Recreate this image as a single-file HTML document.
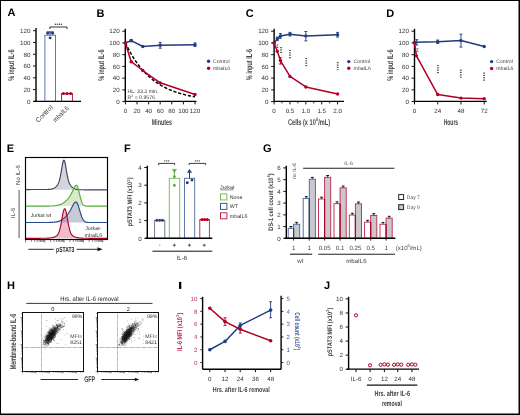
<!DOCTYPE html>
<html><head><meta charset="utf-8"><style>
html,body{margin:0;padding:0;background:#fff;}
svg{display:block;font-family:"Liberation Sans",sans-serif;will-change:transform;text-rendering:geometricPrecision;}
</style></head><body>
<svg width="520" height="415" viewBox="0 0 520 415">
<rect x="0" y="0" width="520" height="415" fill="#fff"/>
<text x="7.60" y="16.20" font-size="11.0" text-anchor="start" fill="#000" font-weight="bold" >A</text>
<line x1="36.00" y1="28.00" x2="36.00" y2="101.40" stroke="#000" stroke-width="1.4" />
<line x1="33.00" y1="101.40" x2="36.00" y2="101.40" stroke="#111" stroke-width="1.0" />
<text x="30.40" y="103.65" font-size="6.2" text-anchor="end" fill="#333" >0</text>
<line x1="33.00" y1="89.62" x2="36.00" y2="89.62" stroke="#111" stroke-width="1.0" />
<text x="30.40" y="91.87" font-size="6.2" text-anchor="end" fill="#333" >20</text>
<line x1="33.00" y1="77.83" x2="36.00" y2="77.83" stroke="#111" stroke-width="1.0" />
<text x="30.40" y="80.08" font-size="6.2" text-anchor="end" fill="#333" >40</text>
<line x1="33.00" y1="66.05" x2="36.00" y2="66.05" stroke="#111" stroke-width="1.0" />
<text x="30.40" y="68.30" font-size="6.2" text-anchor="end" fill="#333" >60</text>
<line x1="33.00" y1="54.26" x2="36.00" y2="54.26" stroke="#111" stroke-width="1.0" />
<text x="30.40" y="56.51" font-size="6.2" text-anchor="end" fill="#333" >80</text>
<line x1="33.00" y1="42.48" x2="36.00" y2="42.48" stroke="#111" stroke-width="1.0" />
<text x="30.40" y="44.73" font-size="6.2" text-anchor="end" fill="#333" >100</text>
<line x1="33.00" y1="30.70" x2="36.00" y2="30.70" stroke="#111" stroke-width="1.0" />
<text x="30.40" y="32.95" font-size="6.2" text-anchor="end" fill="#333" >120</text>
<rect x="44.9" y="35.2" width="10.6" height="66.2" fill="#fff" stroke="#4d68a3" stroke-width="0.9"/>
<rect x="61.6" y="93.6" width="10.8" height="7.8" fill="#fff" stroke="#b0002a" stroke-width="0.9"/>
<line x1="50.10" y1="31.90" x2="50.10" y2="35.20" stroke="#1f3c7c" stroke-width="1.0" />
<line x1="46.60" y1="32.00" x2="53.80" y2="32.00" stroke="#1f3c7c" stroke-width="1.2" />
<circle cx="47.70" cy="33.20" r="1.45" fill="#1f3c7c"/>
<circle cx="52.60" cy="33.20" r="1.45" fill="#1f3c7c"/>
<circle cx="50.10" cy="37.90" r="1.45" fill="#1f3c7c"/>
<circle cx="63.40" cy="93.50" r="1.55" fill="#b0002a"/>
<circle cx="67.00" cy="93.50" r="1.55" fill="#b0002a"/>
<circle cx="70.60" cy="93.50" r="1.55" fill="#b0002a"/>
<line x1="61.60" y1="93.70" x2="72.40" y2="93.70" stroke="#b0002a" stroke-width="1.1" />
<line x1="33.50" y1="101.40" x2="81.00" y2="101.40" stroke="#000" stroke-width="1.4" />
<path d="M49.9 29.0 V27.0 H67.0 V29.0" fill="none" stroke="#333" stroke-width="1"/>
<rect x="54.60" y="23.50" width="1.4" height="1.4" rx="0.5" fill="#555"/>
<rect x="56.65" y="23.50" width="1.4" height="1.4" rx="0.5" fill="#555"/>
<rect x="58.70" y="23.50" width="1.4" height="1.4" rx="0.5" fill="#555"/>
<rect x="60.75" y="23.50" width="1.4" height="1.4" rx="0.5" fill="#555"/>
<text x="53.20" y="107.80" font-size="6.6" text-anchor="end" fill="#333" textLength="21.0" lengthAdjust="spacingAndGlyphs" transform="rotate(-45 53.20 107.80)" >Control</text>
<text x="69.30" y="108.60" font-size="6.6" text-anchor="end" fill="#333" textLength="19.5" lengthAdjust="spacingAndGlyphs" transform="rotate(-45 69.30 108.60)" >mbaIL6</text>
<g transform="translate(13.90 65.20) rotate(-90) scale(0.6597 1)"><text x="0" y="0" font-size="8.4" text-anchor="middle" fill="#454545" font-weight="bold">% input IL-6</text></g>
<text x="96.50" y="16.50" font-size="11.0" text-anchor="start" fill="#000" font-weight="bold" >B</text>
<line x1="125.30" y1="28.80" x2="125.30" y2="101.40" stroke="#000" stroke-width="1.4" />
<line x1="122.30" y1="101.60" x2="125.30" y2="101.60" stroke="#111" stroke-width="1.0" />
<text x="119.70" y="103.85" font-size="6.2" text-anchor="end" fill="#333" >0</text>
<line x1="122.30" y1="89.87" x2="125.30" y2="89.87" stroke="#111" stroke-width="1.0" />
<text x="119.70" y="92.12" font-size="6.2" text-anchor="end" fill="#333" >20</text>
<line x1="122.30" y1="78.14" x2="125.30" y2="78.14" stroke="#111" stroke-width="1.0" />
<text x="119.70" y="80.39" font-size="6.2" text-anchor="end" fill="#333" >40</text>
<line x1="122.30" y1="66.41" x2="125.30" y2="66.41" stroke="#111" stroke-width="1.0" />
<text x="119.70" y="68.66" font-size="6.2" text-anchor="end" fill="#333" >60</text>
<line x1="122.30" y1="54.68" x2="125.30" y2="54.68" stroke="#111" stroke-width="1.0" />
<text x="119.70" y="56.93" font-size="6.2" text-anchor="end" fill="#333" >80</text>
<line x1="122.30" y1="42.95" x2="125.30" y2="42.95" stroke="#111" stroke-width="1.0" />
<text x="119.70" y="45.20" font-size="6.2" text-anchor="end" fill="#333" >100</text>
<line x1="122.30" y1="31.22" x2="125.30" y2="31.22" stroke="#111" stroke-width="1.0" />
<text x="119.70" y="33.47" font-size="6.2" text-anchor="end" fill="#333" >120</text>
<line x1="125.30" y1="101.40" x2="196.50" y2="101.40" stroke="#000" stroke-width="1.4" />
<line x1="125.40" y1="101.40" x2="125.40" y2="104.40" stroke="#111" stroke-width="1.0" />
<text x="125.40" y="113.20" font-size="6.2" text-anchor="middle" fill="#333" >0</text>
<line x1="137.00" y1="101.40" x2="137.00" y2="104.40" stroke="#111" stroke-width="1.0" />
<text x="137.00" y="113.20" font-size="6.2" text-anchor="middle" fill="#333" >20</text>
<line x1="148.60" y1="101.40" x2="148.60" y2="104.40" stroke="#111" stroke-width="1.0" />
<text x="148.60" y="113.20" font-size="6.2" text-anchor="middle" fill="#333" >40</text>
<line x1="160.20" y1="101.40" x2="160.20" y2="104.40" stroke="#111" stroke-width="1.0" />
<text x="160.20" y="113.20" font-size="6.2" text-anchor="middle" fill="#333" >60</text>
<line x1="171.80" y1="101.40" x2="171.80" y2="104.40" stroke="#111" stroke-width="1.0" />
<text x="171.80" y="113.20" font-size="6.2" text-anchor="middle" fill="#333" >80</text>
<line x1="183.40" y1="101.40" x2="183.40" y2="104.40" stroke="#111" stroke-width="1.0" />
<text x="183.40" y="113.20" font-size="6.2" text-anchor="middle" fill="#333" >100</text>
<line x1="195.00" y1="101.40" x2="195.00" y2="104.40" stroke="#111" stroke-width="1.0" />
<text x="195.00" y="113.20" font-size="6.2" text-anchor="middle" fill="#333" >120</text>
<g transform="translate(103.60 65.20) rotate(-90) scale(0.6597 1)"><text x="0" y="0" font-size="8.4" text-anchor="middle" fill="#454545" font-weight="bold">% input IL-6</text></g>
<g transform="translate(161.80 125.00) rotate(0) scale(0.6365 1)"><text x="0" y="0" font-size="8.4" text-anchor="middle" fill="#454545" font-weight="bold">Minutes</text></g>
<polyline points="125.40,42.95 126.56,45.35 127.72,47.65 128.88,49.86 130.04,51.97 131.20,54.00 132.36,55.95 133.52,57.81 134.68,59.61 135.84,61.32 137.00,62.97 138.16,64.55 139.32,66.07 140.48,67.52 141.64,68.91 142.80,70.25 143.96,71.53 145.12,72.76 146.28,73.94 147.44,75.07 148.60,76.16 149.76,77.20 150.92,78.19 152.08,79.15 153.24,80.07 154.40,80.95 155.56,81.79 156.72,82.60 157.88,83.38 159.04,84.13 160.20,84.84 161.36,85.53 162.52,86.18 163.68,86.81 164.84,87.42 166.00,88.00 167.16,88.56 168.32,89.09 169.48,89.60 170.64,90.09 171.80,90.56 172.96,91.01 174.12,91.45 175.28,91.86 176.44,92.26 177.60,92.64 178.76,93.01 179.92,93.36 181.08,93.70 182.24,94.02 183.40,94.33 184.56,94.63 185.72,94.91 186.88,95.19 188.04,95.45 189.20,95.70 190.36,95.94 191.52,96.17 192.68,96.39 193.84,96.61 195.00,96.81" stroke="#000" stroke-width="1.5" fill="none" stroke-linejoin="round" stroke-dasharray="3.2,1.8"/>
<polyline points="125.40,42.95 131.20,40.60 142.80,46.47 160.20,45.30 195.00,44.71" stroke="#1f3c7c" stroke-width="1.5" fill="none" stroke-linejoin="round" />
<polyline points="125.40,42.95 131.20,61.72 142.80,70.52 160.20,82.83 195.00,94.56" stroke="#b0002a" stroke-width="1.5" fill="none" stroke-linejoin="round" />
<line x1="160.20" y1="42.36" x2="160.20" y2="48.23" stroke="#1f3c7c" stroke-width="0.9" />
<line x1="158.70" y1="42.36" x2="161.70" y2="42.36" stroke="#1f3c7c" stroke-width="0.9" />
<line x1="158.70" y1="48.23" x2="161.70" y2="48.23" stroke="#1f3c7c" stroke-width="0.9" />
<line x1="195.00" y1="42.95" x2="195.00" y2="46.47" stroke="#1f3c7c" stroke-width="0.9" />
<line x1="193.50" y1="42.95" x2="196.50" y2="42.95" stroke="#1f3c7c" stroke-width="0.9" />
<line x1="193.50" y1="46.47" x2="196.50" y2="46.47" stroke="#1f3c7c" stroke-width="0.9" />
<line x1="131.20" y1="39.43" x2="131.20" y2="41.78" stroke="#1f3c7c" stroke-width="0.9" />
<line x1="129.70" y1="39.43" x2="132.70" y2="39.43" stroke="#1f3c7c" stroke-width="0.9" />
<line x1="129.70" y1="41.78" x2="132.70" y2="41.78" stroke="#1f3c7c" stroke-width="0.9" />
<circle cx="125.40" cy="42.95" r="1.7" fill="#1f3c7c"/>
<circle cx="131.20" cy="40.60" r="1.7" fill="#1f3c7c"/>
<circle cx="142.80" cy="46.47" r="1.7" fill="#1f3c7c"/>
<circle cx="160.20" cy="45.30" r="1.7" fill="#1f3c7c"/>
<circle cx="195.00" cy="44.71" r="1.7" fill="#1f3c7c"/>
<circle cx="125.40" cy="42.95" r="1.7" fill="#b0002a"/>
<circle cx="131.20" cy="61.72" r="1.7" fill="#b0002a"/>
<circle cx="142.80" cy="70.52" r="1.7" fill="#b0002a"/>
<circle cx="160.20" cy="82.83" r="1.7" fill="#b0002a"/>
<circle cx="195.00" cy="94.56" r="1.7" fill="#b0002a"/>
<text x="127.60" y="93.00" font-size="5.2" text-anchor="start" fill="#333" >HL: 33.2 min.</text>
<text x="127.60" y="99.00" font-size="5.2" text-anchor="start" fill="#333" >R<tspan font-size="3.3" dy="-2.1">2</tspan><tspan dy="2.1"> = 0.9576</tspan></text>
<circle cx="208.60" cy="61.30" r="1.7" fill="#1f3c7c"/>
<text x="213.00" y="63.15" font-size="5.15" text-anchor="start" fill="#444" >Control</text>
<circle cx="208.60" cy="68.20" r="1.7" fill="#b0002a"/>
<text x="213.00" y="70.05" font-size="5.15" text-anchor="start" fill="#444" >mbaIL6</text>
<text x="245.70" y="16.50" font-size="11.0" text-anchor="start" fill="#000" font-weight="bold" >C</text>
<line x1="274.10" y1="28.80" x2="274.10" y2="101.40" stroke="#000" stroke-width="1.4" />
<line x1="271.10" y1="101.60" x2="274.10" y2="101.60" stroke="#111" stroke-width="1.0" />
<text x="268.50" y="103.85" font-size="6.2" text-anchor="end" fill="#333" >0</text>
<line x1="271.10" y1="89.87" x2="274.10" y2="89.87" stroke="#111" stroke-width="1.0" />
<text x="268.50" y="92.12" font-size="6.2" text-anchor="end" fill="#333" >20</text>
<line x1="271.10" y1="78.14" x2="274.10" y2="78.14" stroke="#111" stroke-width="1.0" />
<text x="268.50" y="80.39" font-size="6.2" text-anchor="end" fill="#333" >40</text>
<line x1="271.10" y1="66.41" x2="274.10" y2="66.41" stroke="#111" stroke-width="1.0" />
<text x="268.50" y="68.66" font-size="6.2" text-anchor="end" fill="#333" >60</text>
<line x1="271.10" y1="54.68" x2="274.10" y2="54.68" stroke="#111" stroke-width="1.0" />
<text x="268.50" y="56.93" font-size="6.2" text-anchor="end" fill="#333" >80</text>
<line x1="271.10" y1="42.95" x2="274.10" y2="42.95" stroke="#111" stroke-width="1.0" />
<text x="268.50" y="45.20" font-size="6.2" text-anchor="end" fill="#333" >100</text>
<line x1="271.10" y1="31.22" x2="274.10" y2="31.22" stroke="#111" stroke-width="1.0" />
<text x="268.50" y="33.47" font-size="6.2" text-anchor="end" fill="#333" >120</text>
<line x1="274.10" y1="101.40" x2="344.00" y2="101.40" stroke="#000" stroke-width="1.4" />
<line x1="274.10" y1="101.40" x2="274.10" y2="104.40" stroke="#111" stroke-width="1.0" />
<text x="274.10" y="113.20" font-size="6.2" text-anchor="middle" fill="#333" >0</text>
<line x1="289.98" y1="101.40" x2="289.98" y2="104.40" stroke="#111" stroke-width="1.0" />
<text x="289.98" y="113.20" font-size="6.2" text-anchor="middle" fill="#333" >0.5</text>
<line x1="305.85" y1="101.40" x2="305.85" y2="104.40" stroke="#111" stroke-width="1.0" />
<text x="305.85" y="113.20" font-size="6.2" text-anchor="middle" fill="#333" >1.0</text>
<line x1="321.73" y1="101.40" x2="321.73" y2="104.40" stroke="#111" stroke-width="1.0" />
<text x="321.73" y="113.20" font-size="6.2" text-anchor="middle" fill="#333" >1.5</text>
<line x1="337.60" y1="101.40" x2="337.60" y2="104.40" stroke="#111" stroke-width="1.0" />
<text x="337.60" y="113.20" font-size="6.2" text-anchor="middle" fill="#333" >2.0</text>
<line x1="282.04" y1="101.40" x2="282.04" y2="103.40" stroke="#111" stroke-width="0.9" />
<line x1="297.91" y1="101.40" x2="297.91" y2="103.40" stroke="#111" stroke-width="0.9" />
<line x1="313.79" y1="101.40" x2="313.79" y2="103.40" stroke="#111" stroke-width="0.9" />
<line x1="329.66" y1="101.40" x2="329.66" y2="103.40" stroke="#111" stroke-width="0.9" />
<g transform="translate(252.00 64.60) rotate(-90) scale(0.6597 1)"><text x="0" y="0" font-size="8.4" text-anchor="middle" fill="#454545" font-weight="bold">% input IL-6</text></g>
<g transform="translate(309.05 124.70) rotate(0) scale(0.6712 1)"><text x="0" y="0" font-size="8.4" text-anchor="middle" fill="#454545" font-weight="bold">Cells (x 10<tspan font-size="5.04" dx="0.42" dy="-3.53">6</tspan><tspan dx="0.42" dy="3.53">/mL)</tspan></text></g>
<polyline points="274.10,42.95 277.28,38.84 280.45,35.91 289.98,34.15 305.85,35.91 337.60,34.74" stroke="#1f3c7c" stroke-width="1.5" fill="none" stroke-linejoin="round" />
<polyline points="274.10,42.95 277.28,51.16 280.45,60.54 289.98,76.38 305.85,86.94 337.60,93.98" stroke="#b0002a" stroke-width="1.5" fill="none" stroke-linejoin="round" />
<line x1="277.28" y1="37.08" x2="277.28" y2="40.60" stroke="#1f3c7c" stroke-width="0.9" />
<line x1="275.78" y1="37.08" x2="278.78" y2="37.08" stroke="#1f3c7c" stroke-width="0.9" />
<line x1="275.78" y1="40.60" x2="278.78" y2="40.60" stroke="#1f3c7c" stroke-width="0.9" />
<line x1="280.45" y1="33.57" x2="280.45" y2="38.26" stroke="#1f3c7c" stroke-width="0.9" />
<line x1="278.95" y1="33.57" x2="281.95" y2="33.57" stroke="#1f3c7c" stroke-width="0.9" />
<line x1="278.95" y1="38.26" x2="281.95" y2="38.26" stroke="#1f3c7c" stroke-width="0.9" />
<line x1="289.98" y1="32.39" x2="289.98" y2="35.91" stroke="#1f3c7c" stroke-width="0.9" />
<line x1="288.48" y1="32.39" x2="291.48" y2="32.39" stroke="#1f3c7c" stroke-width="0.9" />
<line x1="288.48" y1="35.91" x2="291.48" y2="35.91" stroke="#1f3c7c" stroke-width="0.9" />
<line x1="305.85" y1="31.51" x2="305.85" y2="40.90" stroke="#1f3c7c" stroke-width="0.9" />
<line x1="304.35" y1="31.51" x2="307.35" y2="31.51" stroke="#1f3c7c" stroke-width="0.9" />
<line x1="304.35" y1="40.90" x2="307.35" y2="40.90" stroke="#1f3c7c" stroke-width="0.9" />
<line x1="337.60" y1="32.39" x2="337.60" y2="37.08" stroke="#1f3c7c" stroke-width="0.9" />
<line x1="336.10" y1="32.39" x2="339.10" y2="32.39" stroke="#1f3c7c" stroke-width="0.9" />
<line x1="336.10" y1="37.08" x2="339.10" y2="37.08" stroke="#1f3c7c" stroke-width="0.9" />
<line x1="280.45" y1="57.61" x2="280.45" y2="64.06" stroke="#b0002a" stroke-width="0.9" />
<line x1="278.95" y1="57.61" x2="281.95" y2="57.61" stroke="#b0002a" stroke-width="0.9" />
<line x1="278.95" y1="64.06" x2="281.95" y2="64.06" stroke="#b0002a" stroke-width="0.9" />
<circle cx="274.10" cy="42.95" r="1.7" fill="#1f3c7c"/>
<circle cx="277.28" cy="38.84" r="1.7" fill="#1f3c7c"/>
<circle cx="280.45" cy="35.91" r="1.7" fill="#1f3c7c"/>
<circle cx="289.98" cy="34.15" r="1.7" fill="#1f3c7c"/>
<circle cx="305.85" cy="35.91" r="1.7" fill="#1f3c7c"/>
<circle cx="337.60" cy="34.74" r="1.7" fill="#1f3c7c"/>
<circle cx="274.10" cy="42.95" r="1.7" fill="#b0002a"/>
<circle cx="277.28" cy="51.16" r="1.7" fill="#b0002a"/>
<circle cx="280.45" cy="60.54" r="1.7" fill="#b0002a"/>
<circle cx="289.98" cy="76.38" r="1.7" fill="#b0002a"/>
<circle cx="305.85" cy="86.94" r="1.7" fill="#b0002a"/>
<circle cx="337.60" cy="93.98" r="1.7" fill="#b0002a"/>
<rect x="276.40" y="44.40" width="2.0" height="1.2" rx="0.4" fill="#555"/>
<rect x="276.40" y="46.75" width="2.0" height="1.2" rx="0.4" fill="#555"/>
<rect x="280.10" y="47.00" width="2.0" height="1.2" rx="0.4" fill="#555"/>
<rect x="280.10" y="49.35" width="2.0" height="1.2" rx="0.4" fill="#555"/>
<rect x="280.10" y="51.70" width="2.0" height="1.2" rx="0.4" fill="#555"/>
<rect x="288.90" y="49.90" width="2.0" height="1.2" rx="0.4" fill="#555"/>
<rect x="288.90" y="52.25" width="2.0" height="1.2" rx="0.4" fill="#555"/>
<rect x="288.90" y="54.60" width="2.0" height="1.2" rx="0.4" fill="#555"/>
<rect x="288.90" y="56.95" width="2.0" height="1.2" rx="0.4" fill="#555"/>
<rect x="305.20" y="57.90" width="2.0" height="1.2" rx="0.4" fill="#555"/>
<rect x="305.20" y="60.25" width="2.0" height="1.2" rx="0.4" fill="#555"/>
<rect x="305.20" y="62.60" width="2.0" height="1.2" rx="0.4" fill="#555"/>
<rect x="305.20" y="64.95" width="2.0" height="1.2" rx="0.4" fill="#555"/>
<rect x="336.70" y="62.10" width="2.0" height="1.2" rx="0.4" fill="#555"/>
<rect x="336.70" y="64.45" width="2.0" height="1.2" rx="0.4" fill="#555"/>
<rect x="336.70" y="66.80" width="2.0" height="1.2" rx="0.4" fill="#555"/>
<rect x="336.70" y="69.15" width="2.0" height="1.2" rx="0.4" fill="#555"/>
<circle cx="348.80" cy="61.60" r="1.7" fill="#1f3c7c"/>
<text x="353.60" y="63.45" font-size="5.15" text-anchor="start" fill="#444" >Control</text>
<circle cx="348.80" cy="68.30" r="1.7" fill="#b0002a"/>
<text x="353.60" y="70.15" font-size="5.15" text-anchor="start" fill="#444" >mbaIL6</text>
<text x="386.20" y="16.50" font-size="11.0" text-anchor="start" fill="#000" font-weight="bold" >D</text>
<line x1="414.50" y1="28.80" x2="414.50" y2="101.40" stroke="#000" stroke-width="1.4" />
<line x1="411.50" y1="101.60" x2="414.50" y2="101.60" stroke="#111" stroke-width="1.0" />
<text x="408.90" y="103.85" font-size="6.2" text-anchor="end" fill="#333" >0</text>
<line x1="411.50" y1="89.87" x2="414.50" y2="89.87" stroke="#111" stroke-width="1.0" />
<text x="408.90" y="92.12" font-size="6.2" text-anchor="end" fill="#333" >20</text>
<line x1="411.50" y1="78.14" x2="414.50" y2="78.14" stroke="#111" stroke-width="1.0" />
<text x="408.90" y="80.39" font-size="6.2" text-anchor="end" fill="#333" >40</text>
<line x1="411.50" y1="66.41" x2="414.50" y2="66.41" stroke="#111" stroke-width="1.0" />
<text x="408.90" y="68.66" font-size="6.2" text-anchor="end" fill="#333" >60</text>
<line x1="411.50" y1="54.68" x2="414.50" y2="54.68" stroke="#111" stroke-width="1.0" />
<text x="408.90" y="56.93" font-size="6.2" text-anchor="end" fill="#333" >80</text>
<line x1="411.50" y1="42.95" x2="414.50" y2="42.95" stroke="#111" stroke-width="1.0" />
<text x="408.90" y="45.20" font-size="6.2" text-anchor="end" fill="#333" >100</text>
<line x1="411.50" y1="31.22" x2="414.50" y2="31.22" stroke="#111" stroke-width="1.0" />
<text x="408.90" y="33.47" font-size="6.2" text-anchor="end" fill="#333" >120</text>
<line x1="414.50" y1="101.40" x2="486.80" y2="101.40" stroke="#000" stroke-width="1.4" />
<line x1="414.50" y1="101.40" x2="414.50" y2="104.40" stroke="#111" stroke-width="1.0" />
<text x="414.50" y="113.20" font-size="6.2" text-anchor="middle" fill="#333" >0</text>
<line x1="437.73" y1="101.40" x2="437.73" y2="104.40" stroke="#111" stroke-width="1.0" />
<text x="437.73" y="113.20" font-size="6.2" text-anchor="middle" fill="#333" >24</text>
<line x1="460.96" y1="101.40" x2="460.96" y2="104.40" stroke="#111" stroke-width="1.0" />
<text x="460.96" y="113.20" font-size="6.2" text-anchor="middle" fill="#333" >48</text>
<line x1="484.20" y1="101.40" x2="484.20" y2="104.40" stroke="#111" stroke-width="1.0" />
<text x="484.20" y="113.20" font-size="6.2" text-anchor="middle" fill="#333" >72</text>
<g transform="translate(393.00 65.20) rotate(-90) scale(0.6597 1)"><text x="0" y="0" font-size="8.4" text-anchor="middle" fill="#454545" font-weight="bold">% input IL-6</text></g>
<g transform="translate(450.90 125.00) rotate(0) scale(0.5975 1)"><text x="0" y="0" font-size="8.4" text-anchor="middle" fill="#454545" font-weight="bold">Hours</text></g>
<polyline points="414.50,42.36 437.73,41.78 460.96,40.60 484.20,46.47" stroke="#1f3c7c" stroke-width="1.5" fill="none" stroke-linejoin="round" />
<polyline points="414.50,42.95 416.44,55.85 437.73,94.56 460.96,98.08 484.20,98.67" stroke="#b0002a" stroke-width="1.5" fill="none" stroke-linejoin="round" />
<line x1="416.70" y1="39.72" x2="416.70" y2="45.00" stroke="#1f3c7c" stroke-width="1.0" />
<line x1="415.20" y1="39.72" x2="418.20" y2="39.72" stroke="#1f3c7c" stroke-width="1.0" />
<line x1="415.20" y1="45.00" x2="418.20" y2="45.00" stroke="#1f3c7c" stroke-width="1.0" />
<line x1="437.73" y1="40.02" x2="437.73" y2="43.54" stroke="#1f3c7c" stroke-width="0.9" />
<line x1="436.23" y1="40.02" x2="439.23" y2="40.02" stroke="#1f3c7c" stroke-width="0.9" />
<line x1="436.23" y1="43.54" x2="439.23" y2="43.54" stroke="#1f3c7c" stroke-width="0.9" />
<line x1="460.96" y1="34.15" x2="460.96" y2="47.06" stroke="#1f3c7c" stroke-width="0.9" />
<line x1="459.46" y1="34.15" x2="462.46" y2="34.15" stroke="#1f3c7c" stroke-width="0.9" />
<line x1="459.46" y1="47.06" x2="462.46" y2="47.06" stroke="#1f3c7c" stroke-width="0.9" />
<circle cx="414.50" cy="42.36" r="1.7" fill="#1f3c7c"/>
<circle cx="437.73" cy="41.78" r="1.7" fill="#1f3c7c"/>
<circle cx="460.96" cy="40.60" r="1.7" fill="#1f3c7c"/>
<circle cx="484.20" cy="46.47" r="1.7" fill="#1f3c7c"/>
<circle cx="414.50" cy="42.95" r="1.7" fill="#b0002a"/>
<circle cx="416.44" cy="55.85" r="1.7" fill="#b0002a"/>
<circle cx="437.73" cy="94.56" r="1.7" fill="#b0002a"/>
<circle cx="460.96" cy="98.08" r="1.7" fill="#b0002a"/>
<circle cx="484.20" cy="98.67" r="1.7" fill="#b0002a"/>
<rect x="416.50" y="48.30" width="2.0" height="1.2" rx="0.4" fill="#555"/>
<rect x="416.50" y="50.65" width="2.0" height="1.2" rx="0.4" fill="#555"/>
<rect x="436.90" y="64.90" width="2.0" height="1.2" rx="0.4" fill="#555"/>
<rect x="436.90" y="67.25" width="2.0" height="1.2" rx="0.4" fill="#555"/>
<rect x="436.90" y="69.60" width="2.0" height="1.2" rx="0.4" fill="#555"/>
<rect x="436.90" y="71.95" width="2.0" height="1.2" rx="0.4" fill="#555"/>
<rect x="459.80" y="69.50" width="2.0" height="1.2" rx="0.4" fill="#555"/>
<rect x="459.80" y="71.85" width="2.0" height="1.2" rx="0.4" fill="#555"/>
<rect x="459.80" y="74.20" width="2.0" height="1.2" rx="0.4" fill="#555"/>
<rect x="459.80" y="76.55" width="2.0" height="1.2" rx="0.4" fill="#555"/>
<rect x="483.10" y="72.50" width="2.0" height="1.2" rx="0.4" fill="#555"/>
<rect x="483.10" y="74.85" width="2.0" height="1.2" rx="0.4" fill="#555"/>
<rect x="483.10" y="77.20" width="2.0" height="1.2" rx="0.4" fill="#555"/>
<rect x="483.10" y="79.55" width="2.0" height="1.2" rx="0.4" fill="#555"/>
<circle cx="491.60" cy="61.60" r="1.7" fill="#1f3c7c"/>
<text x="496.30" y="63.45" font-size="5.15" text-anchor="start" fill="#444" >Control</text>
<circle cx="491.60" cy="68.50" r="1.7" fill="#b0002a"/>
<text x="496.30" y="70.35" font-size="5.15" text-anchor="start" fill="#444" >mbaIL6</text>
<text x="6.70" y="151.70" font-size="11.0" text-anchor="start" fill="#000" font-weight="bold" >E</text>
<path d="M25.50 189.63 L25.90 189.62 L26.30 189.62 L26.70 189.61 L27.10 189.60 L27.50 189.60 L27.90 189.59 L28.30 189.58 L28.70 189.58 L29.10 189.57 L29.50 189.56 L29.90 189.55 L30.30 189.55 L30.70 189.54 L31.10 189.53 L31.50 189.53 L31.90 189.52 L32.30 189.52 L32.70 189.51 L33.10 189.50 L33.50 189.50 L33.90 189.49 L34.30 189.49 L34.70 189.48 L35.10 189.48 L35.50 189.47 L35.90 189.47 L36.30 189.47 L36.70 189.46 L37.10 189.46 L37.50 189.46 L37.90 189.46 L38.30 189.45 L38.70 189.45 L39.10 189.45 L39.50 189.45 L39.90 189.45 L40.30 189.45 L40.70 189.45 L41.10 189.45 L41.50 189.45 L41.90 189.45 L42.30 189.46 L42.70 189.46 L43.10 189.46 L43.50 189.46 L43.90 189.46 L44.30 189.47 L44.70 189.47 L45.10 189.47 L45.50 189.47 L45.90 189.47 L46.30 189.47 L46.70 189.47 L47.10 189.47 L47.50 189.46 L47.90 189.46 L48.30 189.44 L48.70 189.43 L49.10 189.41 L49.50 189.38 L49.90 189.35 L50.30 189.30 L50.70 189.25 L51.10 189.18 L51.50 189.10 L51.90 189.00 L52.30 188.89 L52.70 188.76 L53.10 188.60 L53.50 188.42 L53.90 188.22 L54.30 187.99 L54.70 187.73 L55.10 187.43 L55.50 187.11 L55.90 186.75 L56.30 186.35 L56.70 185.90 L57.10 185.40 L57.50 184.83 L57.90 184.18 L58.30 183.40 L58.70 182.49 L59.10 181.39 L59.50 180.07 L59.90 178.50 L60.30 176.68 L60.70 174.60 L61.10 172.31 L61.50 169.89 L61.90 167.44 L62.30 165.13 L62.70 163.10 L63.10 161.51 L63.50 160.50 L63.90 160.15 L64.30 160.50 L64.70 161.52 L65.10 163.11 L65.50 165.15 L65.90 167.47 L66.30 169.92 L66.70 172.35 L67.10 174.65 L67.50 176.74 L67.90 178.57 L68.30 180.14 L68.70 181.46 L69.10 182.57 L69.50 183.50 L69.90 184.27 L70.30 184.94 L70.70 185.52 L71.10 186.02 L71.50 186.48 L71.90 186.88 L72.30 187.25 L72.70 187.58 L73.10 187.88 L73.50 188.15 L73.90 188.39 L74.30 188.60 L74.70 188.79 L75.10 188.95 L75.50 189.09 L75.90 189.21 L76.30 189.32 L76.70 189.41 L77.10 189.48 L77.50 189.54 L77.90 189.59 L78.30 189.63 L78.70 189.67 L79.10 189.70 L79.50 189.72 L79.90 189.74 L80.30 189.75 L80.70 189.76 L81.10 189.77 L81.50 189.78 L81.90 189.78 L82.30 189.79 L82.70 189.79 L83.10 189.79 L83.50 189.79 L83.90 189.80 L84.30 189.80 L84.70 189.80 L85.10 189.80 L85.50 189.80 L85.90 189.80 L86.30 189.80 L86.70 189.80 L87.10 189.80 L87.50 189.80 L87.90 189.80 L88.30 189.80 L88.70 189.80 L89.10 189.80 L89.50 189.80 L89.90 189.80 L90.30 189.80 L90.70 189.80 L91.10 189.80 L91.50 189.80 L91.90 189.80 L92.30 189.80 L92.70 189.80 L93.10 189.80 L93.50 189.80 L93.90 189.80 L94.30 189.80 L94.70 189.80 L95.10 189.80 L95.50 189.80 L95.90 189.80 L96.30 189.80 L96.70 189.80 L97.10 189.80 L97.50 189.80 L97.90 189.80 L98.30 189.80 L98.70 189.80 L99.10 189.80 L99.50 189.80 L99.90 189.80 L100.30 189.80 L100.70 189.80 L101.10 189.80 L101.50 189.80 L101.90 189.80 L102.30 189.80 L102.70 189.80 L103.10 189.80 L103.50 189.80 L103.90 189.80 L104.30 189.80 L104.70 189.80 L105.10 189.80 L105.50 189.80 L105.90 189.80 L106.30 189.80 L106.70 189.80 L107.10 189.80 L107.50 189.80 L107.50 189.80 L107.5 189.8 L25.5 189.8 Z" fill="#d3d5db" fill-opacity="1.0" stroke="none"/>
<path d="M25.50 206.10 L25.90 206.10 L26.30 206.10 L26.70 206.10 L27.10 206.10 L27.50 206.10 L27.90 206.10 L28.30 206.10 L28.70 206.10 L29.10 206.10 L29.50 206.10 L29.90 206.10 L30.30 206.10 L30.70 206.10 L31.10 206.10 L31.50 206.10 L31.90 206.10 L32.30 206.10 L32.70 206.10 L33.10 206.10 L33.50 206.10 L33.90 206.10 L34.30 206.10 L34.70 206.10 L35.10 206.10 L35.50 206.10 L35.90 206.10 L36.30 206.10 L36.70 206.10 L37.10 206.10 L37.50 206.10 L37.90 206.10 L38.30 206.10 L38.70 206.10 L39.10 206.10 L39.50 206.10 L39.90 206.10 L40.30 206.10 L40.70 206.10 L41.10 206.10 L41.50 206.10 L41.90 206.10 L42.30 206.10 L42.70 206.10 L43.10 206.10 L43.50 206.10 L43.90 206.10 L44.30 206.10 L44.70 206.10 L45.10 206.09 L45.50 206.09 L45.90 206.09 L46.30 206.09 L46.70 206.09 L47.10 206.09 L47.50 206.08 L47.90 206.08 L48.30 206.07 L48.70 206.07 L49.10 206.06 L49.50 206.06 L49.90 206.05 L50.30 206.04 L50.70 206.03 L51.10 206.02 L51.50 206.01 L51.90 205.99 L52.30 205.97 L52.70 205.95 L53.10 205.93 L53.50 205.90 L53.90 205.87 L54.30 205.83 L54.70 205.79 L55.10 205.75 L55.50 205.70 L55.90 205.64 L56.30 205.58 L56.70 205.51 L57.10 205.44 L57.50 205.35 L57.90 205.26 L58.30 205.16 L58.70 205.04 L59.10 204.92 L59.50 204.79 L59.90 204.64 L60.30 204.49 L60.70 204.32 L61.10 204.13 L61.50 203.94 L61.90 203.73 L62.30 203.50 L62.70 203.27 L63.10 203.02 L63.50 202.75 L63.90 202.47 L64.30 202.17 L64.70 201.87 L65.10 201.54 L65.50 201.20 L65.90 200.85 L66.30 200.49 L66.70 200.10 L67.10 199.70 L67.50 199.28 L67.90 198.84 L68.30 198.37 L68.70 197.88 L69.10 197.35 L69.50 196.78 L69.90 196.18 L70.30 195.53 L70.70 194.84 L71.10 194.10 L71.50 193.32 L71.90 192.50 L72.30 191.64 L72.70 190.77 L73.10 189.89 L73.50 189.02 L73.90 188.20 L74.30 187.42 L74.70 186.74 L75.10 186.15 L75.50 185.70 L75.90 185.38 L76.30 185.22 L76.70 185.25 L77.10 185.64 L77.50 186.41 L77.90 187.50 L78.30 188.86 L78.70 190.43 L79.10 192.12 L79.50 193.86 L79.90 195.59 L80.30 197.24 L80.70 198.78 L81.10 200.16 L81.50 201.37 L81.90 202.41 L82.30 203.27 L82.70 203.97 L83.10 204.53 L83.50 204.97 L83.90 205.29 L84.30 205.54 L84.70 205.72 L85.10 205.84 L85.50 205.93 L85.90 205.99 L86.30 206.03 L86.70 206.06 L87.10 206.07 L87.50 206.08 L87.90 206.09 L88.30 206.09 L88.70 206.10 L89.10 206.10 L89.50 206.10 L89.90 206.10 L90.30 206.10 L90.70 206.10 L91.10 206.10 L91.50 206.10 L91.90 206.10 L92.30 206.10 L92.70 206.10 L93.10 206.10 L93.50 206.10 L93.90 206.10 L94.30 206.10 L94.70 206.10 L95.10 206.10 L95.50 206.10 L95.90 206.10 L96.30 206.10 L96.70 206.10 L97.10 206.10 L97.50 206.10 L97.90 206.10 L98.30 206.10 L98.70 206.10 L99.10 206.10 L99.50 206.10 L99.90 206.10 L100.30 206.10 L100.70 206.10 L101.10 206.10 L101.50 206.10 L101.90 206.10 L102.30 206.10 L102.70 206.10 L103.10 206.10 L103.50 206.10 L103.90 206.10 L104.30 206.10 L104.70 206.10 L105.10 206.10 L105.50 206.10 L105.90 206.10 L106.30 206.10 L106.70 206.10 L107.10 206.10 L107.50 206.10 L107.50 206.10 L107.5 206.1 L25.5 206.1 Z" fill="#d8eacb" fill-opacity="1.0" stroke="none"/>
<path d="M25.50 222.50 L25.90 222.50 L26.30 222.50 L26.70 222.50 L27.10 222.50 L27.50 222.50 L27.90 222.50 L28.30 222.50 L28.70 222.50 L29.10 222.50 L29.50 222.50 L29.90 222.50 L30.30 222.50 L30.70 222.50 L31.10 222.50 L31.50 222.50 L31.90 222.50 L32.30 222.50 L32.70 222.50 L33.10 222.50 L33.50 222.50 L33.90 222.50 L34.30 222.50 L34.70 222.50 L35.10 222.50 L35.50 222.50 L35.90 222.50 L36.30 222.50 L36.70 222.50 L37.10 222.50 L37.50 222.50 L37.90 222.50 L38.30 222.50 L38.70 222.50 L39.10 222.50 L39.50 222.50 L39.90 222.50 L40.30 222.50 L40.70 222.50 L41.10 222.50 L41.50 222.50 L41.90 222.50 L42.30 222.50 L42.70 222.50 L43.10 222.50 L43.50 222.50 L43.90 222.50 L44.30 222.49 L44.70 222.49 L45.10 222.49 L45.50 222.49 L45.90 222.49 L46.30 222.49 L46.70 222.48 L47.10 222.48 L47.50 222.48 L47.90 222.47 L48.30 222.47 L48.70 222.46 L49.10 222.45 L49.50 222.44 L49.90 222.43 L50.30 222.42 L50.70 222.41 L51.10 222.40 L51.50 222.38 L51.90 222.36 L52.30 222.33 L52.70 222.31 L53.10 222.28 L53.50 222.24 L53.90 222.21 L54.30 222.16 L54.70 222.12 L55.10 222.06 L55.50 222.00 L55.90 221.93 L56.30 221.86 L56.70 221.77 L57.10 221.68 L57.50 221.58 L57.90 221.47 L58.30 221.35 L58.70 221.21 L59.10 221.07 L59.50 220.91 L59.90 220.74 L60.30 220.56 L60.70 220.36 L61.10 220.15 L61.50 219.92 L61.90 219.68 L62.30 219.42 L62.70 219.15 L63.10 218.86 L63.50 218.56 L63.90 218.24 L64.30 217.90 L64.70 217.55 L65.10 217.18 L65.50 216.79 L65.90 216.38 L66.30 215.96 L66.70 215.51 L67.10 215.04 L67.50 214.55 L67.90 214.03 L68.30 213.48 L68.70 212.90 L69.10 212.29 L69.50 211.64 L69.90 210.97 L70.30 210.26 L70.70 209.52 L71.10 208.76 L71.50 207.99 L71.90 207.20 L72.30 206.42 L72.70 205.66 L73.10 204.93 L73.50 204.25 L73.90 203.63 L74.30 203.10 L74.70 202.65 L75.10 202.32 L75.50 202.10 L75.90 202.00 L76.30 202.07 L76.70 202.38 L77.10 202.93 L77.50 203.70 L77.90 204.67 L78.30 205.78 L78.70 207.03 L79.10 208.35 L79.50 209.72 L79.90 211.10 L80.30 212.45 L80.70 213.76 L81.10 214.98 L81.50 216.12 L81.90 217.15 L82.30 218.07 L82.70 218.87 L83.10 219.57 L83.50 220.16 L83.90 220.65 L84.30 221.06 L84.70 221.39 L85.10 221.66 L85.50 221.87 L85.90 222.03 L86.30 222.16 L86.70 222.25 L87.10 222.32 L87.50 222.38 L87.90 222.41 L88.30 222.44 L88.70 222.46 L89.10 222.47 L89.50 222.48 L89.90 222.49 L90.30 222.49 L90.70 222.50 L91.10 222.50 L91.50 222.50 L91.90 222.50 L92.30 222.50 L92.70 222.50 L93.10 222.50 L93.50 222.50 L93.90 222.50 L94.30 222.50 L94.70 222.50 L95.10 222.50 L95.50 222.50 L95.90 222.50 L96.30 222.50 L96.70 222.50 L97.10 222.50 L97.50 222.50 L97.90 222.50 L98.30 222.50 L98.70 222.50 L99.10 222.50 L99.50 222.50 L99.90 222.50 L100.30 222.50 L100.70 222.50 L101.10 222.50 L101.50 222.50 L101.90 222.50 L102.30 222.50 L102.70 222.50 L103.10 222.50 L103.50 222.50 L103.90 222.50 L104.30 222.50 L104.70 222.50 L105.10 222.50 L105.50 222.50 L105.90 222.50 L106.30 222.50 L106.70 222.50 L107.10 222.50 L107.50 222.50 L107.50 222.50 L107.5 222.5 L25.5 222.5 Z" fill="#c6cad7" fill-opacity="1.0" stroke="none"/>
<path d="M25.50 238.30 L25.90 238.30 L26.30 238.30 L26.70 238.30 L27.10 238.30 L27.50 238.30 L27.90 238.30 L28.30 238.30 L28.70 238.30 L29.10 238.30 L29.50 238.30 L29.90 238.30 L30.30 238.30 L30.70 238.30 L31.10 238.30 L31.50 238.30 L31.90 238.30 L32.30 238.30 L32.70 238.30 L33.10 238.30 L33.50 238.30 L33.90 238.30 L34.30 238.30 L34.70 238.30 L35.10 238.30 L35.50 238.30 L35.90 238.30 L36.30 238.30 L36.70 238.30 L37.10 238.30 L37.50 238.30 L37.90 238.30 L38.30 238.30 L38.70 238.30 L39.10 238.30 L39.50 238.30 L39.90 238.30 L40.30 238.30 L40.70 238.30 L41.10 238.29 L41.50 238.29 L41.90 238.29 L42.30 238.29 L42.70 238.29 L43.10 238.28 L43.50 238.28 L43.90 238.27 L44.30 238.27 L44.70 238.26 L45.10 238.25 L45.50 238.24 L45.90 238.23 L46.30 238.22 L46.70 238.20 L47.10 238.19 L47.50 238.17 L47.90 238.14 L48.30 238.12 L48.70 238.09 L49.10 238.05 L49.50 238.01 L49.90 237.97 L50.30 237.92 L50.70 237.86 L51.10 237.80 L51.50 237.74 L51.90 237.66 L52.30 237.58 L52.70 237.49 L53.10 237.40 L53.50 237.29 L53.90 237.17 L54.30 237.04 L54.70 236.90 L55.10 236.74 L55.50 236.56 L55.90 236.35 L56.30 236.10 L56.70 235.80 L57.10 235.44 L57.50 234.98 L57.90 234.43 L58.30 233.74 L58.70 232.89 L59.10 231.85 L59.50 230.62 L59.90 229.16 L60.30 227.49 L60.70 225.60 L61.10 223.53 L61.50 221.33 L61.90 219.06 L62.30 216.80 L62.70 214.65 L63.10 212.71 L63.50 211.07 L63.90 209.84 L64.30 209.06 L64.70 208.80 L65.10 209.06 L65.50 209.84 L65.90 211.07 L66.30 212.71 L66.70 214.65 L67.10 216.80 L67.50 219.06 L67.90 221.33 L68.30 223.53 L68.70 225.60 L69.10 227.49 L69.50 229.16 L69.90 230.62 L70.30 231.85 L70.70 232.89 L71.10 233.74 L71.50 234.43 L71.90 234.98 L72.30 235.44 L72.70 235.80 L73.10 236.10 L73.50 236.35 L73.90 236.56 L74.30 236.74 L74.70 236.90 L75.10 237.04 L75.50 237.17 L75.90 237.29 L76.30 237.40 L76.70 237.49 L77.10 237.58 L77.50 237.66 L77.90 237.74 L78.30 237.80 L78.70 237.86 L79.10 237.92 L79.50 237.97 L79.90 238.01 L80.30 238.05 L80.70 238.09 L81.10 238.12 L81.50 238.14 L81.90 238.17 L82.30 238.19 L82.70 238.20 L83.10 238.22 L83.50 238.23 L83.90 238.24 L84.30 238.25 L84.70 238.26 L85.10 238.27 L85.50 238.27 L85.90 238.28 L86.30 238.28 L86.70 238.29 L87.10 238.29 L87.50 238.29 L87.90 238.29 L88.30 238.29 L88.70 238.30 L89.10 238.30 L89.50 238.30 L89.90 238.30 L90.30 238.30 L90.70 238.30 L91.10 238.30 L91.50 238.30 L91.90 238.30 L92.30 238.30 L92.70 238.30 L93.10 238.30 L93.50 238.30 L93.90 238.30 L94.30 238.30 L94.70 238.30 L95.10 238.30 L95.50 238.30 L95.90 238.30 L96.30 238.30 L96.70 238.30 L97.10 238.30 L97.50 238.30 L97.90 238.30 L98.30 238.30 L98.70 238.30 L99.10 238.30 L99.50 238.30 L99.90 238.30 L100.30 238.30 L100.70 238.30 L101.10 238.30 L101.50 238.30 L101.90 238.30 L102.30 238.30 L102.70 238.30 L103.10 238.30 L103.50 238.30 L103.90 238.30 L104.30 238.30 L104.70 238.30 L105.10 238.30 L105.50 238.30 L105.90 238.30 L106.30 238.30 L106.70 238.30 L107.10 238.30 L107.50 238.30 L107.50 238.30 L107.5 238.3 L25.5 238.3 Z" fill="#d8597a" fill-opacity="0.4" stroke="none"/>
<path d="M25.50 189.63 L25.90 189.62 L26.30 189.62 L26.70 189.61 L27.10 189.60 L27.50 189.60 L27.90 189.59 L28.30 189.58 L28.70 189.58 L29.10 189.57 L29.50 189.56 L29.90 189.55 L30.30 189.55 L30.70 189.54 L31.10 189.53 L31.50 189.53 L31.90 189.52 L32.30 189.52 L32.70 189.51 L33.10 189.50 L33.50 189.50 L33.90 189.49 L34.30 189.49 L34.70 189.48 L35.10 189.48 L35.50 189.47 L35.90 189.47 L36.30 189.47 L36.70 189.46 L37.10 189.46 L37.50 189.46 L37.90 189.46 L38.30 189.45 L38.70 189.45 L39.10 189.45 L39.50 189.45 L39.90 189.45 L40.30 189.45 L40.70 189.45 L41.10 189.45 L41.50 189.45 L41.90 189.45 L42.30 189.46 L42.70 189.46 L43.10 189.46 L43.50 189.46 L43.90 189.46 L44.30 189.47 L44.70 189.47 L45.10 189.47 L45.50 189.47 L45.90 189.47 L46.30 189.47 L46.70 189.47 L47.10 189.47 L47.50 189.46 L47.90 189.46 L48.30 189.44 L48.70 189.43 L49.10 189.41 L49.50 189.38 L49.90 189.35 L50.30 189.30 L50.70 189.25 L51.10 189.18 L51.50 189.10 L51.90 189.00 L52.30 188.89 L52.70 188.76 L53.10 188.60 L53.50 188.42 L53.90 188.22 L54.30 187.99 L54.70 187.73 L55.10 187.43 L55.50 187.11 L55.90 186.75 L56.30 186.35 L56.70 185.90 L57.10 185.40 L57.50 184.83 L57.90 184.18 L58.30 183.40 L58.70 182.49 L59.10 181.39 L59.50 180.07 L59.90 178.50 L60.30 176.68 L60.70 174.60 L61.10 172.31 L61.50 169.89 L61.90 167.44 L62.30 165.13 L62.70 163.10 L63.10 161.51 L63.50 160.50 L63.90 160.15 L64.30 160.50 L64.70 161.52 L65.10 163.11 L65.50 165.15 L65.90 167.47 L66.30 169.92 L66.70 172.35 L67.10 174.65 L67.50 176.74 L67.90 178.57 L68.30 180.14 L68.70 181.46 L69.10 182.57 L69.50 183.50 L69.90 184.27 L70.30 184.94 L70.70 185.52 L71.10 186.02 L71.50 186.48 L71.90 186.88 L72.30 187.25 L72.70 187.58 L73.10 187.88 L73.50 188.15 L73.90 188.39 L74.30 188.60 L74.70 188.79 L75.10 188.95 L75.50 189.09 L75.90 189.21 L76.30 189.32 L76.70 189.41 L77.10 189.48 L77.50 189.54 L77.90 189.59 L78.30 189.63 L78.70 189.67 L79.10 189.70 L79.50 189.72 L79.90 189.74 L80.30 189.75 L80.70 189.76 L81.10 189.77 L81.50 189.78 L81.90 189.78 L82.30 189.79 L82.70 189.79 L83.10 189.79 L83.50 189.79 L83.90 189.80 L84.30 189.80 L84.70 189.80 L85.10 189.80 L85.50 189.80 L85.90 189.80 L86.30 189.80 L86.70 189.80 L87.10 189.80 L87.50 189.80 L87.90 189.80 L88.30 189.80 L88.70 189.80 L89.10 189.80 L89.50 189.80 L89.90 189.80 L90.30 189.80 L90.70 189.80 L91.10 189.80 L91.50 189.80 L91.90 189.80 L92.30 189.80 L92.70 189.80 L93.10 189.80 L93.50 189.80 L93.90 189.80 L94.30 189.80 L94.70 189.80 L95.10 189.80 L95.50 189.80 L95.90 189.80 L96.30 189.80 L96.70 189.80 L97.10 189.80 L97.50 189.80 L97.90 189.80 L98.30 189.80 L98.70 189.80 L99.10 189.80 L99.50 189.80 L99.90 189.80 L100.30 189.80 L100.70 189.80 L101.10 189.80 L101.50 189.80 L101.90 189.80 L102.30 189.80 L102.70 189.80 L103.10 189.80 L103.50 189.80 L103.90 189.80 L104.30 189.80 L104.70 189.80 L105.10 189.80 L105.50 189.80 L105.90 189.80 L106.30 189.80 L106.70 189.80 L107.10 189.80 L107.50 189.80 L107.50 189.80" fill="none" stroke="#3c4560" stroke-width="1.15" stroke-linejoin="round"/>
<path d="M25.50 206.10 L25.90 206.10 L26.30 206.10 L26.70 206.10 L27.10 206.10 L27.50 206.10 L27.90 206.10 L28.30 206.10 L28.70 206.10 L29.10 206.10 L29.50 206.10 L29.90 206.10 L30.30 206.10 L30.70 206.10 L31.10 206.10 L31.50 206.10 L31.90 206.10 L32.30 206.10 L32.70 206.10 L33.10 206.10 L33.50 206.10 L33.90 206.10 L34.30 206.10 L34.70 206.10 L35.10 206.10 L35.50 206.10 L35.90 206.10 L36.30 206.10 L36.70 206.10 L37.10 206.10 L37.50 206.10 L37.90 206.10 L38.30 206.10 L38.70 206.10 L39.10 206.10 L39.50 206.10 L39.90 206.10 L40.30 206.10 L40.70 206.10 L41.10 206.10 L41.50 206.10 L41.90 206.10 L42.30 206.10 L42.70 206.10 L43.10 206.10 L43.50 206.10 L43.90 206.10 L44.30 206.10 L44.70 206.10 L45.10 206.09 L45.50 206.09 L45.90 206.09 L46.30 206.09 L46.70 206.09 L47.10 206.09 L47.50 206.08 L47.90 206.08 L48.30 206.07 L48.70 206.07 L49.10 206.06 L49.50 206.06 L49.90 206.05 L50.30 206.04 L50.70 206.03 L51.10 206.02 L51.50 206.01 L51.90 205.99 L52.30 205.97 L52.70 205.95 L53.10 205.93 L53.50 205.90 L53.90 205.87 L54.30 205.83 L54.70 205.79 L55.10 205.75 L55.50 205.70 L55.90 205.64 L56.30 205.58 L56.70 205.51 L57.10 205.44 L57.50 205.35 L57.90 205.26 L58.30 205.16 L58.70 205.04 L59.10 204.92 L59.50 204.79 L59.90 204.64 L60.30 204.49 L60.70 204.32 L61.10 204.13 L61.50 203.94 L61.90 203.73 L62.30 203.50 L62.70 203.27 L63.10 203.02 L63.50 202.75 L63.90 202.47 L64.30 202.17 L64.70 201.87 L65.10 201.54 L65.50 201.20 L65.90 200.85 L66.30 200.49 L66.70 200.10 L67.10 199.70 L67.50 199.28 L67.90 198.84 L68.30 198.37 L68.70 197.88 L69.10 197.35 L69.50 196.78 L69.90 196.18 L70.30 195.53 L70.70 194.84 L71.10 194.10 L71.50 193.32 L71.90 192.50 L72.30 191.64 L72.70 190.77 L73.10 189.89 L73.50 189.02 L73.90 188.20 L74.30 187.42 L74.70 186.74 L75.10 186.15 L75.50 185.70 L75.90 185.38 L76.30 185.22 L76.70 185.25 L77.10 185.64 L77.50 186.41 L77.90 187.50 L78.30 188.86 L78.70 190.43 L79.10 192.12 L79.50 193.86 L79.90 195.59 L80.30 197.24 L80.70 198.78 L81.10 200.16 L81.50 201.37 L81.90 202.41 L82.30 203.27 L82.70 203.97 L83.10 204.53 L83.50 204.97 L83.90 205.29 L84.30 205.54 L84.70 205.72 L85.10 205.84 L85.50 205.93 L85.90 205.99 L86.30 206.03 L86.70 206.06 L87.10 206.07 L87.50 206.08 L87.90 206.09 L88.30 206.09 L88.70 206.10 L89.10 206.10 L89.50 206.10 L89.90 206.10 L90.30 206.10 L90.70 206.10 L91.10 206.10 L91.50 206.10 L91.90 206.10 L92.30 206.10 L92.70 206.10 L93.10 206.10 L93.50 206.10 L93.90 206.10 L94.30 206.10 L94.70 206.10 L95.10 206.10 L95.50 206.10 L95.90 206.10 L96.30 206.10 L96.70 206.10 L97.10 206.10 L97.50 206.10 L97.90 206.10 L98.30 206.10 L98.70 206.10 L99.10 206.10 L99.50 206.10 L99.90 206.10 L100.30 206.10 L100.70 206.10 L101.10 206.10 L101.50 206.10 L101.90 206.10 L102.30 206.10 L102.70 206.10 L103.10 206.10 L103.50 206.10 L103.90 206.10 L104.30 206.10 L104.70 206.10 L105.10 206.10 L105.50 206.10 L105.90 206.10 L106.30 206.10 L106.70 206.10 L107.10 206.10 L107.50 206.10 L107.50 206.10" fill="none" stroke="#5aab38" stroke-width="1.15" stroke-linejoin="round"/>
<path d="M25.50 222.50 L25.90 222.50 L26.30 222.50 L26.70 222.50 L27.10 222.50 L27.50 222.50 L27.90 222.50 L28.30 222.50 L28.70 222.50 L29.10 222.50 L29.50 222.50 L29.90 222.50 L30.30 222.50 L30.70 222.50 L31.10 222.50 L31.50 222.50 L31.90 222.50 L32.30 222.50 L32.70 222.50 L33.10 222.50 L33.50 222.50 L33.90 222.50 L34.30 222.50 L34.70 222.50 L35.10 222.50 L35.50 222.50 L35.90 222.50 L36.30 222.50 L36.70 222.50 L37.10 222.50 L37.50 222.50 L37.90 222.50 L38.30 222.50 L38.70 222.50 L39.10 222.50 L39.50 222.50 L39.90 222.50 L40.30 222.50 L40.70 222.50 L41.10 222.50 L41.50 222.50 L41.90 222.50 L42.30 222.50 L42.70 222.50 L43.10 222.50 L43.50 222.50 L43.90 222.50 L44.30 222.49 L44.70 222.49 L45.10 222.49 L45.50 222.49 L45.90 222.49 L46.30 222.49 L46.70 222.48 L47.10 222.48 L47.50 222.48 L47.90 222.47 L48.30 222.47 L48.70 222.46 L49.10 222.45 L49.50 222.44 L49.90 222.43 L50.30 222.42 L50.70 222.41 L51.10 222.40 L51.50 222.38 L51.90 222.36 L52.30 222.33 L52.70 222.31 L53.10 222.28 L53.50 222.24 L53.90 222.21 L54.30 222.16 L54.70 222.12 L55.10 222.06 L55.50 222.00 L55.90 221.93 L56.30 221.86 L56.70 221.77 L57.10 221.68 L57.50 221.58 L57.90 221.47 L58.30 221.35 L58.70 221.21 L59.10 221.07 L59.50 220.91 L59.90 220.74 L60.30 220.56 L60.70 220.36 L61.10 220.15 L61.50 219.92 L61.90 219.68 L62.30 219.42 L62.70 219.15 L63.10 218.86 L63.50 218.56 L63.90 218.24 L64.30 217.90 L64.70 217.55 L65.10 217.18 L65.50 216.79 L65.90 216.38 L66.30 215.96 L66.70 215.51 L67.10 215.04 L67.50 214.55 L67.90 214.03 L68.30 213.48 L68.70 212.90 L69.10 212.29 L69.50 211.64 L69.90 210.97 L70.30 210.26 L70.70 209.52 L71.10 208.76 L71.50 207.99 L71.90 207.20 L72.30 206.42 L72.70 205.66 L73.10 204.93 L73.50 204.25 L73.90 203.63 L74.30 203.10 L74.70 202.65 L75.10 202.32 L75.50 202.10 L75.90 202.00 L76.30 202.07 L76.70 202.38 L77.10 202.93 L77.50 203.70 L77.90 204.67 L78.30 205.78 L78.70 207.03 L79.10 208.35 L79.50 209.72 L79.90 211.10 L80.30 212.45 L80.70 213.76 L81.10 214.98 L81.50 216.12 L81.90 217.15 L82.30 218.07 L82.70 218.87 L83.10 219.57 L83.50 220.16 L83.90 220.65 L84.30 221.06 L84.70 221.39 L85.10 221.66 L85.50 221.87 L85.90 222.03 L86.30 222.16 L86.70 222.25 L87.10 222.32 L87.50 222.38 L87.90 222.41 L88.30 222.44 L88.70 222.46 L89.10 222.47 L89.50 222.48 L89.90 222.49 L90.30 222.49 L90.70 222.50 L91.10 222.50 L91.50 222.50 L91.90 222.50 L92.30 222.50 L92.70 222.50 L93.10 222.50 L93.50 222.50 L93.90 222.50 L94.30 222.50 L94.70 222.50 L95.10 222.50 L95.50 222.50 L95.90 222.50 L96.30 222.50 L96.70 222.50 L97.10 222.50 L97.50 222.50 L97.90 222.50 L98.30 222.50 L98.70 222.50 L99.10 222.50 L99.50 222.50 L99.90 222.50 L100.30 222.50 L100.70 222.50 L101.10 222.50 L101.50 222.50 L101.90 222.50 L102.30 222.50 L102.70 222.50 L103.10 222.50 L103.50 222.50 L103.90 222.50 L104.30 222.50 L104.70 222.50 L105.10 222.50 L105.50 222.50 L105.90 222.50 L106.30 222.50 L106.70 222.50 L107.10 222.50 L107.50 222.50 L107.50 222.50" fill="none" stroke="#2b4a8a" stroke-width="1.15" stroke-linejoin="round"/>
<path d="M25.50 238.30 L25.90 238.30 L26.30 238.30 L26.70 238.30 L27.10 238.30 L27.50 238.30 L27.90 238.30 L28.30 238.30 L28.70 238.30 L29.10 238.30 L29.50 238.30 L29.90 238.30 L30.30 238.30 L30.70 238.30 L31.10 238.30 L31.50 238.30 L31.90 238.30 L32.30 238.30 L32.70 238.30 L33.10 238.30 L33.50 238.30 L33.90 238.30 L34.30 238.30 L34.70 238.30 L35.10 238.30 L35.50 238.30 L35.90 238.30 L36.30 238.30 L36.70 238.30 L37.10 238.30 L37.50 238.30 L37.90 238.30 L38.30 238.30 L38.70 238.30 L39.10 238.30 L39.50 238.30 L39.90 238.30 L40.30 238.30 L40.70 238.30 L41.10 238.29 L41.50 238.29 L41.90 238.29 L42.30 238.29 L42.70 238.29 L43.10 238.28 L43.50 238.28 L43.90 238.27 L44.30 238.27 L44.70 238.26 L45.10 238.25 L45.50 238.24 L45.90 238.23 L46.30 238.22 L46.70 238.20 L47.10 238.19 L47.50 238.17 L47.90 238.14 L48.30 238.12 L48.70 238.09 L49.10 238.05 L49.50 238.01 L49.90 237.97 L50.30 237.92 L50.70 237.86 L51.10 237.80 L51.50 237.74 L51.90 237.66 L52.30 237.58 L52.70 237.49 L53.10 237.40 L53.50 237.29 L53.90 237.17 L54.30 237.04 L54.70 236.90 L55.10 236.74 L55.50 236.56 L55.90 236.35 L56.30 236.10 L56.70 235.80 L57.10 235.44 L57.50 234.98 L57.90 234.43 L58.30 233.74 L58.70 232.89 L59.10 231.85 L59.50 230.62 L59.90 229.16 L60.30 227.49 L60.70 225.60 L61.10 223.53 L61.50 221.33 L61.90 219.06 L62.30 216.80 L62.70 214.65 L63.10 212.71 L63.50 211.07 L63.90 209.84 L64.30 209.06 L64.70 208.80 L65.10 209.06 L65.50 209.84 L65.90 211.07 L66.30 212.71 L66.70 214.65 L67.10 216.80 L67.50 219.06 L67.90 221.33 L68.30 223.53 L68.70 225.60 L69.10 227.49 L69.50 229.16 L69.90 230.62 L70.30 231.85 L70.70 232.89 L71.10 233.74 L71.50 234.43 L71.90 234.98 L72.30 235.44 L72.70 235.80 L73.10 236.10 L73.50 236.35 L73.90 236.56 L74.30 236.74 L74.70 236.90 L75.10 237.04 L75.50 237.17 L75.90 237.29 L76.30 237.40 L76.70 237.49 L77.10 237.58 L77.50 237.66 L77.90 237.74 L78.30 237.80 L78.70 237.86 L79.10 237.92 L79.50 237.97 L79.90 238.01 L80.30 238.05 L80.70 238.09 L81.10 238.12 L81.50 238.14 L81.90 238.17 L82.30 238.19 L82.70 238.20 L83.10 238.22 L83.50 238.23 L83.90 238.24 L84.30 238.25 L84.70 238.26 L85.10 238.27 L85.50 238.27 L85.90 238.28 L86.30 238.28 L86.70 238.29 L87.10 238.29 L87.50 238.29 L87.90 238.29 L88.30 238.29 L88.70 238.30 L89.10 238.30 L89.50 238.30 L89.90 238.30 L90.30 238.30 L90.70 238.30 L91.10 238.30 L91.50 238.30 L91.90 238.30 L92.30 238.30 L92.70 238.30 L93.10 238.30 L93.50 238.30 L93.90 238.30 L94.30 238.30 L94.70 238.30 L95.10 238.30 L95.50 238.30 L95.90 238.30 L96.30 238.30 L96.70 238.30 L97.10 238.30 L97.50 238.30 L97.90 238.30 L98.30 238.30 L98.70 238.30 L99.10 238.30 L99.50 238.30 L99.90 238.30 L100.30 238.30 L100.70 238.30 L101.10 238.30 L101.50 238.30 L101.90 238.30 L102.30 238.30 L102.70 238.30 L103.10 238.30 L103.50 238.30 L103.90 238.30 L104.30 238.30 L104.70 238.30 L105.10 238.30 L105.50 238.30 L105.90 238.30 L106.30 238.30 L106.70 238.30 L107.10 238.30 L107.50 238.30 L107.50 238.30" fill="none" stroke="#b0002a" stroke-width="1.15" stroke-linejoin="round"/>
<rect x="25.5" y="157.5" width="82.0" height="82.0" fill="none" stroke="#000" stroke-width="1.15"/>
<line x1="25.00" y1="239.50" x2="108.00" y2="239.50" stroke="#000" stroke-width="1.2" />
<line x1="25.50" y1="240.10" x2="25.50" y2="242.50" stroke="#222" stroke-width="0.6" />
<line x1="31.31" y1="240.10" x2="31.31" y2="241.80" stroke="#222" stroke-width="0.6" />
<line x1="34.71" y1="240.10" x2="34.71" y2="241.80" stroke="#222" stroke-width="0.6" />
<line x1="37.12" y1="240.10" x2="37.12" y2="241.80" stroke="#222" stroke-width="0.6" />
<line x1="38.99" y1="240.10" x2="38.99" y2="241.80" stroke="#222" stroke-width="0.6" />
<line x1="40.52" y1="240.10" x2="40.52" y2="241.80" stroke="#222" stroke-width="0.6" />
<line x1="41.81" y1="240.10" x2="41.81" y2="241.80" stroke="#222" stroke-width="0.6" />
<line x1="42.93" y1="240.10" x2="42.93" y2="241.80" stroke="#222" stroke-width="0.6" />
<line x1="43.92" y1="240.10" x2="43.92" y2="241.80" stroke="#222" stroke-width="0.6" />
<line x1="44.80" y1="240.10" x2="44.80" y2="242.50" stroke="#222" stroke-width="0.6" />
<line x1="50.61" y1="240.10" x2="50.61" y2="241.80" stroke="#222" stroke-width="0.6" />
<line x1="54.01" y1="240.10" x2="54.01" y2="241.80" stroke="#222" stroke-width="0.6" />
<line x1="56.42" y1="240.10" x2="56.42" y2="241.80" stroke="#222" stroke-width="0.6" />
<line x1="58.29" y1="240.10" x2="58.29" y2="241.80" stroke="#222" stroke-width="0.6" />
<line x1="59.82" y1="240.10" x2="59.82" y2="241.80" stroke="#222" stroke-width="0.6" />
<line x1="61.11" y1="240.10" x2="61.11" y2="241.80" stroke="#222" stroke-width="0.6" />
<line x1="62.23" y1="240.10" x2="62.23" y2="241.80" stroke="#222" stroke-width="0.6" />
<line x1="63.22" y1="240.10" x2="63.22" y2="241.80" stroke="#222" stroke-width="0.6" />
<line x1="64.10" y1="240.10" x2="64.10" y2="242.50" stroke="#222" stroke-width="0.6" />
<line x1="69.91" y1="240.10" x2="69.91" y2="241.80" stroke="#222" stroke-width="0.6" />
<line x1="73.31" y1="240.10" x2="73.31" y2="241.80" stroke="#222" stroke-width="0.6" />
<line x1="75.72" y1="240.10" x2="75.72" y2="241.80" stroke="#222" stroke-width="0.6" />
<line x1="77.59" y1="240.10" x2="77.59" y2="241.80" stroke="#222" stroke-width="0.6" />
<line x1="79.12" y1="240.10" x2="79.12" y2="241.80" stroke="#222" stroke-width="0.6" />
<line x1="80.41" y1="240.10" x2="80.41" y2="241.80" stroke="#222" stroke-width="0.6" />
<line x1="81.53" y1="240.10" x2="81.53" y2="241.80" stroke="#222" stroke-width="0.6" />
<line x1="82.52" y1="240.10" x2="82.52" y2="241.80" stroke="#222" stroke-width="0.6" />
<line x1="83.40" y1="240.10" x2="83.40" y2="242.50" stroke="#222" stroke-width="0.6" />
<line x1="89.21" y1="240.10" x2="89.21" y2="241.80" stroke="#222" stroke-width="0.6" />
<line x1="92.61" y1="240.10" x2="92.61" y2="241.80" stroke="#222" stroke-width="0.6" />
<line x1="95.02" y1="240.10" x2="95.02" y2="241.80" stroke="#222" stroke-width="0.6" />
<line x1="96.89" y1="240.10" x2="96.89" y2="241.80" stroke="#222" stroke-width="0.6" />
<line x1="98.42" y1="240.10" x2="98.42" y2="241.80" stroke="#222" stroke-width="0.6" />
<line x1="99.71" y1="240.10" x2="99.71" y2="241.80" stroke="#222" stroke-width="0.6" />
<line x1="100.83" y1="240.10" x2="100.83" y2="241.80" stroke="#222" stroke-width="0.6" />
<line x1="101.82" y1="240.10" x2="101.82" y2="241.80" stroke="#222" stroke-width="0.6" />
<line x1="102.70" y1="240.10" x2="102.70" y2="242.50" stroke="#222" stroke-width="0.6" />
<text x="30.70" y="216.90" font-size="5.1" text-anchor="start" fill="#333" >Jurkat wt</text>
<text x="93.30" y="230.40" font-size="5.3" text-anchor="middle" fill="#333" >Jurkat-</text>
<text x="93.40" y="236.50" font-size="5.3" text-anchor="middle" fill="#333" >mbaIL6</text>
<text x="20.50" y="175.10" font-size="6" text-anchor="middle" fill="#333" transform="rotate(-90 20.50 175.10)" >No IL-6</text>
<text x="14.70" y="213.00" font-size="6" text-anchor="middle" fill="#333" transform="rotate(-90 14.70 213.00)" >IL-6</text>
<line x1="19.10" y1="190.10" x2="19.10" y2="238.10" stroke="#666" stroke-width="1.1" />
<g transform="translate(65.15 251.60) rotate(0) scale(0.6831 1)"><text x="0" y="0" font-size="7.3" text-anchor="middle" fill="#222" font-weight="bold">pSTAT3</text></g>
<line x1="28.30" y1="249.30" x2="53.70" y2="249.30" stroke="#111" stroke-width="0.9" />
<line x1="76.60" y1="249.30" x2="99.50" y2="249.30" stroke="#111" stroke-width="0.9" />
<path d="M97.5 247.3 L102.6 249.3 L97.5 251.3 Z" fill="#111"/>
<text x="124.10" y="151.60" font-size="11.0" text-anchor="start" fill="#000" font-weight="bold" >F</text>
<line x1="147.30" y1="165.80" x2="147.30" y2="238.30" stroke="#000" stroke-width="1.4" />
<line x1="144.30" y1="238.30" x2="147.30" y2="238.30" stroke="#111" stroke-width="1.0" />
<text x="141.70" y="240.55" font-size="6.2" text-anchor="end" fill="#333" >0</text>
<line x1="144.30" y1="220.60" x2="147.30" y2="220.60" stroke="#111" stroke-width="1.0" />
<text x="141.70" y="222.85" font-size="6.2" text-anchor="end" fill="#333" >1</text>
<line x1="144.30" y1="202.90" x2="147.30" y2="202.90" stroke="#111" stroke-width="1.0" />
<text x="141.70" y="205.15" font-size="6.2" text-anchor="end" fill="#333" >2</text>
<line x1="144.30" y1="185.20" x2="147.30" y2="185.20" stroke="#111" stroke-width="1.0" />
<text x="141.70" y="187.45" font-size="6.2" text-anchor="end" fill="#333" >3</text>
<line x1="144.30" y1="167.50" x2="147.30" y2="167.50" stroke="#111" stroke-width="1.0" />
<text x="141.70" y="169.75" font-size="6.2" text-anchor="end" fill="#333" >4</text>
<rect x="154.6" y="220.60" width="10.2" height="17.70" fill="#fff" stroke="#6b7390" stroke-width="0.95"/>
<rect x="169.3" y="178.30" width="10.4" height="60.00" fill="#fff" stroke="#7dbb5a" stroke-width="0.95"/>
<rect x="184.5" y="178.30" width="10.2" height="60.00" fill="#fff" stroke="#5570ad" stroke-width="0.95"/>
<rect x="199.8" y="219.72" width="9.6" height="18.59" fill="#fff" stroke="#c0284e" stroke-width="0.95"/>
<circle cx="156.90" cy="220.30" r="1.5" fill="#3c4560"/>
<circle cx="159.70" cy="220.30" r="1.5" fill="#3c4560"/>
<circle cx="162.50" cy="220.30" r="1.5" fill="#3c4560"/>
<line x1="154.80" y1="220.40" x2="164.60" y2="220.40" stroke="#3c4560" stroke-width="1" />
<line x1="174.40" y1="170.80" x2="174.40" y2="178.50" stroke="#5aab38" stroke-width="1.0" />
<path d="M172.2 169.3 L176.6 169.3 L174.4 172.6 Z" fill="#5aab38" stroke="#5aab38" stroke-width="0.4" stroke-linejoin="round"/>
<circle cx="174.40" cy="176.60" r="1.35" fill="#5aab38"/>
<circle cx="174.40" cy="185.40" r="1.45" fill="#5aab38"/>
<line x1="189.50" y1="170.50" x2="189.50" y2="178.50" stroke="#1f3c7c" stroke-width="1.0" />
<path d="M187.3 172.6 L191.7 172.6 L189.5 169.2 Z" fill="#1f3c7c" stroke="#1f3c7c" stroke-width="0.4" stroke-linejoin="round"/>
<circle cx="187.30" cy="182.70" r="1.45" fill="#1f3c7c"/>
<circle cx="192.00" cy="180.10" r="1.45" fill="#1f3c7c"/>
<circle cx="202.10" cy="219.52" r="1.5" fill="#b0002a"/>
<circle cx="204.60" cy="219.52" r="1.5" fill="#b0002a"/>
<circle cx="207.10" cy="219.52" r="1.5" fill="#b0002a"/>
<line x1="199.80" y1="219.62" x2="209.40" y2="219.62" stroke="#b0002a" stroke-width="1.1" />
<line x1="145.50" y1="238.30" x2="212.30" y2="238.30" stroke="#000" stroke-width="1.4" />
<path d="M158.6 165.1 V163.4 H174.6 V165.1" fill="none" stroke="#333" stroke-width="0.95"/>
<path d="M189.2 165.1 V163.4 H205.6 V165.1" fill="none" stroke="#333" stroke-width="0.95"/>
<rect x="164.10" y="160.20" width="1.4" height="1.4" rx="0.5" fill="#555"/>
<rect x="166.00" y="160.20" width="1.4" height="1.4" rx="0.5" fill="#555"/>
<rect x="167.90" y="160.20" width="1.4" height="1.4" rx="0.5" fill="#555"/>
<rect x="194.80" y="160.20" width="1.4" height="1.4" rx="0.5" fill="#555"/>
<rect x="196.70" y="160.20" width="1.4" height="1.4" rx="0.5" fill="#555"/>
<rect x="198.60" y="160.20" width="1.4" height="1.4" rx="0.5" fill="#555"/>
<line x1="159.30" y1="245.20" x2="160.30" y2="245.20" stroke="#444" stroke-width="0.8" />
<line x1="172.80" y1="245.20" x2="175.80" y2="245.20" stroke="#333" stroke-width="0.8" />
<line x1="174.30" y1="243.70" x2="174.30" y2="246.70" stroke="#333" stroke-width="0.8" />
<line x1="187.90" y1="245.20" x2="190.90" y2="245.20" stroke="#333" stroke-width="0.8" />
<line x1="189.40" y1="243.70" x2="189.40" y2="246.70" stroke="#333" stroke-width="0.8" />
<line x1="202.70" y1="245.20" x2="205.70" y2="245.20" stroke="#333" stroke-width="0.8" />
<line x1="204.20" y1="243.70" x2="204.20" y2="246.70" stroke="#333" stroke-width="0.8" />
<line x1="152.40" y1="251.20" x2="212.30" y2="251.20" stroke="#111" stroke-width="1.0" />
<text x="181.85" y="260.00" font-size="6.2" text-anchor="middle" fill="#333" >IL-6</text>
<g transform="translate(132.30 202.00) rotate(-90) scale(0.8582 1)"><text x="0" y="0" font-size="6.6" text-anchor="middle" fill="#404040" font-weight="bold">pSTAT3 MFI (x10<tspan font-size="3.96" dx="0.33" dy="-2.77">3</tspan><tspan dx="0.33" dy="2.77">)</tspan></text></g>
<text x="220.00" y="188.60" font-size="5.3" text-anchor="start" fill="#333" >Jurkat</text>
<line x1="220.00" y1="189.90" x2="233.40" y2="189.90" stroke="#333" stroke-width="0.55" />
<rect x="220.5" y="193.9" width="6.4" height="6.0" fill="#fff" stroke="#7dbb5a" stroke-width="1.0"/>
<text x="229.80" y="198.60" font-size="5.3" text-anchor="start" fill="#333" >None</text>
<rect x="220.5" y="203.4" width="6.4" height="6.0" fill="#fff" stroke="#3b5a9a" stroke-width="1.0"/>
<text x="229.80" y="208.10" font-size="5.3" text-anchor="start" fill="#333" >WT</text>
<rect x="220.5" y="212.8" width="6.4" height="6.0" fill="#fff" stroke="#c0284e" stroke-width="1.0"/>
<text x="229.80" y="217.50" font-size="5.3" text-anchor="start" fill="#333" >mbaIL6</text>
<text x="263.10" y="151.60" font-size="11.0" text-anchor="start" fill="#000" font-weight="bold" >G</text>
<line x1="286.30" y1="165.80" x2="286.30" y2="238.30" stroke="#000" stroke-width="1.4" />
<line x1="283.30" y1="238.30" x2="286.30" y2="238.30" stroke="#111" stroke-width="1.0" />
<text x="280.70" y="240.55" font-size="6.2" text-anchor="end" fill="#333" >0</text>
<line x1="283.30" y1="226.57" x2="286.30" y2="226.57" stroke="#111" stroke-width="1.0" />
<text x="280.70" y="228.82" font-size="6.2" text-anchor="end" fill="#333" >1</text>
<line x1="283.30" y1="214.84" x2="286.30" y2="214.84" stroke="#111" stroke-width="1.0" />
<text x="280.70" y="217.09" font-size="6.2" text-anchor="end" fill="#333" >2</text>
<line x1="283.30" y1="203.11" x2="286.30" y2="203.11" stroke="#111" stroke-width="1.0" />
<text x="280.70" y="205.36" font-size="6.2" text-anchor="end" fill="#333" >3</text>
<line x1="283.30" y1="191.38" x2="286.30" y2="191.38" stroke="#111" stroke-width="1.0" />
<text x="280.70" y="193.63" font-size="6.2" text-anchor="end" fill="#333" >4</text>
<line x1="283.30" y1="179.65" x2="286.30" y2="179.65" stroke="#111" stroke-width="1.0" />
<text x="280.70" y="181.90" font-size="6.2" text-anchor="end" fill="#333" >5</text>
<line x1="283.30" y1="167.92" x2="286.30" y2="167.92" stroke="#111" stroke-width="1.0" />
<text x="280.70" y="170.17" font-size="6.2" text-anchor="end" fill="#333" >6</text>
<rect x="288.20" y="228.33" width="5.4" height="9.97" fill="#fff" stroke="#4a68a8" stroke-width="0.95"/>
<rect x="293.60" y="224.22" width="6.1" height="14.08" fill="#c9c9cd" stroke="#4a68a8" stroke-width="0.95"/>
<line x1="293.60" y1="228.33" x2="293.60" y2="238.30" stroke="#1f3c7c" stroke-width="1.2" />
<line x1="290.90" y1="228.33" x2="290.90" y2="226.53" stroke="#111" stroke-width="0.8" />
<line x1="289.50" y1="226.53" x2="292.30" y2="226.53" stroke="#111" stroke-width="1.0" />
<line x1="296.65" y1="224.22" x2="296.65" y2="222.42" stroke="#111" stroke-width="0.8" />
<line x1="295.25" y1="222.42" x2="298.05" y2="222.42" stroke="#111" stroke-width="1.0" />
<line x1="293.60" y1="238.30" x2="293.60" y2="240.60" stroke="#111" stroke-width="0.9" />
<rect x="303.20" y="198.42" width="6.1" height="39.88" fill="#fff" stroke="#4a68a8" stroke-width="0.95"/>
<rect x="309.30" y="179.18" width="6.1" height="59.12" fill="#c9c9cd" stroke="#4a68a8" stroke-width="0.95"/>
<line x1="309.30" y1="198.42" x2="309.30" y2="238.30" stroke="#1f3c7c" stroke-width="1.2" />
<line x1="306.25" y1="198.42" x2="306.25" y2="196.62" stroke="#111" stroke-width="0.8" />
<line x1="304.85" y1="196.62" x2="307.65" y2="196.62" stroke="#111" stroke-width="1.0" />
<line x1="312.35" y1="179.18" x2="312.35" y2="177.38" stroke="#111" stroke-width="0.8" />
<line x1="310.95" y1="177.38" x2="313.75" y2="177.38" stroke="#111" stroke-width="1.0" />
<line x1="309.30" y1="238.30" x2="309.30" y2="240.60" stroke="#111" stroke-width="0.9" />
<rect x="318.50" y="199.00" width="6.1" height="39.30" fill="#fff" stroke="#c22d52" stroke-width="0.95"/>
<rect x="324.60" y="177.30" width="6.1" height="61.00" fill="#c9c9cd" stroke="#c22d52" stroke-width="0.95"/>
<line x1="324.60" y1="199.00" x2="324.60" y2="238.30" stroke="#a8002a" stroke-width="1.2" />
<line x1="321.55" y1="199.00" x2="321.55" y2="197.20" stroke="#111" stroke-width="0.8" />
<line x1="320.15" y1="197.20" x2="322.95" y2="197.20" stroke="#111" stroke-width="1.0" />
<line x1="327.65" y1="177.30" x2="327.65" y2="175.50" stroke="#111" stroke-width="0.8" />
<line x1="326.25" y1="175.50" x2="329.05" y2="175.50" stroke="#111" stroke-width="1.0" />
<line x1="324.60" y1="238.30" x2="324.60" y2="240.60" stroke="#111" stroke-width="0.9" />
<rect x="334.00" y="203.70" width="6.1" height="34.60" fill="#fff" stroke="#c22d52" stroke-width="0.95"/>
<rect x="340.10" y="187.86" width="6.1" height="50.44" fill="#c9c9cd" stroke="#c22d52" stroke-width="0.95"/>
<line x1="340.10" y1="203.70" x2="340.10" y2="238.30" stroke="#a8002a" stroke-width="1.2" />
<line x1="337.05" y1="203.70" x2="337.05" y2="201.90" stroke="#111" stroke-width="0.8" />
<line x1="335.65" y1="201.90" x2="338.45" y2="201.90" stroke="#111" stroke-width="1.0" />
<line x1="343.15" y1="187.86" x2="343.15" y2="186.06" stroke="#111" stroke-width="0.8" />
<line x1="341.75" y1="186.06" x2="344.55" y2="186.06" stroke="#111" stroke-width="1.0" />
<line x1="340.10" y1="238.30" x2="340.10" y2="240.60" stroke="#111" stroke-width="0.9" />
<rect x="349.30" y="215.07" width="6.1" height="23.23" fill="#fff" stroke="#c22d52" stroke-width="0.95"/>
<rect x="355.40" y="203.81" width="6.1" height="34.49" fill="#c9c9cd" stroke="#c22d52" stroke-width="0.95"/>
<line x1="355.40" y1="215.07" x2="355.40" y2="238.30" stroke="#a8002a" stroke-width="1.2" />
<line x1="352.35" y1="215.07" x2="352.35" y2="213.27" stroke="#111" stroke-width="0.8" />
<line x1="350.95" y1="213.27" x2="353.75" y2="213.27" stroke="#111" stroke-width="1.0" />
<line x1="358.45" y1="203.81" x2="358.45" y2="202.01" stroke="#111" stroke-width="0.8" />
<line x1="357.05" y1="202.01" x2="359.85" y2="202.01" stroke="#111" stroke-width="1.0" />
<line x1="355.40" y1="238.30" x2="355.40" y2="240.60" stroke="#111" stroke-width="0.9" />
<rect x="364.60" y="222.11" width="6.1" height="16.19" fill="#fff" stroke="#c22d52" stroke-width="0.95"/>
<rect x="370.70" y="215.43" width="6.1" height="22.87" fill="#c9c9cd" stroke="#c22d52" stroke-width="0.95"/>
<line x1="370.70" y1="222.11" x2="370.70" y2="238.30" stroke="#a8002a" stroke-width="1.2" />
<line x1="367.65" y1="222.11" x2="367.65" y2="220.31" stroke="#111" stroke-width="0.8" />
<line x1="366.25" y1="220.31" x2="369.05" y2="220.31" stroke="#111" stroke-width="1.0" />
<line x1="373.75" y1="215.43" x2="373.75" y2="213.63" stroke="#111" stroke-width="0.8" />
<line x1="372.35" y1="213.63" x2="375.15" y2="213.63" stroke="#111" stroke-width="1.0" />
<line x1="370.70" y1="238.30" x2="370.70" y2="240.60" stroke="#111" stroke-width="0.9" />
<rect x="380.00" y="224.22" width="6.1" height="14.08" fill="#fff" stroke="#c22d52" stroke-width="0.95"/>
<rect x="386.10" y="218.12" width="6.1" height="20.18" fill="#c9c9cd" stroke="#c22d52" stroke-width="0.95"/>
<line x1="386.10" y1="224.22" x2="386.10" y2="238.30" stroke="#a8002a" stroke-width="1.2" />
<line x1="383.05" y1="224.22" x2="383.05" y2="222.42" stroke="#111" stroke-width="0.8" />
<line x1="381.65" y1="222.42" x2="384.45" y2="222.42" stroke="#111" stroke-width="1.0" />
<line x1="389.15" y1="218.12" x2="389.15" y2="216.32" stroke="#111" stroke-width="0.8" />
<line x1="387.75" y1="216.32" x2="390.55" y2="216.32" stroke="#111" stroke-width="1.0" />
<line x1="386.10" y1="238.30" x2="386.10" y2="240.60" stroke="#111" stroke-width="0.9" />
<line x1="284.50" y1="238.30" x2="395.40" y2="238.30" stroke="#000" stroke-width="1.4" />
<text x="293.60" y="249.60" font-size="6.1" text-anchor="middle" fill="#444" >1</text>
<text x="309.30" y="249.60" font-size="6.1" text-anchor="middle" fill="#444" >1</text>
<text x="324.60" y="249.60" font-size="6.1" text-anchor="middle" fill="#444" >0.05</text>
<text x="340.10" y="249.60" font-size="6.1" text-anchor="middle" fill="#444" >0.1</text>
<text x="355.40" y="249.60" font-size="6.1" text-anchor="middle" fill="#444" >0.25</text>
<text x="370.70" y="249.60" font-size="6.1" text-anchor="middle" fill="#444" >0.5</text>
<text x="386.10" y="249.60" font-size="6.1" text-anchor="middle" fill="#444" >1</text>
<text x="395.70" y="249.60" font-size="6.1" text-anchor="start" fill="#444" >(x10<tspan font-size="3.8" dy="-2.4">6</tspan><tspan dy="2.4">/mL)</tspan></text>
<line x1="290.00" y1="254.20" x2="312.20" y2="254.20" stroke="#222" stroke-width="1.1" />
<line x1="318.30" y1="254.20" x2="395.00" y2="254.20" stroke="#222" stroke-width="1.1" />
<text x="300.40" y="262.60" font-size="6.1" text-anchor="middle" fill="#444" >wt</text>
<text x="356.40" y="262.60" font-size="6.1" text-anchor="middle" fill="#444" >mbaIL6</text>
<line x1="303.10" y1="168.30" x2="394.40" y2="168.30" stroke="#222" stroke-width="1.1" />
<text x="348.60" y="165.10" font-size="5.0" text-anchor="middle" fill="#444" >IL-6</text>
<text x="295.70" y="170.90" font-size="5.1" text-anchor="middle" fill="#444" transform="rotate(-90 295.70 170.90)" >no IL-6</text>
<g transform="translate(272.50 202.00) rotate(-90) scale(0.8459 1)"><text x="0" y="0" font-size="6.6" text-anchor="middle" fill="#404040" font-weight="bold">DS-1 cell count (x10<tspan font-size="3.96" dx="0.33" dy="-2.77">5</tspan><tspan dx="0.33" dy="2.77">)</tspan></text></g>
<rect x="398.7" y="194.6" width="4.9" height="4.9" fill="#fff" stroke="#222" stroke-width="1.0"/>
<text x="406.80" y="198.70" font-size="5.0" text-anchor="start" fill="#555" >Day 7</text>
<rect x="398.7" y="204.7" width="4.9" height="4.9" fill="#c9c9cd" stroke="#222" stroke-width="1.0"/>
<text x="406.80" y="208.80" font-size="5.0" text-anchor="start" fill="#555" >Day 9</text>
<text x="7.10" y="288.90" font-size="11.0" text-anchor="start" fill="#000" font-weight="bold" >H</text>
<rect x="22.5" y="312.5" width="61.0" height="59.0" fill="#fff" stroke="#111" stroke-width="1.0"/>
<line x1="41.50" y1="312.50" x2="41.50" y2="371.50" stroke="#333" stroke-width="0.6" stroke-dasharray="0.6,0.6"/>
<line x1="22.50" y1="347.50" x2="83.50" y2="347.50" stroke="#333" stroke-width="0.6" stroke-dasharray="0.6,0.6"/>
<line x1="20.50" y1="371.50" x2="22.50" y2="371.50" stroke="#333" stroke-width="0.5" />
<line x1="22.50" y1="371.50" x2="22.50" y2="373.50" stroke="#333" stroke-width="0.5" />
<line x1="21.20" y1="367.44" x2="22.50" y2="367.44" stroke="#333" stroke-width="0.5" />
<line x1="26.56" y1="371.50" x2="26.56" y2="372.80" stroke="#333" stroke-width="0.5" />
<line x1="21.20" y1="365.06" x2="22.50" y2="365.06" stroke="#333" stroke-width="0.5" />
<line x1="28.94" y1="371.50" x2="28.94" y2="372.80" stroke="#333" stroke-width="0.5" />
<line x1="21.20" y1="363.37" x2="22.50" y2="363.37" stroke="#333" stroke-width="0.5" />
<line x1="30.63" y1="371.50" x2="30.63" y2="372.80" stroke="#333" stroke-width="0.5" />
<line x1="21.20" y1="362.06" x2="22.50" y2="362.06" stroke="#333" stroke-width="0.5" />
<line x1="31.94" y1="371.50" x2="31.94" y2="372.80" stroke="#333" stroke-width="0.5" />
<line x1="21.20" y1="360.99" x2="22.50" y2="360.99" stroke="#333" stroke-width="0.5" />
<line x1="33.01" y1="371.50" x2="33.01" y2="372.80" stroke="#333" stroke-width="0.5" />
<line x1="21.20" y1="360.09" x2="22.50" y2="360.09" stroke="#333" stroke-width="0.5" />
<line x1="33.91" y1="371.50" x2="33.91" y2="372.80" stroke="#333" stroke-width="0.5" />
<line x1="21.20" y1="359.31" x2="22.50" y2="359.31" stroke="#333" stroke-width="0.5" />
<line x1="34.69" y1="371.50" x2="34.69" y2="372.80" stroke="#333" stroke-width="0.5" />
<line x1="21.20" y1="358.62" x2="22.50" y2="358.62" stroke="#333" stroke-width="0.5" />
<line x1="35.38" y1="371.50" x2="35.38" y2="372.80" stroke="#333" stroke-width="0.5" />
<line x1="20.50" y1="358.00" x2="22.50" y2="358.00" stroke="#333" stroke-width="0.5" />
<line x1="36.00" y1="371.50" x2="36.00" y2="373.50" stroke="#333" stroke-width="0.5" />
<line x1="21.20" y1="353.94" x2="22.50" y2="353.94" stroke="#333" stroke-width="0.5" />
<line x1="40.06" y1="371.50" x2="40.06" y2="372.80" stroke="#333" stroke-width="0.5" />
<line x1="21.20" y1="351.56" x2="22.50" y2="351.56" stroke="#333" stroke-width="0.5" />
<line x1="42.44" y1="371.50" x2="42.44" y2="372.80" stroke="#333" stroke-width="0.5" />
<line x1="21.20" y1="349.87" x2="22.50" y2="349.87" stroke="#333" stroke-width="0.5" />
<line x1="44.13" y1="371.50" x2="44.13" y2="372.80" stroke="#333" stroke-width="0.5" />
<line x1="21.20" y1="348.56" x2="22.50" y2="348.56" stroke="#333" stroke-width="0.5" />
<line x1="45.44" y1="371.50" x2="45.44" y2="372.80" stroke="#333" stroke-width="0.5" />
<line x1="21.20" y1="347.49" x2="22.50" y2="347.49" stroke="#333" stroke-width="0.5" />
<line x1="46.51" y1="371.50" x2="46.51" y2="372.80" stroke="#333" stroke-width="0.5" />
<line x1="21.20" y1="346.59" x2="22.50" y2="346.59" stroke="#333" stroke-width="0.5" />
<line x1="47.41" y1="371.50" x2="47.41" y2="372.80" stroke="#333" stroke-width="0.5" />
<line x1="21.20" y1="345.81" x2="22.50" y2="345.81" stroke="#333" stroke-width="0.5" />
<line x1="48.19" y1="371.50" x2="48.19" y2="372.80" stroke="#333" stroke-width="0.5" />
<line x1="21.20" y1="345.12" x2="22.50" y2="345.12" stroke="#333" stroke-width="0.5" />
<line x1="48.88" y1="371.50" x2="48.88" y2="372.80" stroke="#333" stroke-width="0.5" />
<line x1="20.50" y1="344.50" x2="22.50" y2="344.50" stroke="#333" stroke-width="0.5" />
<line x1="49.50" y1="371.50" x2="49.50" y2="373.50" stroke="#333" stroke-width="0.5" />
<line x1="21.20" y1="340.44" x2="22.50" y2="340.44" stroke="#333" stroke-width="0.5" />
<line x1="53.56" y1="371.50" x2="53.56" y2="372.80" stroke="#333" stroke-width="0.5" />
<line x1="21.20" y1="338.06" x2="22.50" y2="338.06" stroke="#333" stroke-width="0.5" />
<line x1="55.94" y1="371.50" x2="55.94" y2="372.80" stroke="#333" stroke-width="0.5" />
<line x1="21.20" y1="336.37" x2="22.50" y2="336.37" stroke="#333" stroke-width="0.5" />
<line x1="57.63" y1="371.50" x2="57.63" y2="372.80" stroke="#333" stroke-width="0.5" />
<line x1="21.20" y1="335.06" x2="22.50" y2="335.06" stroke="#333" stroke-width="0.5" />
<line x1="58.94" y1="371.50" x2="58.94" y2="372.80" stroke="#333" stroke-width="0.5" />
<line x1="21.20" y1="333.99" x2="22.50" y2="333.99" stroke="#333" stroke-width="0.5" />
<line x1="60.01" y1="371.50" x2="60.01" y2="372.80" stroke="#333" stroke-width="0.5" />
<line x1="21.20" y1="333.09" x2="22.50" y2="333.09" stroke="#333" stroke-width="0.5" />
<line x1="60.91" y1="371.50" x2="60.91" y2="372.80" stroke="#333" stroke-width="0.5" />
<line x1="21.20" y1="332.31" x2="22.50" y2="332.31" stroke="#333" stroke-width="0.5" />
<line x1="61.69" y1="371.50" x2="61.69" y2="372.80" stroke="#333" stroke-width="0.5" />
<line x1="21.20" y1="331.62" x2="22.50" y2="331.62" stroke="#333" stroke-width="0.5" />
<line x1="62.38" y1="371.50" x2="62.38" y2="372.80" stroke="#333" stroke-width="0.5" />
<line x1="20.50" y1="331.00" x2="22.50" y2="331.00" stroke="#333" stroke-width="0.5" />
<line x1="63.00" y1="371.50" x2="63.00" y2="373.50" stroke="#333" stroke-width="0.5" />
<line x1="21.20" y1="326.94" x2="22.50" y2="326.94" stroke="#333" stroke-width="0.5" />
<line x1="67.06" y1="371.50" x2="67.06" y2="372.80" stroke="#333" stroke-width="0.5" />
<line x1="21.20" y1="324.56" x2="22.50" y2="324.56" stroke="#333" stroke-width="0.5" />
<line x1="69.44" y1="371.50" x2="69.44" y2="372.80" stroke="#333" stroke-width="0.5" />
<line x1="21.20" y1="322.87" x2="22.50" y2="322.87" stroke="#333" stroke-width="0.5" />
<line x1="71.13" y1="371.50" x2="71.13" y2="372.80" stroke="#333" stroke-width="0.5" />
<line x1="21.20" y1="321.56" x2="22.50" y2="321.56" stroke="#333" stroke-width="0.5" />
<line x1="72.44" y1="371.50" x2="72.44" y2="372.80" stroke="#333" stroke-width="0.5" />
<line x1="21.20" y1="320.49" x2="22.50" y2="320.49" stroke="#333" stroke-width="0.5" />
<line x1="73.51" y1="371.50" x2="73.51" y2="372.80" stroke="#333" stroke-width="0.5" />
<line x1="21.20" y1="319.59" x2="22.50" y2="319.59" stroke="#333" stroke-width="0.5" />
<line x1="74.41" y1="371.50" x2="74.41" y2="372.80" stroke="#333" stroke-width="0.5" />
<line x1="21.20" y1="318.81" x2="22.50" y2="318.81" stroke="#333" stroke-width="0.5" />
<line x1="75.19" y1="371.50" x2="75.19" y2="372.80" stroke="#333" stroke-width="0.5" />
<line x1="21.20" y1="318.12" x2="22.50" y2="318.12" stroke="#333" stroke-width="0.5" />
<line x1="75.88" y1="371.50" x2="75.88" y2="372.80" stroke="#333" stroke-width="0.5" />
<line x1="20.50" y1="317.50" x2="22.50" y2="317.50" stroke="#333" stroke-width="0.5" />
<line x1="76.50" y1="371.50" x2="76.50" y2="373.50" stroke="#333" stroke-width="0.5" />
<line x1="21.20" y1="313.44" x2="22.50" y2="313.44" stroke="#333" stroke-width="0.5" />
<line x1="80.56" y1="371.50" x2="80.56" y2="372.80" stroke="#333" stroke-width="0.5" />
<line x1="82.94" y1="371.50" x2="82.94" y2="372.80" stroke="#333" stroke-width="0.5" />
<text x="82.30" y="317.90" font-size="5.2" text-anchor="end" fill="#333" >99%</text>
<text x="82.30" y="337.50" font-size="5.2" text-anchor="end" fill="#333" >MFI=</text>
<text x="81.80" y="343.70" font-size="5.2" text-anchor="end" fill="#333" >8251</text>
<path d="M55.4 332.3h0.75v0.75h-0.75zM50.3 332.7h0.75v0.75h-0.75zM53.5 331.3h0.75v0.75h-0.75zM51.5 335.9h0.75v0.75h-0.75zM54.9 328.4h0.75v0.75h-0.75zM51.0 338.3h0.75v0.75h-0.75zM53.3 334.5h0.75v0.75h-0.75zM49.7 336.4h0.75v0.75h-0.75zM48.9 333.8h0.75v0.75h-0.75zM50.5 335.1h0.75v0.75h-0.75zM55.8 329.4h0.75v0.75h-0.75zM47.3 337.8h0.75v0.75h-0.75zM52.9 337.6h0.75v0.75h-0.75zM50.2 336.6h0.75v0.75h-0.75zM52.9 332.2h0.75v0.75h-0.75zM50.8 334.9h0.75v0.75h-0.75zM49.5 333.1h0.75v0.75h-0.75zM54.5 328.0h0.75v0.75h-0.75zM50.5 334.6h0.75v0.75h-0.75zM49.6 338.5h0.75v0.75h-0.75zM50.6 340.5h0.75v0.75h-0.75zM45.8 337.0h0.75v0.75h-0.75zM52.0 333.9h0.75v0.75h-0.75zM51.1 331.3h0.75v0.75h-0.75zM48.8 332.2h0.75v0.75h-0.75zM51.5 331.2h0.75v0.75h-0.75zM56.0 331.2h0.75v0.75h-0.75zM56.4 330.5h0.75v0.75h-0.75zM50.7 335.0h0.75v0.75h-0.75zM51.3 333.7h0.75v0.75h-0.75zM50.7 337.1h0.75v0.75h-0.75zM50.7 337.4h0.75v0.75h-0.75zM50.6 335.7h0.75v0.75h-0.75zM45.6 342.7h0.75v0.75h-0.75zM50.1 333.4h0.75v0.75h-0.75zM51.0 340.5h0.75v0.75h-0.75zM47.5 335.3h0.75v0.75h-0.75zM49.3 338.6h0.75v0.75h-0.75zM52.4 334.1h0.75v0.75h-0.75zM47.5 337.0h0.75v0.75h-0.75zM53.0 327.7h0.75v0.75h-0.75zM51.0 332.7h0.75v0.75h-0.75zM52.9 330.7h0.75v0.75h-0.75zM50.0 338.9h0.75v0.75h-0.75zM51.4 333.5h0.75v0.75h-0.75zM49.7 333.3h0.75v0.75h-0.75zM52.6 333.8h0.75v0.75h-0.75zM50.3 333.7h0.75v0.75h-0.75zM53.0 330.9h0.75v0.75h-0.75zM54.8 332.2h0.75v0.75h-0.75zM48.0 338.8h0.75v0.75h-0.75zM46.9 340.7h0.75v0.75h-0.75zM52.8 331.5h0.75v0.75h-0.75zM50.3 335.8h0.75v0.75h-0.75zM46.4 341.5h0.75v0.75h-0.75zM50.7 330.7h0.75v0.75h-0.75zM50.3 332.5h0.75v0.75h-0.75zM44.3 344.0h0.75v0.75h-0.75zM55.5 330.3h0.75v0.75h-0.75zM51.8 337.4h0.75v0.75h-0.75zM46.4 335.6h0.75v0.75h-0.75zM48.7 336.6h0.75v0.75h-0.75zM54.5 333.0h0.75v0.75h-0.75zM49.2 337.2h0.75v0.75h-0.75zM53.1 330.4h0.75v0.75h-0.75zM52.0 334.8h0.75v0.75h-0.75zM51.0 334.4h0.75v0.75h-0.75zM49.6 334.8h0.75v0.75h-0.75zM50.5 329.6h0.75v0.75h-0.75zM45.9 338.1h0.75v0.75h-0.75zM56.7 328.6h0.75v0.75h-0.75zM54.6 335.1h0.75v0.75h-0.75zM56.0 332.6h0.75v0.75h-0.75zM53.6 331.5h0.75v0.75h-0.75zM50.0 334.6h0.75v0.75h-0.75zM50.9 337.7h0.75v0.75h-0.75zM47.5 336.9h0.75v0.75h-0.75zM52.7 334.4h0.75v0.75h-0.75zM50.9 337.3h0.75v0.75h-0.75zM58.0 327.6h0.75v0.75h-0.75zM53.5 333.5h0.75v0.75h-0.75zM49.0 339.4h0.75v0.75h-0.75zM48.2 341.2h0.75v0.75h-0.75zM51.4 334.5h0.75v0.75h-0.75zM52.1 339.0h0.75v0.75h-0.75zM47.1 334.8h0.75v0.75h-0.75zM51.8 329.7h0.75v0.75h-0.75zM52.6 333.8h0.75v0.75h-0.75zM49.6 329.7h0.75v0.75h-0.75zM53.8 334.0h0.75v0.75h-0.75zM52.8 327.7h0.75v0.75h-0.75zM49.3 337.3h0.75v0.75h-0.75zM52.1 332.7h0.75v0.75h-0.75zM53.7 329.7h0.75v0.75h-0.75zM48.5 341.0h0.75v0.75h-0.75zM51.3 333.8h0.75v0.75h-0.75zM51.0 330.3h0.75v0.75h-0.75zM50.5 334.1h0.75v0.75h-0.75zM45.3 343.2h0.75v0.75h-0.75zM54.3 326.0h0.75v0.75h-0.75zM49.6 337.4h0.75v0.75h-0.75zM51.7 338.0h0.75v0.75h-0.75zM47.6 335.9h0.75v0.75h-0.75zM50.3 336.8h0.75v0.75h-0.75zM53.0 335.2h0.75v0.75h-0.75zM43.7 337.4h0.75v0.75h-0.75zM49.6 335.7h0.75v0.75h-0.75zM47.7 343.5h0.75v0.75h-0.75zM49.5 332.5h0.75v0.75h-0.75zM47.6 338.8h0.75v0.75h-0.75zM48.2 337.9h0.75v0.75h-0.75zM45.1 341.6h0.75v0.75h-0.75zM50.8 333.2h0.75v0.75h-0.75zM54.0 332.8h0.75v0.75h-0.75zM49.3 339.7h0.75v0.75h-0.75zM53.4 332.1h0.75v0.75h-0.75zM53.4 339.5h0.75v0.75h-0.75zM50.1 337.2h0.75v0.75h-0.75zM53.2 332.3h0.75v0.75h-0.75zM45.3 337.2h0.75v0.75h-0.75zM48.7 341.7h0.75v0.75h-0.75zM47.8 339.8h0.75v0.75h-0.75zM52.8 334.2h0.75v0.75h-0.75zM57.0 332.3h0.75v0.75h-0.75zM50.2 335.8h0.75v0.75h-0.75zM51.5 333.2h0.75v0.75h-0.75zM47.2 337.0h0.75v0.75h-0.75zM51.9 332.8h0.75v0.75h-0.75zM50.6 338.4h0.75v0.75h-0.75zM50.0 337.2h0.75v0.75h-0.75zM50.1 337.8h0.75v0.75h-0.75zM47.1 342.9h0.75v0.75h-0.75zM48.9 334.6h0.75v0.75h-0.75zM43.0 338.6h0.75v0.75h-0.75zM52.5 335.5h0.75v0.75h-0.75zM50.9 339.7h0.75v0.75h-0.75zM56.2 331.3h0.75v0.75h-0.75zM52.1 334.2h0.75v0.75h-0.75zM45.5 342.5h0.75v0.75h-0.75zM49.7 336.6h0.75v0.75h-0.75zM48.7 339.4h0.75v0.75h-0.75zM54.2 329.2h0.75v0.75h-0.75zM53.5 331.7h0.75v0.75h-0.75zM51.7 331.6h0.75v0.75h-0.75zM44.9 340.4h0.75v0.75h-0.75zM53.9 332.8h0.75v0.75h-0.75zM45.2 338.7h0.75v0.75h-0.75zM51.5 334.8h0.75v0.75h-0.75zM45.4 338.7h0.75v0.75h-0.75zM50.8 336.1h0.75v0.75h-0.75zM52.2 326.8h0.75v0.75h-0.75zM50.0 335.3h0.75v0.75h-0.75zM51.7 333.1h0.75v0.75h-0.75zM50.3 342.3h0.75v0.75h-0.75zM54.5 329.5h0.75v0.75h-0.75zM48.9 340.4h0.75v0.75h-0.75zM51.5 333.9h0.75v0.75h-0.75zM46.6 335.8h0.75v0.75h-0.75zM50.7 332.3h0.75v0.75h-0.75zM50.9 338.5h0.75v0.75h-0.75zM47.6 337.3h0.75v0.75h-0.75zM52.6 332.4h0.75v0.75h-0.75zM54.4 332.8h0.75v0.75h-0.75zM47.6 338.1h0.75v0.75h-0.75zM46.5 338.5h0.75v0.75h-0.75zM54.1 329.9h0.75v0.75h-0.75zM50.7 338.7h0.75v0.75h-0.75zM45.4 342.7h0.75v0.75h-0.75zM49.0 337.3h0.75v0.75h-0.75zM53.4 331.1h0.75v0.75h-0.75zM51.4 335.9h0.75v0.75h-0.75zM45.9 338.1h0.75v0.75h-0.75zM51.1 335.1h0.75v0.75h-0.75zM49.6 335.1h0.75v0.75h-0.75zM51.2 336.2h0.75v0.75h-0.75zM53.1 337.1h0.75v0.75h-0.75zM53.6 327.2h0.75v0.75h-0.75zM53.4 334.3h0.75v0.75h-0.75zM52.6 336.4h0.75v0.75h-0.75zM49.4 335.7h0.75v0.75h-0.75zM51.5 329.3h0.75v0.75h-0.75zM43.2 340.8h0.75v0.75h-0.75zM50.1 335.5h0.75v0.75h-0.75zM51.7 331.2h0.75v0.75h-0.75zM49.7 336.9h0.75v0.75h-0.75zM46.2 338.7h0.75v0.75h-0.75zM50.7 334.8h0.75v0.75h-0.75zM50.7 339.4h0.75v0.75h-0.75zM54.3 331.2h0.75v0.75h-0.75zM44.7 344.4h0.75v0.75h-0.75zM46.7 339.3h0.75v0.75h-0.75zM49.2 339.2h0.75v0.75h-0.75zM46.0 339.9h0.75v0.75h-0.75zM53.5 334.2h0.75v0.75h-0.75zM49.1 334.4h0.75v0.75h-0.75zM52.1 332.9h0.75v0.75h-0.75zM52.4 332.3h0.75v0.75h-0.75zM53.6 334.3h0.75v0.75h-0.75zM49.2 340.2h0.75v0.75h-0.75zM53.1 333.1h0.75v0.75h-0.75zM48.2 342.9h0.75v0.75h-0.75zM51.4 332.9h0.75v0.75h-0.75zM48.8 337.6h0.75v0.75h-0.75zM48.3 337.0h0.75v0.75h-0.75zM49.7 338.3h0.75v0.75h-0.75zM49.5 334.9h0.75v0.75h-0.75zM46.4 339.7h0.75v0.75h-0.75zM51.3 336.0h0.75v0.75h-0.75zM49.7 339.6h0.75v0.75h-0.75zM48.8 336.1h0.75v0.75h-0.75zM47.6 337.6h0.75v0.75h-0.75zM45.4 333.8h0.75v0.75h-0.75zM51.5 335.5h0.75v0.75h-0.75zM49.2 332.6h0.75v0.75h-0.75zM53.7 332.4h0.75v0.75h-0.75zM44.8 342.5h0.75v0.75h-0.75zM49.1 331.9h0.75v0.75h-0.75zM49.0 336.0h0.75v0.75h-0.75zM50.6 335.6h0.75v0.75h-0.75zM47.5 341.9h0.75v0.75h-0.75zM47.4 341.1h0.75v0.75h-0.75zM51.6 333.7h0.75v0.75h-0.75zM49.1 336.5h0.75v0.75h-0.75zM46.7 341.5h0.75v0.75h-0.75zM54.3 332.4h0.75v0.75h-0.75zM50.0 336.5h0.75v0.75h-0.75zM47.6 340.0h0.75v0.75h-0.75zM48.4 333.8h0.75v0.75h-0.75zM54.8 327.7h0.75v0.75h-0.75zM55.0 328.5h0.75v0.75h-0.75zM49.3 336.2h0.75v0.75h-0.75zM46.4 338.7h0.75v0.75h-0.75zM51.7 334.0h0.75v0.75h-0.75zM49.8 339.9h0.75v0.75h-0.75zM53.8 330.8h0.75v0.75h-0.75zM50.1 332.9h0.75v0.75h-0.75zM49.2 341.7h0.75v0.75h-0.75zM52.2 329.5h0.75v0.75h-0.75zM50.1 336.4h0.75v0.75h-0.75zM48.3 339.9h0.75v0.75h-0.75zM48.2 340.1h0.75v0.75h-0.75zM48.5 336.6h0.75v0.75h-0.75zM48.1 331.6h0.75v0.75h-0.75zM49.7 333.4h0.75v0.75h-0.75zM50.7 335.6h0.75v0.75h-0.75zM51.3 334.3h0.75v0.75h-0.75zM44.8 339.2h0.75v0.75h-0.75zM50.5 337.6h0.75v0.75h-0.75zM51.5 335.4h0.75v0.75h-0.75zM53.6 335.8h0.75v0.75h-0.75zM52.3 333.5h0.75v0.75h-0.75zM51.3 336.1h0.75v0.75h-0.75zM50.9 334.4h0.75v0.75h-0.75zM46.2 338.4h0.75v0.75h-0.75zM51.7 333.6h0.75v0.75h-0.75zM51.9 336.9h0.75v0.75h-0.75zM50.8 335.5h0.75v0.75h-0.75zM50.6 334.3h0.75v0.75h-0.75zM54.6 327.4h0.75v0.75h-0.75zM55.5 329.6h0.75v0.75h-0.75zM49.9 332.5h0.75v0.75h-0.75zM47.9 338.8h0.75v0.75h-0.75zM49.3 340.0h0.75v0.75h-0.75zM47.7 332.9h0.75v0.75h-0.75zM45.5 339.8h0.75v0.75h-0.75zM51.8 332.7h0.75v0.75h-0.75zM49.4 340.0h0.75v0.75h-0.75zM50.7 334.5h0.75v0.75h-0.75zM54.5 337.3h0.75v0.75h-0.75zM49.7 337.6h0.75v0.75h-0.75zM52.6 331.6h0.75v0.75h-0.75zM55.6 330.4h0.75v0.75h-0.75zM54.2 329.5h0.75v0.75h-0.75zM51.7 330.3h0.75v0.75h-0.75zM50.5 335.7h0.75v0.75h-0.75zM50.0 334.9h0.75v0.75h-0.75zM52.0 331.9h0.75v0.75h-0.75zM51.0 336.3h0.75v0.75h-0.75zM54.4 333.2h0.75v0.75h-0.75zM49.4 334.3h0.75v0.75h-0.75zM55.8 332.9h0.75v0.75h-0.75zM48.1 332.1h0.75v0.75h-0.75zM48.2 338.0h0.75v0.75h-0.75zM50.9 338.9h0.75v0.75h-0.75zM48.0 340.4h0.75v0.75h-0.75zM47.5 341.1h0.75v0.75h-0.75zM45.6 339.6h0.75v0.75h-0.75zM53.5 334.2h0.75v0.75h-0.75zM49.6 337.5h0.75v0.75h-0.75zM43.4 341.1h0.75v0.75h-0.75zM51.1 336.6h0.75v0.75h-0.75zM51.4 334.2h0.75v0.75h-0.75zM50.6 329.5h0.75v0.75h-0.75zM50.2 333.0h0.75v0.75h-0.75zM53.6 331.0h0.75v0.75h-0.75zM49.3 333.6h0.75v0.75h-0.75zM49.4 340.3h0.75v0.75h-0.75zM52.2 334.4h0.75v0.75h-0.75zM51.2 334.8h0.75v0.75h-0.75zM54.4 329.3h0.75v0.75h-0.75zM45.8 337.3h0.75v0.75h-0.75zM52.1 334.6h0.75v0.75h-0.75zM53.1 338.0h0.75v0.75h-0.75zM50.2 337.9h0.75v0.75h-0.75zM55.3 330.5h0.75v0.75h-0.75zM54.3 334.1h0.75v0.75h-0.75zM50.5 332.4h0.75v0.75h-0.75zM50.9 338.3h0.75v0.75h-0.75zM50.5 337.4h0.75v0.75h-0.75zM52.8 334.2h0.75v0.75h-0.75zM52.1 332.3h0.75v0.75h-0.75zM51.7 336.2h0.75v0.75h-0.75zM47.6 333.9h0.75v0.75h-0.75zM47.0 336.3h0.75v0.75h-0.75zM49.2 337.0h0.75v0.75h-0.75zM54.3 331.5h0.75v0.75h-0.75zM48.5 335.8h0.75v0.75h-0.75zM50.1 335.8h0.75v0.75h-0.75zM46.1 340.8h0.75v0.75h-0.75zM56.4 328.7h0.75v0.75h-0.75zM53.2 335.0h0.75v0.75h-0.75zM48.2 335.1h0.75v0.75h-0.75zM46.8 337.5h0.75v0.75h-0.75zM51.4 339.5h0.75v0.75h-0.75zM48.8 337.0h0.75v0.75h-0.75zM47.2 336.2h0.75v0.75h-0.75zM48.7 339.1h0.75v0.75h-0.75zM50.5 334.5h0.75v0.75h-0.75zM50.0 338.8h0.75v0.75h-0.75zM49.7 334.9h0.75v0.75h-0.75zM54.6 332.6h0.75v0.75h-0.75zM48.4 342.1h0.75v0.75h-0.75zM52.8 330.8h0.75v0.75h-0.75zM47.3 338.6h0.75v0.75h-0.75zM49.7 338.9h0.75v0.75h-0.75zM47.3 340.9h0.75v0.75h-0.75zM52.0 338.6h0.75v0.75h-0.75zM48.5 335.7h0.75v0.75h-0.75zM46.5 333.8h0.75v0.75h-0.75zM46.0 344.9h0.75v0.75h-0.75zM57.0 326.4h0.75v0.75h-0.75zM61.8 321.5h0.75v0.75h-0.75zM55.5 332.5h0.75v0.75h-0.75zM62.3 326.0h0.75v0.75h-0.75zM60.5 327.0h0.75v0.75h-0.75zM52.7 334.5h0.75v0.75h-0.75zM56.0 324.1h0.75v0.75h-0.75zM57.2 327.5h0.75v0.75h-0.75zM55.0 327.4h0.75v0.75h-0.75zM56.6 330.5h0.75v0.75h-0.75zM57.9 326.1h0.75v0.75h-0.75zM58.1 327.7h0.75v0.75h-0.75zM59.4 325.8h0.75v0.75h-0.75zM56.5 329.3h0.75v0.75h-0.75zM57.6 324.5h0.75v0.75h-0.75zM52.4 325.1h0.75v0.75h-0.75zM56.1 329.5h0.75v0.75h-0.75zM54.2 334.5h0.75v0.75h-0.75zM61.9 324.7h0.75v0.75h-0.75zM55.1 332.9h0.75v0.75h-0.75zM53.4 327.2h0.75v0.75h-0.75zM51.7 331.0h0.75v0.75h-0.75zM54.6 329.2h0.75v0.75h-0.75zM55.1 327.6h0.75v0.75h-0.75zM47.5 335.7h0.75v0.75h-0.75zM63.9 324.4h0.75v0.75h-0.75zM57.0 333.9h0.75v0.75h-0.75zM54.8 330.3h0.75v0.75h-0.75zM52.6 332.3h0.75v0.75h-0.75zM58.4 328.5h0.75v0.75h-0.75zM56.9 327.4h0.75v0.75h-0.75zM54.0 327.8h0.75v0.75h-0.75zM60.9 325.4h0.75v0.75h-0.75zM61.6 326.5h0.75v0.75h-0.75zM50.2 335.1h0.75v0.75h-0.75zM50.9 327.8h0.75v0.75h-0.75zM56.9 325.2h0.75v0.75h-0.75zM59.2 329.2h0.75v0.75h-0.75zM52.1 328.5h0.75v0.75h-0.75zM59.3 325.3h0.75v0.75h-0.75zM55.3 333.3h0.75v0.75h-0.75zM57.1 327.4h0.75v0.75h-0.75zM55.6 329.7h0.75v0.75h-0.75zM54.1 329.7h0.75v0.75h-0.75zM64.2 322.9h0.75v0.75h-0.75zM55.8 332.1h0.75v0.75h-0.75zM55.2 328.7h0.75v0.75h-0.75zM51.5 328.0h0.75v0.75h-0.75zM63.5 326.1h0.75v0.75h-0.75zM56.8 329.1h0.75v0.75h-0.75zM51.5 329.6h0.75v0.75h-0.75zM56.2 324.7h0.75v0.75h-0.75zM45.5 319.9h0.75v0.75h-0.75zM65.0 344.6h0.75v0.75h-0.75zM47.4 339.0h0.75v0.75h-0.75zM64.4 334.8h0.75v0.75h-0.75zM47.3 320.5h0.75v0.75h-0.75zM60.2 324.1h0.75v0.75h-0.75zM60.1 325.1h0.75v0.75h-0.75z" fill="#000" fill-opacity="0.4"/>
<path d="M49.4 334.5h0.75v0.75h-0.75zM50.2 335.4h0.75v0.75h-0.75zM52.0 331.9h0.75v0.75h-0.75zM52.4 335.8h0.75v0.75h-0.75zM52.7 333.8h0.75v0.75h-0.75zM51.9 329.2h0.75v0.75h-0.75zM47.2 335.7h0.75v0.75h-0.75zM54.5 330.5h0.75v0.75h-0.75zM50.6 333.3h0.75v0.75h-0.75zM48.7 332.4h0.75v0.75h-0.75zM48.4 337.4h0.75v0.75h-0.75zM52.2 333.1h0.75v0.75h-0.75zM49.3 335.8h0.75v0.75h-0.75zM53.3 334.1h0.75v0.75h-0.75zM49.4 337.8h0.75v0.75h-0.75zM54.4 333.3h0.75v0.75h-0.75zM52.9 336.0h0.75v0.75h-0.75zM51.3 339.7h0.75v0.75h-0.75zM49.6 329.4h0.75v0.75h-0.75zM53.3 335.4h0.75v0.75h-0.75zM50.5 334.8h0.75v0.75h-0.75zM51.8 332.2h0.75v0.75h-0.75zM51.2 333.1h0.75v0.75h-0.75zM54.3 327.8h0.75v0.75h-0.75zM50.1 339.3h0.75v0.75h-0.75zM52.0 331.5h0.75v0.75h-0.75zM52.3 333.1h0.75v0.75h-0.75zM48.3 344.1h0.75v0.75h-0.75zM52.2 332.4h0.75v0.75h-0.75zM52.9 335.7h0.75v0.75h-0.75zM52.6 333.4h0.75v0.75h-0.75zM50.9 340.0h0.75v0.75h-0.75zM50.9 335.8h0.75v0.75h-0.75zM53.3 334.0h0.75v0.75h-0.75zM53.6 332.9h0.75v0.75h-0.75zM49.1 331.0h0.75v0.75h-0.75zM50.8 335.9h0.75v0.75h-0.75zM50.6 335.8h0.75v0.75h-0.75zM50.2 332.9h0.75v0.75h-0.75zM46.7 336.3h0.75v0.75h-0.75zM51.8 337.7h0.75v0.75h-0.75zM46.1 336.2h0.75v0.75h-0.75zM52.1 334.9h0.75v0.75h-0.75zM54.2 333.9h0.75v0.75h-0.75zM48.4 332.6h0.75v0.75h-0.75zM52.5 334.6h0.75v0.75h-0.75zM52.7 337.0h0.75v0.75h-0.75zM51.4 337.6h0.75v0.75h-0.75zM45.7 342.6h0.75v0.75h-0.75zM43.3 343.7h0.75v0.75h-0.75zM50.2 335.6h0.75v0.75h-0.75zM49.8 337.7h0.75v0.75h-0.75zM50.3 332.8h0.75v0.75h-0.75zM49.3 339.0h0.75v0.75h-0.75zM46.5 337.7h0.75v0.75h-0.75zM49.8 332.4h0.75v0.75h-0.75zM49.7 336.6h0.75v0.75h-0.75zM48.1 335.9h0.75v0.75h-0.75zM47.8 338.7h0.75v0.75h-0.75zM52.4 336.2h0.75v0.75h-0.75zM55.9 328.4h0.75v0.75h-0.75zM52.6 331.5h0.75v0.75h-0.75zM49.5 340.5h0.75v0.75h-0.75zM51.1 335.3h0.75v0.75h-0.75zM50.0 340.7h0.75v0.75h-0.75zM50.0 332.8h0.75v0.75h-0.75zM49.0 331.6h0.75v0.75h-0.75zM50.5 334.9h0.75v0.75h-0.75zM51.2 334.3h0.75v0.75h-0.75zM46.0 336.5h0.75v0.75h-0.75zM47.7 337.8h0.75v0.75h-0.75zM48.1 340.8h0.75v0.75h-0.75zM51.0 329.8h0.75v0.75h-0.75zM49.4 337.4h0.75v0.75h-0.75zM52.9 332.3h0.75v0.75h-0.75zM52.2 336.6h0.75v0.75h-0.75zM54.0 329.7h0.75v0.75h-0.75zM49.1 337.0h0.75v0.75h-0.75zM50.6 339.6h0.75v0.75h-0.75zM45.4 343.6h0.75v0.75h-0.75zM41.6 344.1h0.75v0.75h-0.75zM53.0 331.0h0.75v0.75h-0.75zM51.5 334.1h0.75v0.75h-0.75zM50.7 331.4h0.75v0.75h-0.75zM44.7 340.2h0.75v0.75h-0.75zM52.1 332.7h0.75v0.75h-0.75zM49.5 336.2h0.75v0.75h-0.75zM51.8 330.0h0.75v0.75h-0.75zM48.5 340.4h0.75v0.75h-0.75zM54.1 329.6h0.75v0.75h-0.75zM50.5 332.7h0.75v0.75h-0.75zM49.9 338.5h0.75v0.75h-0.75zM46.2 341.2h0.75v0.75h-0.75zM51.8 334.2h0.75v0.75h-0.75zM50.3 334.4h0.75v0.75h-0.75zM47.4 338.7h0.75v0.75h-0.75zM49.3 335.8h0.75v0.75h-0.75zM48.4 342.7h0.75v0.75h-0.75zM48.4 337.7h0.75v0.75h-0.75zM51.7 337.2h0.75v0.75h-0.75zM53.0 335.1h0.75v0.75h-0.75zM51.1 336.4h0.75v0.75h-0.75zM52.7 332.8h0.75v0.75h-0.75zM52.3 334.3h0.75v0.75h-0.75zM51.2 332.0h0.75v0.75h-0.75zM50.1 339.2h0.75v0.75h-0.75zM54.8 331.1h0.75v0.75h-0.75zM48.3 336.7h0.75v0.75h-0.75zM50.5 331.7h0.75v0.75h-0.75zM51.8 330.6h0.75v0.75h-0.75zM51.6 337.2h0.75v0.75h-0.75zM47.6 335.0h0.75v0.75h-0.75zM50.5 330.2h0.75v0.75h-0.75zM51.9 337.6h0.75v0.75h-0.75zM51.2 331.9h0.75v0.75h-0.75zM54.5 330.4h0.75v0.75h-0.75zM52.1 330.4h0.75v0.75h-0.75zM48.1 332.1h0.75v0.75h-0.75zM49.7 338.2h0.75v0.75h-0.75zM53.7 334.3h0.75v0.75h-0.75zM54.0 334.3h0.75v0.75h-0.75zM48.6 333.2h0.75v0.75h-0.75zM50.9 335.0h0.75v0.75h-0.75zM49.9 329.5h0.75v0.75h-0.75zM48.8 329.6h0.75v0.75h-0.75zM47.0 338.6h0.75v0.75h-0.75zM52.8 337.1h0.75v0.75h-0.75zM56.5 326.8h0.75v0.75h-0.75zM48.1 339.8h0.75v0.75h-0.75zM45.0 341.0h0.75v0.75h-0.75zM49.1 337.6h0.75v0.75h-0.75zM46.8 338.9h0.75v0.75h-0.75zM47.3 336.3h0.75v0.75h-0.75zM49.6 341.2h0.75v0.75h-0.75zM51.7 338.8h0.75v0.75h-0.75zM53.0 330.3h0.75v0.75h-0.75zM46.6 335.5h0.75v0.75h-0.75zM49.1 334.3h0.75v0.75h-0.75zM53.8 329.2h0.75v0.75h-0.75zM53.9 335.8h0.75v0.75h-0.75zM52.9 330.5h0.75v0.75h-0.75zM56.3 329.2h0.75v0.75h-0.75zM54.7 328.6h0.75v0.75h-0.75zM52.4 330.9h0.75v0.75h-0.75zM52.2 338.6h0.75v0.75h-0.75zM55.7 328.0h0.75v0.75h-0.75zM48.2 339.8h0.75v0.75h-0.75zM50.7 338.3h0.75v0.75h-0.75zM53.4 338.9h0.75v0.75h-0.75zM51.7 338.2h0.75v0.75h-0.75zM50.2 334.5h0.75v0.75h-0.75zM50.8 339.3h0.75v0.75h-0.75zM51.7 334.4h0.75v0.75h-0.75zM49.0 335.3h0.75v0.75h-0.75zM55.4 330.7h0.75v0.75h-0.75zM51.7 335.3h0.75v0.75h-0.75zM46.3 338.2h0.75v0.75h-0.75zM53.8 328.5h0.75v0.75h-0.75zM46.3 342.4h0.75v0.75h-0.75zM53.3 332.0h0.75v0.75h-0.75zM47.9 340.7h0.75v0.75h-0.75zM45.4 339.9h0.75v0.75h-0.75zM53.0 330.5h0.75v0.75h-0.75zM51.0 337.5h0.75v0.75h-0.75zM48.3 336.8h0.75v0.75h-0.75zM50.9 338.0h0.75v0.75h-0.75zM48.0 337.7h0.75v0.75h-0.75zM47.9 334.0h0.75v0.75h-0.75zM54.4 325.5h0.75v0.75h-0.75zM50.3 336.0h0.75v0.75h-0.75zM51.0 333.0h0.75v0.75h-0.75zM51.5 335.6h0.75v0.75h-0.75zM51.1 337.1h0.75v0.75h-0.75zM53.7 328.8h0.75v0.75h-0.75zM50.0 338.7h0.75v0.75h-0.75zM51.9 328.4h0.75v0.75h-0.75zM49.0 334.5h0.75v0.75h-0.75zM51.3 330.5h0.75v0.75h-0.75zM55.0 333.8h0.75v0.75h-0.75zM53.1 334.9h0.75v0.75h-0.75zM49.0 333.2h0.75v0.75h-0.75zM51.8 335.5h0.75v0.75h-0.75zM51.8 334.2h0.75v0.75h-0.75zM51.8 331.2h0.75v0.75h-0.75zM53.7 335.4h0.75v0.75h-0.75zM50.5 334.2h0.75v0.75h-0.75zM50.7 338.1h0.75v0.75h-0.75zM40.9 345.2h0.75v0.75h-0.75zM50.4 334.9h0.75v0.75h-0.75zM51.3 338.2h0.75v0.75h-0.75zM46.2 338.8h0.75v0.75h-0.75zM50.2 328.6h0.75v0.75h-0.75zM52.8 329.2h0.75v0.75h-0.75zM54.7 330.6h0.75v0.75h-0.75zM53.0 334.3h0.75v0.75h-0.75zM50.6 334.4h0.75v0.75h-0.75zM55.4 334.1h0.75v0.75h-0.75zM52.9 330.6h0.75v0.75h-0.75zM48.0 334.7h0.75v0.75h-0.75zM49.2 337.8h0.75v0.75h-0.75zM49.7 334.6h0.75v0.75h-0.75zM50.6 332.4h0.75v0.75h-0.75zM47.5 338.9h0.75v0.75h-0.75zM50.0 334.0h0.75v0.75h-0.75zM50.5 335.8h0.75v0.75h-0.75zM47.8 339.4h0.75v0.75h-0.75zM48.7 335.2h0.75v0.75h-0.75zM48.2 337.3h0.75v0.75h-0.75zM47.8 336.6h0.75v0.75h-0.75zM48.3 342.7h0.75v0.75h-0.75zM48.7 335.5h0.75v0.75h-0.75zM49.5 334.9h0.75v0.75h-0.75zM51.5 333.3h0.75v0.75h-0.75zM50.5 336.8h0.75v0.75h-0.75zM48.8 337.1h0.75v0.75h-0.75zM49.0 335.3h0.75v0.75h-0.75zM49.8 334.8h0.75v0.75h-0.75zM49.7 338.4h0.75v0.75h-0.75zM47.7 336.5h0.75v0.75h-0.75zM47.6 342.5h0.75v0.75h-0.75zM46.9 340.0h0.75v0.75h-0.75zM51.2 337.5h0.75v0.75h-0.75zM46.3 340.3h0.75v0.75h-0.75zM49.7 336.9h0.75v0.75h-0.75zM53.6 332.5h0.75v0.75h-0.75zM48.1 337.4h0.75v0.75h-0.75zM51.0 336.3h0.75v0.75h-0.75zM48.3 340.9h0.75v0.75h-0.75zM50.2 333.6h0.75v0.75h-0.75zM47.4 341.4h0.75v0.75h-0.75zM50.0 336.1h0.75v0.75h-0.75zM45.2 336.6h0.75v0.75h-0.75zM53.7 331.4h0.75v0.75h-0.75zM48.1 337.8h0.75v0.75h-0.75zM51.3 337.4h0.75v0.75h-0.75zM50.5 332.8h0.75v0.75h-0.75zM50.5 337.2h0.75v0.75h-0.75zM52.4 332.4h0.75v0.75h-0.75zM49.1 334.0h0.75v0.75h-0.75zM52.4 333.7h0.75v0.75h-0.75zM47.9 341.5h0.75v0.75h-0.75zM51.7 337.4h0.75v0.75h-0.75zM50.6 334.7h0.75v0.75h-0.75zM50.8 334.6h0.75v0.75h-0.75zM49.7 333.4h0.75v0.75h-0.75zM52.6 332.8h0.75v0.75h-0.75zM52.2 336.8h0.75v0.75h-0.75zM53.1 331.5h0.75v0.75h-0.75zM44.2 342.3h0.75v0.75h-0.75zM48.5 335.7h0.75v0.75h-0.75zM46.2 340.9h0.75v0.75h-0.75zM44.3 340.3h0.75v0.75h-0.75zM53.4 332.5h0.75v0.75h-0.75zM49.7 335.7h0.75v0.75h-0.75zM51.7 333.6h0.75v0.75h-0.75zM51.1 331.6h0.75v0.75h-0.75zM52.7 332.8h0.75v0.75h-0.75zM49.1 335.7h0.75v0.75h-0.75zM53.7 331.1h0.75v0.75h-0.75zM50.5 334.9h0.75v0.75h-0.75zM49.4 330.3h0.75v0.75h-0.75zM49.9 332.4h0.75v0.75h-0.75zM54.5 332.1h0.75v0.75h-0.75zM45.7 338.6h0.75v0.75h-0.75zM50.4 334.0h0.75v0.75h-0.75zM50.5 335.9h0.75v0.75h-0.75zM49.2 333.8h0.75v0.75h-0.75zM51.0 334.6h0.75v0.75h-0.75zM49.9 340.9h0.75v0.75h-0.75zM53.3 331.1h0.75v0.75h-0.75zM50.4 331.8h0.75v0.75h-0.75zM49.5 334.9h0.75v0.75h-0.75zM51.1 337.1h0.75v0.75h-0.75zM50.7 335.6h0.75v0.75h-0.75zM50.2 334.3h0.75v0.75h-0.75zM53.4 332.0h0.75v0.75h-0.75zM55.4 330.7h0.75v0.75h-0.75zM57.3 327.7h0.75v0.75h-0.75zM50.4 334.2h0.75v0.75h-0.75zM50.4 333.9h0.75v0.75h-0.75zM47.9 340.4h0.75v0.75h-0.75zM47.2 338.9h0.75v0.75h-0.75zM55.1 327.2h0.75v0.75h-0.75zM54.4 330.2h0.75v0.75h-0.75zM49.2 334.4h0.75v0.75h-0.75zM47.6 336.9h0.75v0.75h-0.75zM50.1 338.4h0.75v0.75h-0.75zM47.9 335.1h0.75v0.75h-0.75zM52.7 334.6h0.75v0.75h-0.75zM49.3 338.9h0.75v0.75h-0.75zM51.6 333.7h0.75v0.75h-0.75zM50.1 334.5h0.75v0.75h-0.75zM53.3 330.4h0.75v0.75h-0.75zM45.8 341.7h0.75v0.75h-0.75zM51.5 334.5h0.75v0.75h-0.75zM57.3 330.3h0.75v0.75h-0.75zM53.3 332.9h0.75v0.75h-0.75zM48.3 337.0h0.75v0.75h-0.75zM51.1 337.8h0.75v0.75h-0.75zM54.7 332.9h0.75v0.75h-0.75zM46.0 337.2h0.75v0.75h-0.75zM53.5 327.7h0.75v0.75h-0.75zM54.5 331.3h0.75v0.75h-0.75zM49.7 333.8h0.75v0.75h-0.75zM50.4 333.5h0.75v0.75h-0.75zM49.0 333.7h0.75v0.75h-0.75zM52.2 331.2h0.75v0.75h-0.75zM52.5 332.8h0.75v0.75h-0.75zM51.2 340.4h0.75v0.75h-0.75zM44.7 337.4h0.75v0.75h-0.75zM48.1 338.4h0.75v0.75h-0.75zM47.7 341.3h0.75v0.75h-0.75zM48.4 336.9h0.75v0.75h-0.75zM49.5 339.0h0.75v0.75h-0.75zM49.6 333.5h0.75v0.75h-0.75zM48.7 336.0h0.75v0.75h-0.75zM50.5 336.2h0.75v0.75h-0.75zM49.9 337.0h0.75v0.75h-0.75zM52.2 335.8h0.75v0.75h-0.75zM49.2 339.0h0.75v0.75h-0.75zM50.1 333.7h0.75v0.75h-0.75zM54.0 336.0h0.75v0.75h-0.75zM49.6 338.1h0.75v0.75h-0.75zM47.9 342.4h0.75v0.75h-0.75zM52.4 333.2h0.75v0.75h-0.75zM48.7 332.4h0.75v0.75h-0.75zM50.7 334.1h0.75v0.75h-0.75zM49.0 336.6h0.75v0.75h-0.75zM49.4 331.1h0.75v0.75h-0.75zM53.0 330.8h0.75v0.75h-0.75zM48.1 337.5h0.75v0.75h-0.75zM51.2 335.2h0.75v0.75h-0.75zM56.6 324.1h0.75v0.75h-0.75zM46.7 339.4h0.75v0.75h-0.75zM47.5 338.4h0.75v0.75h-0.75zM48.3 339.1h0.75v0.75h-0.75zM52.3 333.7h0.75v0.75h-0.75zM50.7 336.9h0.75v0.75h-0.75zM50.6 334.8h0.75v0.75h-0.75zM50.0 335.9h0.75v0.75h-0.75zM57.0 326.2h0.75v0.75h-0.75zM56.1 328.9h0.75v0.75h-0.75zM61.2 321.6h0.75v0.75h-0.75zM62.1 322.7h0.75v0.75h-0.75zM55.8 324.5h0.75v0.75h-0.75zM60.1 326.1h0.75v0.75h-0.75zM56.5 329.5h0.75v0.75h-0.75zM59.4 328.1h0.75v0.75h-0.75zM56.8 327.5h0.75v0.75h-0.75zM58.2 329.8h0.75v0.75h-0.75zM61.6 320.9h0.75v0.75h-0.75zM61.5 326.7h0.75v0.75h-0.75zM56.6 328.2h0.75v0.75h-0.75zM54.2 331.2h0.75v0.75h-0.75zM56.3 327.1h0.75v0.75h-0.75zM60.2 329.8h0.75v0.75h-0.75zM56.3 324.9h0.75v0.75h-0.75zM57.7 328.0h0.75v0.75h-0.75zM57.8 329.5h0.75v0.75h-0.75zM56.1 329.5h0.75v0.75h-0.75zM60.4 327.5h0.75v0.75h-0.75zM58.1 329.6h0.75v0.75h-0.75zM60.5 324.2h0.75v0.75h-0.75zM55.9 330.2h0.75v0.75h-0.75zM50.5 329.0h0.75v0.75h-0.75zM53.5 332.6h0.75v0.75h-0.75zM57.5 325.3h0.75v0.75h-0.75zM54.0 328.8h0.75v0.75h-0.75zM55.1 327.5h0.75v0.75h-0.75zM64.0 317.1h0.75v0.75h-0.75zM57.6 330.1h0.75v0.75h-0.75zM50.9 336.1h0.75v0.75h-0.75zM60.4 327.5h0.75v0.75h-0.75zM52.7 333.1h0.75v0.75h-0.75zM57.0 320.6h0.75v0.75h-0.75zM49.9 333.3h0.75v0.75h-0.75zM60.3 325.1h0.75v0.75h-0.75zM57.3 329.5h0.75v0.75h-0.75zM62.6 325.1h0.75v0.75h-0.75zM53.9 331.1h0.75v0.75h-0.75zM57.0 327.1h0.75v0.75h-0.75zM52.3 329.1h0.75v0.75h-0.75zM55.8 328.4h0.75v0.75h-0.75zM60.4 324.6h0.75v0.75h-0.75zM63.3 326.8h0.75v0.75h-0.75zM57.4 325.8h0.75v0.75h-0.75zM49.8 332.1h0.75v0.75h-0.75zM59.4 325.4h0.75v0.75h-0.75zM53.1 331.0h0.75v0.75h-0.75zM53.7 328.3h0.75v0.75h-0.75zM55.9 330.1h0.75v0.75h-0.75zM55.8 327.6h0.75v0.75h-0.75zM65.9 332.9h0.75v0.75h-0.75zM54.2 327.4h0.75v0.75h-0.75zM59.1 323.4h0.75v0.75h-0.75zM60.6 339.6h0.75v0.75h-0.75zM50.2 335.8h0.75v0.75h-0.75zM63.5 322.4h0.75v0.75h-0.75zM46.0 325.9h0.75v0.75h-0.75z" fill="#000" fill-opacity="0.4"/>
<path d="M47.7 339.4h0.75v0.75h-0.75zM47.4 341.4h0.75v0.75h-0.75zM52.3 335.7h0.75v0.75h-0.75zM50.5 335.9h0.75v0.75h-0.75zM47.4 335.0h0.75v0.75h-0.75zM47.0 340.2h0.75v0.75h-0.75zM49.5 338.9h0.75v0.75h-0.75zM53.3 330.6h0.75v0.75h-0.75zM44.1 344.1h0.75v0.75h-0.75zM51.8 330.1h0.75v0.75h-0.75zM47.5 339.6h0.75v0.75h-0.75zM53.4 334.5h0.75v0.75h-0.75zM50.7 334.9h0.75v0.75h-0.75zM52.2 334.8h0.75v0.75h-0.75zM56.2 330.9h0.75v0.75h-0.75zM54.2 333.8h0.75v0.75h-0.75zM48.9 340.0h0.75v0.75h-0.75zM51.3 340.7h0.75v0.75h-0.75zM48.6 337.2h0.75v0.75h-0.75zM49.2 337.9h0.75v0.75h-0.75zM52.1 335.3h0.75v0.75h-0.75zM51.6 330.5h0.75v0.75h-0.75zM48.6 333.9h0.75v0.75h-0.75zM53.6 333.4h0.75v0.75h-0.75zM49.4 333.9h0.75v0.75h-0.75zM52.0 338.2h0.75v0.75h-0.75zM52.7 331.7h0.75v0.75h-0.75zM51.4 332.6h0.75v0.75h-0.75zM47.3 338.1h0.75v0.75h-0.75zM53.1 330.9h0.75v0.75h-0.75zM52.7 331.5h0.75v0.75h-0.75zM51.2 332.6h0.75v0.75h-0.75zM49.3 336.7h0.75v0.75h-0.75zM50.0 334.7h0.75v0.75h-0.75zM51.5 332.5h0.75v0.75h-0.75zM50.5 331.0h0.75v0.75h-0.75zM54.0 328.8h0.75v0.75h-0.75zM47.6 337.0h0.75v0.75h-0.75zM48.7 340.3h0.75v0.75h-0.75zM52.1 336.3h0.75v0.75h-0.75zM51.3 334.3h0.75v0.75h-0.75zM49.3 340.4h0.75v0.75h-0.75zM52.7 335.8h0.75v0.75h-0.75zM57.9 326.5h0.75v0.75h-0.75zM46.4 337.2h0.75v0.75h-0.75zM56.2 331.5h0.75v0.75h-0.75zM51.9 333.2h0.75v0.75h-0.75zM51.7 337.4h0.75v0.75h-0.75zM48.9 333.7h0.75v0.75h-0.75zM47.0 332.3h0.75v0.75h-0.75zM48.4 339.5h0.75v0.75h-0.75zM52.3 332.6h0.75v0.75h-0.75zM45.9 333.0h0.75v0.75h-0.75zM47.9 342.4h0.75v0.75h-0.75zM47.6 337.3h0.75v0.75h-0.75zM50.1 337.7h0.75v0.75h-0.75zM46.2 341.3h0.75v0.75h-0.75zM47.3 336.1h0.75v0.75h-0.75zM46.2 341.2h0.75v0.75h-0.75zM54.5 334.0h0.75v0.75h-0.75zM47.9 337.2h0.75v0.75h-0.75zM52.4 329.8h0.75v0.75h-0.75zM52.8 336.7h0.75v0.75h-0.75zM44.5 340.5h0.75v0.75h-0.75zM54.5 332.4h0.75v0.75h-0.75zM48.4 337.3h0.75v0.75h-0.75zM50.6 337.8h0.75v0.75h-0.75zM54.1 333.4h0.75v0.75h-0.75zM50.3 334.7h0.75v0.75h-0.75zM47.9 336.5h0.75v0.75h-0.75zM46.8 338.4h0.75v0.75h-0.75zM47.1 335.3h0.75v0.75h-0.75zM51.5 334.2h0.75v0.75h-0.75zM48.7 340.8h0.75v0.75h-0.75zM48.9 335.0h0.75v0.75h-0.75zM50.4 337.8h0.75v0.75h-0.75zM50.3 331.4h0.75v0.75h-0.75zM50.0 339.2h0.75v0.75h-0.75zM47.3 339.8h0.75v0.75h-0.75zM54.4 325.9h0.75v0.75h-0.75zM48.9 332.9h0.75v0.75h-0.75zM51.7 335.0h0.75v0.75h-0.75zM48.2 338.0h0.75v0.75h-0.75zM55.0 333.9h0.75v0.75h-0.75zM51.4 331.9h0.75v0.75h-0.75zM53.7 335.2h0.75v0.75h-0.75zM50.6 332.3h0.75v0.75h-0.75zM52.9 330.9h0.75v0.75h-0.75zM50.7 337.3h0.75v0.75h-0.75zM47.6 338.3h0.75v0.75h-0.75zM46.7 342.1h0.75v0.75h-0.75zM51.9 333.4h0.75v0.75h-0.75zM48.0 335.9h0.75v0.75h-0.75zM51.8 332.8h0.75v0.75h-0.75zM41.2 342.5h0.75v0.75h-0.75zM49.1 335.9h0.75v0.75h-0.75zM48.9 340.5h0.75v0.75h-0.75zM52.8 335.3h0.75v0.75h-0.75zM49.2 334.4h0.75v0.75h-0.75zM47.4 341.7h0.75v0.75h-0.75zM43.3 341.5h0.75v0.75h-0.75zM49.6 339.0h0.75v0.75h-0.75zM47.1 336.1h0.75v0.75h-0.75zM53.8 332.3h0.75v0.75h-0.75zM50.8 334.8h0.75v0.75h-0.75zM49.7 336.2h0.75v0.75h-0.75zM52.7 333.5h0.75v0.75h-0.75zM48.5 336.0h0.75v0.75h-0.75zM50.9 332.3h0.75v0.75h-0.75zM49.4 336.5h0.75v0.75h-0.75zM48.1 339.2h0.75v0.75h-0.75zM52.6 332.7h0.75v0.75h-0.75zM50.3 341.0h0.75v0.75h-0.75zM49.5 332.8h0.75v0.75h-0.75zM49.0 333.4h0.75v0.75h-0.75zM51.0 334.5h0.75v0.75h-0.75zM49.3 331.7h0.75v0.75h-0.75zM51.0 340.2h0.75v0.75h-0.75zM50.0 333.0h0.75v0.75h-0.75zM48.2 338.8h0.75v0.75h-0.75zM52.8 333.4h0.75v0.75h-0.75zM52.6 335.1h0.75v0.75h-0.75zM52.1 333.8h0.75v0.75h-0.75zM52.9 332.1h0.75v0.75h-0.75zM52.1 330.3h0.75v0.75h-0.75zM47.6 341.9h0.75v0.75h-0.75zM54.2 332.7h0.75v0.75h-0.75zM50.6 337.3h0.75v0.75h-0.75zM49.5 337.7h0.75v0.75h-0.75zM49.0 333.2h0.75v0.75h-0.75zM52.3 334.2h0.75v0.75h-0.75zM49.7 337.7h0.75v0.75h-0.75zM53.6 333.3h0.75v0.75h-0.75zM53.1 336.1h0.75v0.75h-0.75zM46.5 338.9h0.75v0.75h-0.75zM55.7 331.1h0.75v0.75h-0.75zM48.4 343.0h0.75v0.75h-0.75zM47.2 340.5h0.75v0.75h-0.75zM49.1 338.4h0.75v0.75h-0.75zM44.2 342.8h0.75v0.75h-0.75zM52.9 335.0h0.75v0.75h-0.75zM46.6 342.5h0.75v0.75h-0.75zM47.0 346.3h0.75v0.75h-0.75zM51.7 331.5h0.75v0.75h-0.75zM48.9 332.5h0.75v0.75h-0.75zM50.3 338.1h0.75v0.75h-0.75zM50.3 335.3h0.75v0.75h-0.75zM49.6 327.6h0.75v0.75h-0.75zM46.7 339.5h0.75v0.75h-0.75zM51.1 336.3h0.75v0.75h-0.75zM51.1 340.7h0.75v0.75h-0.75zM50.6 334.5h0.75v0.75h-0.75zM48.9 336.8h0.75v0.75h-0.75zM50.5 335.0h0.75v0.75h-0.75zM53.6 331.5h0.75v0.75h-0.75zM48.4 336.0h0.75v0.75h-0.75zM52.3 331.6h0.75v0.75h-0.75zM46.8 339.2h0.75v0.75h-0.75zM47.4 336.4h0.75v0.75h-0.75zM51.0 333.0h0.75v0.75h-0.75zM49.6 340.7h0.75v0.75h-0.75zM50.7 333.4h0.75v0.75h-0.75zM54.6 336.9h0.75v0.75h-0.75zM47.4 339.2h0.75v0.75h-0.75zM49.6 337.8h0.75v0.75h-0.75zM49.7 335.7h0.75v0.75h-0.75zM48.1 338.0h0.75v0.75h-0.75zM52.1 332.7h0.75v0.75h-0.75zM50.5 335.3h0.75v0.75h-0.75zM52.0 333.1h0.75v0.75h-0.75zM47.3 338.8h0.75v0.75h-0.75zM50.8 333.9h0.75v0.75h-0.75zM47.3 338.2h0.75v0.75h-0.75zM51.8 335.7h0.75v0.75h-0.75zM51.3 330.8h0.75v0.75h-0.75zM48.9 336.6h0.75v0.75h-0.75zM48.5 338.9h0.75v0.75h-0.75zM53.1 334.0h0.75v0.75h-0.75zM50.8 337.8h0.75v0.75h-0.75zM53.9 329.6h0.75v0.75h-0.75zM48.1 336.4h0.75v0.75h-0.75zM50.5 333.0h0.75v0.75h-0.75zM49.0 342.1h0.75v0.75h-0.75zM47.0 342.9h0.75v0.75h-0.75zM52.1 334.4h0.75v0.75h-0.75zM48.6 336.5h0.75v0.75h-0.75zM51.2 334.4h0.75v0.75h-0.75zM44.5 340.2h0.75v0.75h-0.75zM52.3 334.9h0.75v0.75h-0.75zM53.2 332.2h0.75v0.75h-0.75zM50.5 337.8h0.75v0.75h-0.75zM52.8 336.8h0.75v0.75h-0.75zM47.1 338.9h0.75v0.75h-0.75zM50.1 332.9h0.75v0.75h-0.75zM50.2 329.0h0.75v0.75h-0.75zM47.3 337.0h0.75v0.75h-0.75zM48.0 337.2h0.75v0.75h-0.75zM49.6 334.1h0.75v0.75h-0.75zM47.2 342.2h0.75v0.75h-0.75zM46.7 342.7h0.75v0.75h-0.75zM48.5 337.0h0.75v0.75h-0.75zM50.7 334.0h0.75v0.75h-0.75zM51.8 330.0h0.75v0.75h-0.75zM46.4 343.1h0.75v0.75h-0.75zM47.8 339.4h0.75v0.75h-0.75zM47.9 340.1h0.75v0.75h-0.75zM47.2 338.2h0.75v0.75h-0.75zM48.3 332.0h0.75v0.75h-0.75zM48.7 332.1h0.75v0.75h-0.75zM53.0 330.5h0.75v0.75h-0.75zM47.3 342.1h0.75v0.75h-0.75zM48.2 340.1h0.75v0.75h-0.75zM51.3 333.6h0.75v0.75h-0.75zM50.0 337.3h0.75v0.75h-0.75zM50.1 337.1h0.75v0.75h-0.75zM50.4 335.1h0.75v0.75h-0.75zM49.8 337.1h0.75v0.75h-0.75zM48.9 334.5h0.75v0.75h-0.75zM46.8 338.1h0.75v0.75h-0.75zM47.2 336.0h0.75v0.75h-0.75zM49.8 341.0h0.75v0.75h-0.75zM51.3 334.2h0.75v0.75h-0.75zM52.8 330.2h0.75v0.75h-0.75zM44.7 340.5h0.75v0.75h-0.75zM51.2 332.9h0.75v0.75h-0.75zM47.4 337.6h0.75v0.75h-0.75zM48.1 335.6h0.75v0.75h-0.75zM47.1 338.2h0.75v0.75h-0.75zM50.4 330.7h0.75v0.75h-0.75zM51.9 331.1h0.75v0.75h-0.75zM53.3 338.8h0.75v0.75h-0.75zM47.8 340.6h0.75v0.75h-0.75zM51.2 339.2h0.75v0.75h-0.75zM53.8 333.3h0.75v0.75h-0.75zM47.3 342.2h0.75v0.75h-0.75zM49.5 342.0h0.75v0.75h-0.75zM52.3 337.2h0.75v0.75h-0.75zM48.8 333.1h0.75v0.75h-0.75zM50.6 333.9h0.75v0.75h-0.75zM48.6 337.2h0.75v0.75h-0.75zM43.8 339.9h0.75v0.75h-0.75zM52.5 337.9h0.75v0.75h-0.75zM44.9 337.9h0.75v0.75h-0.75zM48.8 336.9h0.75v0.75h-0.75zM54.5 331.6h0.75v0.75h-0.75zM50.9 338.2h0.75v0.75h-0.75zM53.6 330.4h0.75v0.75h-0.75zM51.5 329.9h0.75v0.75h-0.75zM50.8 331.4h0.75v0.75h-0.75zM52.9 335.9h0.75v0.75h-0.75zM49.9 335.9h0.75v0.75h-0.75zM51.4 336.7h0.75v0.75h-0.75zM50.7 337.1h0.75v0.75h-0.75zM50.8 334.6h0.75v0.75h-0.75zM50.9 334.0h0.75v0.75h-0.75zM48.2 338.2h0.75v0.75h-0.75zM52.2 335.7h0.75v0.75h-0.75zM49.0 339.0h0.75v0.75h-0.75zM53.0 335.0h0.75v0.75h-0.75zM49.2 331.6h0.75v0.75h-0.75zM53.4 330.1h0.75v0.75h-0.75zM50.5 332.5h0.75v0.75h-0.75zM45.3 339.7h0.75v0.75h-0.75zM52.3 331.5h0.75v0.75h-0.75zM54.0 334.1h0.75v0.75h-0.75zM54.2 331.9h0.75v0.75h-0.75zM49.8 333.1h0.75v0.75h-0.75zM50.8 338.2h0.75v0.75h-0.75zM49.9 335.5h0.75v0.75h-0.75zM48.7 336.7h0.75v0.75h-0.75zM48.3 335.3h0.75v0.75h-0.75zM47.3 342.4h0.75v0.75h-0.75zM46.3 335.5h0.75v0.75h-0.75zM48.3 336.4h0.75v0.75h-0.75zM52.8 334.2h0.75v0.75h-0.75zM49.3 335.0h0.75v0.75h-0.75zM48.7 338.9h0.75v0.75h-0.75zM51.1 334.1h0.75v0.75h-0.75zM55.2 335.3h0.75v0.75h-0.75zM49.0 339.5h0.75v0.75h-0.75zM47.3 342.7h0.75v0.75h-0.75zM50.6 335.4h0.75v0.75h-0.75zM51.5 336.7h0.75v0.75h-0.75zM48.1 336.8h0.75v0.75h-0.75zM51.8 329.7h0.75v0.75h-0.75zM47.1 334.3h0.75v0.75h-0.75zM56.5 328.1h0.75v0.75h-0.75zM52.0 332.7h0.75v0.75h-0.75zM55.4 327.4h0.75v0.75h-0.75zM47.2 334.6h0.75v0.75h-0.75zM46.1 337.0h0.75v0.75h-0.75zM54.2 330.7h0.75v0.75h-0.75zM50.2 334.1h0.75v0.75h-0.75zM48.2 336.3h0.75v0.75h-0.75zM50.5 334.5h0.75v0.75h-0.75zM52.9 336.0h0.75v0.75h-0.75zM48.4 336.2h0.75v0.75h-0.75zM50.4 332.9h0.75v0.75h-0.75zM51.7 335.4h0.75v0.75h-0.75zM55.3 331.0h0.75v0.75h-0.75zM52.3 334.6h0.75v0.75h-0.75zM49.8 335.9h0.75v0.75h-0.75zM48.2 336.0h0.75v0.75h-0.75zM46.0 339.4h0.75v0.75h-0.75zM48.3 338.9h0.75v0.75h-0.75zM50.6 332.5h0.75v0.75h-0.75zM48.1 341.7h0.75v0.75h-0.75zM49.7 334.2h0.75v0.75h-0.75zM47.0 338.7h0.75v0.75h-0.75zM50.3 332.5h0.75v0.75h-0.75zM49.6 337.2h0.75v0.75h-0.75zM49.6 336.4h0.75v0.75h-0.75zM49.7 334.0h0.75v0.75h-0.75zM55.0 322.5h0.75v0.75h-0.75zM45.9 337.6h0.75v0.75h-0.75zM49.5 334.2h0.75v0.75h-0.75zM52.1 334.9h0.75v0.75h-0.75zM54.1 333.9h0.75v0.75h-0.75zM50.5 335.2h0.75v0.75h-0.75zM51.4 335.0h0.75v0.75h-0.75zM50.9 336.9h0.75v0.75h-0.75zM49.7 336.2h0.75v0.75h-0.75zM47.7 337.1h0.75v0.75h-0.75zM48.1 337.1h0.75v0.75h-0.75zM49.6 334.5h0.75v0.75h-0.75zM51.6 331.8h0.75v0.75h-0.75zM47.6 334.8h0.75v0.75h-0.75zM52.9 336.2h0.75v0.75h-0.75zM48.5 343.2h0.75v0.75h-0.75zM52.3 332.6h0.75v0.75h-0.75zM50.1 334.6h0.75v0.75h-0.75zM48.7 337.9h0.75v0.75h-0.75zM48.5 334.2h0.75v0.75h-0.75zM44.0 342.3h0.75v0.75h-0.75zM41.8 338.7h0.75v0.75h-0.75zM52.0 334.7h0.75v0.75h-0.75zM49.3 338.0h0.75v0.75h-0.75zM54.5 329.6h0.75v0.75h-0.75zM47.6 339.6h0.75v0.75h-0.75zM43.3 340.2h0.75v0.75h-0.75zM58.9 327.5h0.75v0.75h-0.75zM51.0 336.7h0.75v0.75h-0.75zM56.3 324.7h0.75v0.75h-0.75zM55.0 328.5h0.75v0.75h-0.75zM64.0 326.1h0.75v0.75h-0.75zM58.9 325.9h0.75v0.75h-0.75zM52.6 325.2h0.75v0.75h-0.75zM57.3 327.1h0.75v0.75h-0.75zM59.9 324.7h0.75v0.75h-0.75zM54.4 330.7h0.75v0.75h-0.75zM54.2 335.5h0.75v0.75h-0.75zM58.5 325.8h0.75v0.75h-0.75zM62.5 326.7h0.75v0.75h-0.75zM54.2 330.8h0.75v0.75h-0.75zM56.7 327.8h0.75v0.75h-0.75zM54.3 328.8h0.75v0.75h-0.75zM60.5 329.0h0.75v0.75h-0.75zM58.2 323.3h0.75v0.75h-0.75zM55.3 330.8h0.75v0.75h-0.75zM56.2 330.0h0.75v0.75h-0.75zM61.9 324.5h0.75v0.75h-0.75zM60.8 325.2h0.75v0.75h-0.75zM55.6 329.2h0.75v0.75h-0.75zM51.3 332.0h0.75v0.75h-0.75zM57.3 327.6h0.75v0.75h-0.75zM57.8 327.1h0.75v0.75h-0.75zM55.1 330.8h0.75v0.75h-0.75zM61.9 319.8h0.75v0.75h-0.75zM55.2 329.4h0.75v0.75h-0.75zM49.3 329.7h0.75v0.75h-0.75zM59.0 324.8h0.75v0.75h-0.75zM58.0 320.3h0.75v0.75h-0.75zM59.0 328.8h0.75v0.75h-0.75zM52.6 330.1h0.75v0.75h-0.75zM53.7 328.9h0.75v0.75h-0.75zM57.3 324.6h0.75v0.75h-0.75zM57.2 328.4h0.75v0.75h-0.75zM61.6 327.0h0.75v0.75h-0.75zM50.0 333.3h0.75v0.75h-0.75zM54.0 329.6h0.75v0.75h-0.75zM59.6 324.8h0.75v0.75h-0.75zM52.1 334.4h0.75v0.75h-0.75zM54.6 331.9h0.75v0.75h-0.75zM58.4 330.1h0.75v0.75h-0.75zM56.6 322.7h0.75v0.75h-0.75zM56.1 333.3h0.75v0.75h-0.75zM53.9 331.2h0.75v0.75h-0.75zM54.7 328.3h0.75v0.75h-0.75zM50.7 330.3h0.75v0.75h-0.75zM58.8 325.3h0.75v0.75h-0.75zM60.5 327.4h0.75v0.75h-0.75zM56.8 325.3h0.75v0.75h-0.75zM45.1 345.5h0.75v0.75h-0.75zM54.5 340.8h0.75v0.75h-0.75zM45.3 336.3h0.75v0.75h-0.75zM55.3 318.7h0.75v0.75h-0.75zM67.6 333.5h0.75v0.75h-0.75zM58.9 330.4h0.75v0.75h-0.75zM53.3 340.1h0.75v0.75h-0.75z" fill="#000" fill-opacity="0.4"/>
<path d="M45.8 337.8h0.75v0.75h-0.75zM54.4 336.6h0.75v0.75h-0.75zM52.2 333.1h0.75v0.75h-0.75zM50.4 332.1h0.75v0.75h-0.75zM52.0 331.7h0.75v0.75h-0.75zM52.3 333.1h0.75v0.75h-0.75zM46.0 341.6h0.75v0.75h-0.75zM49.7 337.6h0.75v0.75h-0.75zM47.2 338.5h0.75v0.75h-0.75zM49.8 332.9h0.75v0.75h-0.75zM49.9 338.2h0.75v0.75h-0.75zM51.1 330.1h0.75v0.75h-0.75zM49.3 334.7h0.75v0.75h-0.75zM48.2 335.4h0.75v0.75h-0.75zM48.6 337.9h0.75v0.75h-0.75zM47.4 336.4h0.75v0.75h-0.75zM50.6 338.9h0.75v0.75h-0.75zM48.7 334.7h0.75v0.75h-0.75zM51.9 327.1h0.75v0.75h-0.75zM54.4 332.2h0.75v0.75h-0.75zM54.3 329.2h0.75v0.75h-0.75zM43.7 346.1h0.75v0.75h-0.75zM50.4 332.9h0.75v0.75h-0.75zM51.1 334.9h0.75v0.75h-0.75zM48.3 337.5h0.75v0.75h-0.75zM50.3 335.1h0.75v0.75h-0.75zM52.0 334.3h0.75v0.75h-0.75zM51.8 336.7h0.75v0.75h-0.75zM50.4 336.3h0.75v0.75h-0.75zM47.0 336.2h0.75v0.75h-0.75zM46.7 337.3h0.75v0.75h-0.75zM50.3 338.8h0.75v0.75h-0.75zM54.3 331.6h0.75v0.75h-0.75zM51.4 333.2h0.75v0.75h-0.75zM50.9 333.6h0.75v0.75h-0.75zM48.9 335.8h0.75v0.75h-0.75zM46.9 339.4h0.75v0.75h-0.75zM49.3 336.5h0.75v0.75h-0.75zM50.5 335.6h0.75v0.75h-0.75zM48.7 338.1h0.75v0.75h-0.75zM45.2 342.6h0.75v0.75h-0.75zM48.1 334.6h0.75v0.75h-0.75zM49.9 335.1h0.75v0.75h-0.75zM49.7 332.5h0.75v0.75h-0.75zM46.2 343.9h0.75v0.75h-0.75zM51.3 333.6h0.75v0.75h-0.75zM49.9 336.3h0.75v0.75h-0.75zM52.4 337.0h0.75v0.75h-0.75zM49.6 338.2h0.75v0.75h-0.75zM53.4 333.6h0.75v0.75h-0.75zM50.8 337.6h0.75v0.75h-0.75zM44.6 340.4h0.75v0.75h-0.75zM50.6 336.8h0.75v0.75h-0.75zM45.8 339.7h0.75v0.75h-0.75zM46.5 338.0h0.75v0.75h-0.75zM46.3 335.5h0.75v0.75h-0.75zM48.9 338.9h0.75v0.75h-0.75zM51.6 335.5h0.75v0.75h-0.75zM53.8 334.2h0.75v0.75h-0.75zM50.8 332.7h0.75v0.75h-0.75zM47.6 341.7h0.75v0.75h-0.75zM48.1 337.2h0.75v0.75h-0.75zM48.7 335.3h0.75v0.75h-0.75zM50.8 335.5h0.75v0.75h-0.75zM53.1 333.1h0.75v0.75h-0.75zM48.6 335.4h0.75v0.75h-0.75zM44.1 341.5h0.75v0.75h-0.75zM53.0 332.6h0.75v0.75h-0.75zM50.8 336.2h0.75v0.75h-0.75zM43.2 340.1h0.75v0.75h-0.75zM49.4 336.7h0.75v0.75h-0.75zM47.3 335.0h0.75v0.75h-0.75zM49.9 333.0h0.75v0.75h-0.75zM50.5 334.8h0.75v0.75h-0.75zM55.1 332.4h0.75v0.75h-0.75zM48.1 331.3h0.75v0.75h-0.75zM44.6 342.5h0.75v0.75h-0.75zM55.3 329.7h0.75v0.75h-0.75zM56.0 332.5h0.75v0.75h-0.75zM49.6 330.3h0.75v0.75h-0.75zM48.9 334.7h0.75v0.75h-0.75zM47.4 336.1h0.75v0.75h-0.75zM52.4 333.8h0.75v0.75h-0.75zM52.8 332.2h0.75v0.75h-0.75zM47.4 336.5h0.75v0.75h-0.75zM49.0 333.8h0.75v0.75h-0.75zM52.2 335.1h0.75v0.75h-0.75zM46.8 339.0h0.75v0.75h-0.75zM47.0 340.2h0.75v0.75h-0.75zM47.6 343.6h0.75v0.75h-0.75zM49.2 340.8h0.75v0.75h-0.75zM52.8 337.8h0.75v0.75h-0.75zM49.2 333.7h0.75v0.75h-0.75zM52.3 332.9h0.75v0.75h-0.75zM46.9 339.3h0.75v0.75h-0.75zM51.2 336.5h0.75v0.75h-0.75zM51.1 337.8h0.75v0.75h-0.75zM47.4 343.0h0.75v0.75h-0.75zM50.0 336.0h0.75v0.75h-0.75zM50.4 333.5h0.75v0.75h-0.75zM46.7 340.0h0.75v0.75h-0.75zM50.2 339.2h0.75v0.75h-0.75zM49.5 330.8h0.75v0.75h-0.75zM47.7 335.7h0.75v0.75h-0.75zM51.0 338.4h0.75v0.75h-0.75zM50.3 336.9h0.75v0.75h-0.75zM50.7 335.9h0.75v0.75h-0.75zM48.1 338.5h0.75v0.75h-0.75zM47.1 336.4h0.75v0.75h-0.75zM48.8 337.7h0.75v0.75h-0.75zM53.0 333.3h0.75v0.75h-0.75zM49.0 335.9h0.75v0.75h-0.75zM55.1 333.3h0.75v0.75h-0.75zM56.4 326.8h0.75v0.75h-0.75zM46.9 343.9h0.75v0.75h-0.75zM51.8 334.3h0.75v0.75h-0.75zM53.0 337.0h0.75v0.75h-0.75zM50.0 339.6h0.75v0.75h-0.75zM47.3 335.8h0.75v0.75h-0.75zM45.0 335.4h0.75v0.75h-0.75zM53.4 330.1h0.75v0.75h-0.75zM46.8 339.7h0.75v0.75h-0.75zM48.6 333.6h0.75v0.75h-0.75zM46.0 338.2h0.75v0.75h-0.75zM50.2 337.5h0.75v0.75h-0.75zM53.0 329.6h0.75v0.75h-0.75zM49.1 339.8h0.75v0.75h-0.75zM48.5 340.3h0.75v0.75h-0.75zM49.3 338.9h0.75v0.75h-0.75zM48.8 335.0h0.75v0.75h-0.75zM54.1 335.0h0.75v0.75h-0.75zM49.2 336.2h0.75v0.75h-0.75zM52.4 333.5h0.75v0.75h-0.75zM50.0 339.0h0.75v0.75h-0.75zM49.3 334.7h0.75v0.75h-0.75zM48.3 336.8h0.75v0.75h-0.75zM54.5 332.9h0.75v0.75h-0.75zM51.9 337.4h0.75v0.75h-0.75zM55.5 331.0h0.75v0.75h-0.75zM50.9 333.9h0.75v0.75h-0.75zM48.6 337.8h0.75v0.75h-0.75zM51.6 335.1h0.75v0.75h-0.75zM49.0 331.8h0.75v0.75h-0.75zM48.3 340.3h0.75v0.75h-0.75zM45.3 348.5h0.75v0.75h-0.75zM46.4 339.9h0.75v0.75h-0.75zM52.5 334.5h0.75v0.75h-0.75zM50.7 331.5h0.75v0.75h-0.75zM49.2 336.3h0.75v0.75h-0.75zM51.4 337.3h0.75v0.75h-0.75zM50.5 333.9h0.75v0.75h-0.75zM46.2 339.2h0.75v0.75h-0.75zM51.1 336.4h0.75v0.75h-0.75zM50.9 334.6h0.75v0.75h-0.75zM51.9 335.5h0.75v0.75h-0.75zM52.0 331.7h0.75v0.75h-0.75zM48.5 335.5h0.75v0.75h-0.75zM47.5 339.6h0.75v0.75h-0.75zM45.3 340.8h0.75v0.75h-0.75zM47.5 341.2h0.75v0.75h-0.75zM54.4 329.6h0.75v0.75h-0.75zM51.7 334.2h0.75v0.75h-0.75zM49.0 335.6h0.75v0.75h-0.75zM50.5 334.3h0.75v0.75h-0.75zM58.0 331.6h0.75v0.75h-0.75zM49.5 339.5h0.75v0.75h-0.75zM52.5 332.5h0.75v0.75h-0.75zM49.8 337.8h0.75v0.75h-0.75zM54.8 330.7h0.75v0.75h-0.75zM52.0 335.3h0.75v0.75h-0.75zM50.4 338.1h0.75v0.75h-0.75zM48.9 331.6h0.75v0.75h-0.75zM49.3 332.7h0.75v0.75h-0.75zM51.7 336.5h0.75v0.75h-0.75zM44.8 339.6h0.75v0.75h-0.75zM55.3 330.5h0.75v0.75h-0.75zM49.1 339.3h0.75v0.75h-0.75zM48.9 336.5h0.75v0.75h-0.75zM44.6 342.0h0.75v0.75h-0.75zM52.3 335.1h0.75v0.75h-0.75zM56.9 330.8h0.75v0.75h-0.75zM49.2 338.8h0.75v0.75h-0.75zM52.2 334.4h0.75v0.75h-0.75zM47.1 338.5h0.75v0.75h-0.75zM52.6 334.5h0.75v0.75h-0.75zM50.1 339.1h0.75v0.75h-0.75zM49.6 339.5h0.75v0.75h-0.75zM47.1 338.7h0.75v0.75h-0.75zM51.0 339.8h0.75v0.75h-0.75zM51.4 333.0h0.75v0.75h-0.75zM49.0 339.7h0.75v0.75h-0.75zM52.7 337.0h0.75v0.75h-0.75zM53.5 331.1h0.75v0.75h-0.75zM47.0 336.2h0.75v0.75h-0.75zM43.0 343.1h0.75v0.75h-0.75zM57.6 324.0h0.75v0.75h-0.75zM47.4 338.7h0.75v0.75h-0.75zM50.6 335.4h0.75v0.75h-0.75zM47.0 342.5h0.75v0.75h-0.75zM52.0 333.4h0.75v0.75h-0.75zM49.0 333.6h0.75v0.75h-0.75zM53.4 332.1h0.75v0.75h-0.75zM49.1 337.6h0.75v0.75h-0.75zM51.6 334.4h0.75v0.75h-0.75zM49.0 334.9h0.75v0.75h-0.75zM48.0 338.3h0.75v0.75h-0.75zM48.0 339.1h0.75v0.75h-0.75zM49.2 334.5h0.75v0.75h-0.75zM50.9 336.8h0.75v0.75h-0.75zM48.5 332.4h0.75v0.75h-0.75zM53.1 333.0h0.75v0.75h-0.75zM46.2 338.0h0.75v0.75h-0.75zM48.8 336.9h0.75v0.75h-0.75zM52.2 336.2h0.75v0.75h-0.75zM51.2 332.4h0.75v0.75h-0.75zM49.7 335.6h0.75v0.75h-0.75zM44.4 334.8h0.75v0.75h-0.75zM49.6 339.4h0.75v0.75h-0.75zM55.3 329.9h0.75v0.75h-0.75zM52.4 329.4h0.75v0.75h-0.75zM52.4 336.7h0.75v0.75h-0.75zM48.5 330.1h0.75v0.75h-0.75zM47.5 338.7h0.75v0.75h-0.75zM50.0 336.9h0.75v0.75h-0.75zM50.9 338.5h0.75v0.75h-0.75zM54.0 340.0h0.75v0.75h-0.75zM48.5 337.1h0.75v0.75h-0.75zM48.0 337.0h0.75v0.75h-0.75zM48.0 338.2h0.75v0.75h-0.75zM57.7 330.5h0.75v0.75h-0.75zM47.5 336.0h0.75v0.75h-0.75zM46.8 339.9h0.75v0.75h-0.75zM51.7 334.9h0.75v0.75h-0.75zM53.1 337.3h0.75v0.75h-0.75zM54.1 334.6h0.75v0.75h-0.75zM54.4 329.1h0.75v0.75h-0.75zM53.0 331.1h0.75v0.75h-0.75zM55.4 327.8h0.75v0.75h-0.75zM50.9 331.2h0.75v0.75h-0.75zM49.7 339.8h0.75v0.75h-0.75zM51.7 334.7h0.75v0.75h-0.75zM55.1 331.6h0.75v0.75h-0.75zM49.1 334.0h0.75v0.75h-0.75zM47.2 332.0h0.75v0.75h-0.75zM50.8 334.1h0.75v0.75h-0.75zM45.0 339.3h0.75v0.75h-0.75zM48.5 335.6h0.75v0.75h-0.75zM52.2 334.5h0.75v0.75h-0.75zM51.0 340.5h0.75v0.75h-0.75zM45.9 341.7h0.75v0.75h-0.75zM52.4 331.4h0.75v0.75h-0.75zM50.5 335.9h0.75v0.75h-0.75zM50.7 333.4h0.75v0.75h-0.75zM52.3 336.0h0.75v0.75h-0.75zM48.5 337.6h0.75v0.75h-0.75zM52.9 334.7h0.75v0.75h-0.75zM51.6 330.3h0.75v0.75h-0.75zM50.6 335.9h0.75v0.75h-0.75zM48.7 337.5h0.75v0.75h-0.75zM53.9 331.2h0.75v0.75h-0.75zM50.5 334.4h0.75v0.75h-0.75zM51.9 332.1h0.75v0.75h-0.75zM53.2 332.6h0.75v0.75h-0.75zM45.1 342.8h0.75v0.75h-0.75zM47.2 335.2h0.75v0.75h-0.75zM48.6 336.2h0.75v0.75h-0.75zM45.7 337.4h0.75v0.75h-0.75zM46.2 338.5h0.75v0.75h-0.75zM47.8 339.0h0.75v0.75h-0.75zM50.3 333.6h0.75v0.75h-0.75zM48.3 338.3h0.75v0.75h-0.75zM47.3 339.7h0.75v0.75h-0.75zM48.1 338.0h0.75v0.75h-0.75zM50.7 333.6h0.75v0.75h-0.75zM51.4 335.1h0.75v0.75h-0.75zM49.0 336.7h0.75v0.75h-0.75zM47.9 341.2h0.75v0.75h-0.75zM42.8 342.1h0.75v0.75h-0.75zM52.6 336.3h0.75v0.75h-0.75zM49.8 335.5h0.75v0.75h-0.75zM53.5 327.7h0.75v0.75h-0.75zM52.4 332.8h0.75v0.75h-0.75zM53.1 333.3h0.75v0.75h-0.75zM48.1 332.7h0.75v0.75h-0.75zM46.7 336.1h0.75v0.75h-0.75zM50.7 334.8h0.75v0.75h-0.75zM49.7 332.9h0.75v0.75h-0.75zM46.3 336.7h0.75v0.75h-0.75zM51.9 330.4h0.75v0.75h-0.75zM49.4 335.1h0.75v0.75h-0.75zM57.0 330.2h0.75v0.75h-0.75zM53.1 332.2h0.75v0.75h-0.75zM44.6 341.1h0.75v0.75h-0.75zM51.2 328.7h0.75v0.75h-0.75zM51.1 336.9h0.75v0.75h-0.75zM49.2 333.6h0.75v0.75h-0.75zM49.2 340.9h0.75v0.75h-0.75zM54.3 332.8h0.75v0.75h-0.75zM50.3 333.5h0.75v0.75h-0.75zM51.0 336.6h0.75v0.75h-0.75zM50.3 333.1h0.75v0.75h-0.75zM56.3 327.4h0.75v0.75h-0.75zM50.1 334.0h0.75v0.75h-0.75zM53.3 329.3h0.75v0.75h-0.75zM50.5 335.9h0.75v0.75h-0.75zM49.3 336.2h0.75v0.75h-0.75zM53.4 327.8h0.75v0.75h-0.75zM48.1 336.7h0.75v0.75h-0.75zM51.3 336.5h0.75v0.75h-0.75zM55.3 333.6h0.75v0.75h-0.75zM46.1 338.6h0.75v0.75h-0.75zM53.1 331.8h0.75v0.75h-0.75zM51.0 335.2h0.75v0.75h-0.75zM50.3 339.0h0.75v0.75h-0.75zM54.2 337.0h0.75v0.75h-0.75zM50.8 336.0h0.75v0.75h-0.75zM50.9 335.5h0.75v0.75h-0.75zM55.1 330.7h0.75v0.75h-0.75zM48.4 340.4h0.75v0.75h-0.75zM47.9 340.1h0.75v0.75h-0.75zM51.5 333.4h0.75v0.75h-0.75zM51.4 335.6h0.75v0.75h-0.75zM48.0 332.8h0.75v0.75h-0.75zM52.1 338.7h0.75v0.75h-0.75zM50.4 334.6h0.75v0.75h-0.75zM49.5 339.7h0.75v0.75h-0.75zM52.0 330.9h0.75v0.75h-0.75zM49.0 340.5h0.75v0.75h-0.75zM48.5 337.4h0.75v0.75h-0.75zM50.3 334.6h0.75v0.75h-0.75zM54.0 334.9h0.75v0.75h-0.75zM48.6 335.9h0.75v0.75h-0.75zM50.0 336.8h0.75v0.75h-0.75zM48.9 337.0h0.75v0.75h-0.75zM56.4 328.6h0.75v0.75h-0.75zM48.5 338.5h0.75v0.75h-0.75zM50.4 332.4h0.75v0.75h-0.75zM50.4 337.4h0.75v0.75h-0.75zM47.4 338.8h0.75v0.75h-0.75zM48.6 336.3h0.75v0.75h-0.75zM51.2 332.7h0.75v0.75h-0.75zM58.3 325.9h0.75v0.75h-0.75zM56.5 326.2h0.75v0.75h-0.75zM54.2 329.7h0.75v0.75h-0.75zM58.9 324.8h0.75v0.75h-0.75zM54.5 333.8h0.75v0.75h-0.75zM58.3 328.8h0.75v0.75h-0.75zM56.2 325.2h0.75v0.75h-0.75zM58.4 331.9h0.75v0.75h-0.75zM58.5 326.3h0.75v0.75h-0.75zM62.8 321.8h0.75v0.75h-0.75zM63.3 326.2h0.75v0.75h-0.75zM60.6 325.5h0.75v0.75h-0.75zM47.9 336.9h0.75v0.75h-0.75zM56.1 326.4h0.75v0.75h-0.75zM57.4 328.4h0.75v0.75h-0.75zM50.1 332.7h0.75v0.75h-0.75zM59.9 323.3h0.75v0.75h-0.75zM51.7 331.9h0.75v0.75h-0.75zM56.7 331.6h0.75v0.75h-0.75zM57.8 330.4h0.75v0.75h-0.75zM60.1 324.1h0.75v0.75h-0.75zM52.8 326.2h0.75v0.75h-0.75zM54.3 329.4h0.75v0.75h-0.75zM53.9 329.8h0.75v0.75h-0.75zM55.7 328.0h0.75v0.75h-0.75zM64.9 325.0h0.75v0.75h-0.75zM58.6 325.7h0.75v0.75h-0.75zM66.0 320.8h0.75v0.75h-0.75zM52.9 334.4h0.75v0.75h-0.75zM62.1 325.7h0.75v0.75h-0.75zM54.2 327.5h0.75v0.75h-0.75zM58.7 324.2h0.75v0.75h-0.75zM55.6 330.2h0.75v0.75h-0.75zM57.0 326.8h0.75v0.75h-0.75zM58.2 325.4h0.75v0.75h-0.75zM60.4 327.6h0.75v0.75h-0.75zM57.4 331.1h0.75v0.75h-0.75zM57.7 327.5h0.75v0.75h-0.75zM58.9 325.3h0.75v0.75h-0.75zM55.3 333.2h0.75v0.75h-0.75zM56.5 327.4h0.75v0.75h-0.75zM59.2 329.0h0.75v0.75h-0.75zM60.4 326.2h0.75v0.75h-0.75zM57.5 326.6h0.75v0.75h-0.75zM56.3 329.2h0.75v0.75h-0.75zM55.4 325.7h0.75v0.75h-0.75zM57.1 326.3h0.75v0.75h-0.75zM51.2 331.7h0.75v0.75h-0.75zM55.8 325.8h0.75v0.75h-0.75zM50.8 327.9h0.75v0.75h-0.75zM55.4 328.1h0.75v0.75h-0.75zM54.7 336.6h0.75v0.75h-0.75zM56.6 320.3h0.75v0.75h-0.75zM47.7 345.0h0.75v0.75h-0.75zM47.6 345.3h0.75v0.75h-0.75zM56.5 343.3h0.75v0.75h-0.75zM46.3 343.7h0.75v0.75h-0.75zM57.7 343.3h0.75v0.75h-0.75z" fill="#000" fill-opacity="0.4"/>
<path d="M51.0 334.9h0.75v0.75h-0.75zM50.6 334.6h0.75v0.75h-0.75zM48.3 339.8h0.75v0.75h-0.75zM48.6 336.5h0.75v0.75h-0.75zM50.2 331.7h0.75v0.75h-0.75zM49.6 333.5h0.75v0.75h-0.75zM47.7 338.9h0.75v0.75h-0.75zM43.4 345.6h0.75v0.75h-0.75zM51.7 337.2h0.75v0.75h-0.75zM47.4 338.6h0.75v0.75h-0.75zM46.6 340.0h0.75v0.75h-0.75zM49.1 331.9h0.75v0.75h-0.75zM54.2 332.5h0.75v0.75h-0.75zM50.5 338.2h0.75v0.75h-0.75zM45.2 339.6h0.75v0.75h-0.75zM55.3 336.3h0.75v0.75h-0.75zM52.6 333.0h0.75v0.75h-0.75zM50.5 335.6h0.75v0.75h-0.75zM47.9 335.6h0.75v0.75h-0.75zM51.1 337.8h0.75v0.75h-0.75zM50.2 337.4h0.75v0.75h-0.75zM52.9 336.5h0.75v0.75h-0.75zM50.2 337.8h0.75v0.75h-0.75zM55.9 329.9h0.75v0.75h-0.75zM52.5 333.4h0.75v0.75h-0.75zM49.3 335.9h0.75v0.75h-0.75zM52.8 336.7h0.75v0.75h-0.75zM54.3 332.1h0.75v0.75h-0.75zM53.8 326.1h0.75v0.75h-0.75zM51.9 336.9h0.75v0.75h-0.75zM52.0 331.9h0.75v0.75h-0.75zM46.5 339.1h0.75v0.75h-0.75zM51.6 338.7h0.75v0.75h-0.75zM47.4 331.1h0.75v0.75h-0.75zM50.6 334.6h0.75v0.75h-0.75zM49.4 337.6h0.75v0.75h-0.75zM50.6 332.3h0.75v0.75h-0.75zM50.1 337.1h0.75v0.75h-0.75zM47.2 339.4h0.75v0.75h-0.75zM48.6 340.0h0.75v0.75h-0.75zM54.5 333.6h0.75v0.75h-0.75zM51.1 329.2h0.75v0.75h-0.75zM46.7 336.5h0.75v0.75h-0.75zM52.8 338.5h0.75v0.75h-0.75zM52.4 331.9h0.75v0.75h-0.75zM47.5 337.9h0.75v0.75h-0.75zM46.6 338.0h0.75v0.75h-0.75zM48.9 332.2h0.75v0.75h-0.75zM55.3 331.5h0.75v0.75h-0.75zM47.9 337.9h0.75v0.75h-0.75zM49.0 333.0h0.75v0.75h-0.75zM50.2 332.5h0.75v0.75h-0.75zM47.0 337.9h0.75v0.75h-0.75zM52.1 329.8h0.75v0.75h-0.75zM53.2 329.1h0.75v0.75h-0.75zM48.7 337.3h0.75v0.75h-0.75zM49.8 335.7h0.75v0.75h-0.75zM51.0 332.9h0.75v0.75h-0.75zM46.8 335.3h0.75v0.75h-0.75zM54.9 336.3h0.75v0.75h-0.75zM49.8 334.4h0.75v0.75h-0.75zM48.9 337.3h0.75v0.75h-0.75zM53.1 333.3h0.75v0.75h-0.75zM46.6 335.7h0.75v0.75h-0.75zM48.0 339.0h0.75v0.75h-0.75zM44.2 340.8h0.75v0.75h-0.75zM48.0 342.6h0.75v0.75h-0.75zM53.3 333.6h0.75v0.75h-0.75zM51.0 334.9h0.75v0.75h-0.75zM48.4 336.6h0.75v0.75h-0.75zM50.0 338.5h0.75v0.75h-0.75zM54.1 338.2h0.75v0.75h-0.75zM48.5 344.6h0.75v0.75h-0.75zM49.2 337.0h0.75v0.75h-0.75zM49.4 331.3h0.75v0.75h-0.75zM49.0 336.7h0.75v0.75h-0.75zM50.3 333.4h0.75v0.75h-0.75zM48.1 336.6h0.75v0.75h-0.75zM50.4 337.7h0.75v0.75h-0.75zM52.9 329.0h0.75v0.75h-0.75zM52.8 330.2h0.75v0.75h-0.75zM51.1 333.3h0.75v0.75h-0.75zM47.0 337.6h0.75v0.75h-0.75zM50.7 331.0h0.75v0.75h-0.75zM53.5 328.9h0.75v0.75h-0.75zM48.0 339.2h0.75v0.75h-0.75zM50.1 335.5h0.75v0.75h-0.75zM47.1 339.7h0.75v0.75h-0.75zM42.8 344.0h0.75v0.75h-0.75zM51.9 330.4h0.75v0.75h-0.75zM48.3 338.8h0.75v0.75h-0.75zM48.0 337.6h0.75v0.75h-0.75zM48.1 335.3h0.75v0.75h-0.75zM44.9 344.5h0.75v0.75h-0.75zM49.8 342.3h0.75v0.75h-0.75zM46.4 342.0h0.75v0.75h-0.75zM50.9 333.8h0.75v0.75h-0.75zM52.2 332.5h0.75v0.75h-0.75zM53.7 330.2h0.75v0.75h-0.75zM51.9 337.8h0.75v0.75h-0.75zM52.9 334.1h0.75v0.75h-0.75zM55.0 334.2h0.75v0.75h-0.75zM50.7 338.2h0.75v0.75h-0.75zM48.7 335.9h0.75v0.75h-0.75zM52.3 333.7h0.75v0.75h-0.75zM52.7 337.2h0.75v0.75h-0.75zM51.7 333.7h0.75v0.75h-0.75zM52.0 332.1h0.75v0.75h-0.75zM46.9 339.8h0.75v0.75h-0.75zM52.3 335.7h0.75v0.75h-0.75zM47.1 337.0h0.75v0.75h-0.75zM51.0 333.5h0.75v0.75h-0.75zM49.4 339.0h0.75v0.75h-0.75zM52.3 330.4h0.75v0.75h-0.75zM48.6 340.3h0.75v0.75h-0.75zM48.0 338.8h0.75v0.75h-0.75zM52.3 336.4h0.75v0.75h-0.75zM54.4 329.3h0.75v0.75h-0.75zM49.4 336.7h0.75v0.75h-0.75zM55.8 328.2h0.75v0.75h-0.75zM49.3 333.6h0.75v0.75h-0.75zM53.2 328.6h0.75v0.75h-0.75zM49.8 333.9h0.75v0.75h-0.75zM51.9 331.1h0.75v0.75h-0.75zM47.9 332.0h0.75v0.75h-0.75zM47.1 335.8h0.75v0.75h-0.75zM47.3 337.2h0.75v0.75h-0.75zM53.9 329.8h0.75v0.75h-0.75zM54.1 335.2h0.75v0.75h-0.75zM52.3 334.4h0.75v0.75h-0.75zM48.5 337.7h0.75v0.75h-0.75zM50.0 334.9h0.75v0.75h-0.75zM49.6 338.2h0.75v0.75h-0.75zM55.5 330.8h0.75v0.75h-0.75zM55.5 329.9h0.75v0.75h-0.75zM52.7 335.5h0.75v0.75h-0.75zM50.4 335.6h0.75v0.75h-0.75zM44.9 337.4h0.75v0.75h-0.75zM53.7 333.3h0.75v0.75h-0.75zM49.6 335.7h0.75v0.75h-0.75zM49.4 341.7h0.75v0.75h-0.75zM51.3 332.6h0.75v0.75h-0.75zM47.7 336.9h0.75v0.75h-0.75zM50.5 336.8h0.75v0.75h-0.75zM49.3 333.1h0.75v0.75h-0.75zM47.1 338.5h0.75v0.75h-0.75zM54.4 335.8h0.75v0.75h-0.75zM51.3 334.3h0.75v0.75h-0.75zM55.9 333.4h0.75v0.75h-0.75zM49.0 334.9h0.75v0.75h-0.75zM48.6 339.0h0.75v0.75h-0.75zM51.0 332.2h0.75v0.75h-0.75zM57.3 327.7h0.75v0.75h-0.75zM52.0 336.8h0.75v0.75h-0.75zM48.1 339.0h0.75v0.75h-0.75zM49.8 336.3h0.75v0.75h-0.75zM53.2 332.6h0.75v0.75h-0.75zM47.3 336.3h0.75v0.75h-0.75zM48.2 337.2h0.75v0.75h-0.75zM52.6 329.9h0.75v0.75h-0.75zM49.0 334.8h0.75v0.75h-0.75zM53.6 330.3h0.75v0.75h-0.75zM48.9 334.0h0.75v0.75h-0.75zM55.2 335.0h0.75v0.75h-0.75zM47.2 333.8h0.75v0.75h-0.75zM51.1 331.7h0.75v0.75h-0.75zM53.5 332.5h0.75v0.75h-0.75zM53.6 332.8h0.75v0.75h-0.75zM50.4 334.4h0.75v0.75h-0.75zM48.2 337.8h0.75v0.75h-0.75zM51.9 333.3h0.75v0.75h-0.75zM55.2 332.8h0.75v0.75h-0.75zM52.1 334.2h0.75v0.75h-0.75zM50.7 335.7h0.75v0.75h-0.75zM49.4 339.0h0.75v0.75h-0.75zM51.4 331.4h0.75v0.75h-0.75zM51.6 333.7h0.75v0.75h-0.75zM54.1 331.8h0.75v0.75h-0.75zM53.0 328.6h0.75v0.75h-0.75zM52.7 331.1h0.75v0.75h-0.75zM52.4 332.9h0.75v0.75h-0.75zM56.8 328.1h0.75v0.75h-0.75zM50.8 338.2h0.75v0.75h-0.75zM47.9 338.8h0.75v0.75h-0.75zM52.9 332.6h0.75v0.75h-0.75zM50.4 331.5h0.75v0.75h-0.75zM51.3 334.9h0.75v0.75h-0.75zM49.8 336.9h0.75v0.75h-0.75zM51.5 336.4h0.75v0.75h-0.75zM49.7 339.8h0.75v0.75h-0.75zM44.7 341.3h0.75v0.75h-0.75zM53.5 331.7h0.75v0.75h-0.75zM45.8 340.3h0.75v0.75h-0.75zM50.5 336.4h0.75v0.75h-0.75zM53.0 334.6h0.75v0.75h-0.75zM52.4 334.0h0.75v0.75h-0.75zM47.8 340.2h0.75v0.75h-0.75zM51.4 333.7h0.75v0.75h-0.75zM54.7 330.6h0.75v0.75h-0.75zM52.7 331.5h0.75v0.75h-0.75zM50.1 334.8h0.75v0.75h-0.75zM52.1 331.4h0.75v0.75h-0.75zM57.2 331.7h0.75v0.75h-0.75zM51.9 333.7h0.75v0.75h-0.75zM47.9 337.8h0.75v0.75h-0.75zM49.9 329.5h0.75v0.75h-0.75zM48.4 337.8h0.75v0.75h-0.75zM51.9 332.1h0.75v0.75h-0.75zM48.6 340.8h0.75v0.75h-0.75zM51.0 335.6h0.75v0.75h-0.75zM53.4 333.9h0.75v0.75h-0.75zM55.4 326.7h0.75v0.75h-0.75zM52.7 334.0h0.75v0.75h-0.75zM45.1 343.7h0.75v0.75h-0.75zM53.4 332.2h0.75v0.75h-0.75zM50.1 334.0h0.75v0.75h-0.75zM46.6 340.4h0.75v0.75h-0.75zM51.0 335.5h0.75v0.75h-0.75zM50.3 335.2h0.75v0.75h-0.75zM49.4 336.3h0.75v0.75h-0.75zM49.4 337.6h0.75v0.75h-0.75zM48.5 339.6h0.75v0.75h-0.75zM51.9 331.2h0.75v0.75h-0.75zM56.3 330.7h0.75v0.75h-0.75zM46.7 339.0h0.75v0.75h-0.75zM50.9 341.9h0.75v0.75h-0.75zM46.7 340.6h0.75v0.75h-0.75zM51.9 333.8h0.75v0.75h-0.75zM59.9 327.8h0.75v0.75h-0.75zM45.7 341.1h0.75v0.75h-0.75zM54.5 332.3h0.75v0.75h-0.75zM48.8 335.9h0.75v0.75h-0.75zM50.5 334.2h0.75v0.75h-0.75zM53.0 338.5h0.75v0.75h-0.75zM54.1 330.8h0.75v0.75h-0.75zM54.4 336.7h0.75v0.75h-0.75zM54.5 332.2h0.75v0.75h-0.75zM49.3 332.5h0.75v0.75h-0.75zM51.7 330.3h0.75v0.75h-0.75zM44.4 340.6h0.75v0.75h-0.75zM51.3 338.1h0.75v0.75h-0.75zM54.3 333.5h0.75v0.75h-0.75zM49.2 334.7h0.75v0.75h-0.75zM45.8 342.4h0.75v0.75h-0.75zM47.8 337.5h0.75v0.75h-0.75zM50.5 333.7h0.75v0.75h-0.75zM54.7 328.7h0.75v0.75h-0.75zM52.2 334.7h0.75v0.75h-0.75zM50.8 335.5h0.75v0.75h-0.75zM49.6 337.0h0.75v0.75h-0.75zM48.5 337.6h0.75v0.75h-0.75zM54.6 329.4h0.75v0.75h-0.75zM55.0 334.8h0.75v0.75h-0.75zM50.4 329.0h0.75v0.75h-0.75zM52.3 332.7h0.75v0.75h-0.75zM48.1 342.8h0.75v0.75h-0.75zM45.0 340.1h0.75v0.75h-0.75zM53.7 335.0h0.75v0.75h-0.75zM53.5 332.6h0.75v0.75h-0.75zM49.0 337.8h0.75v0.75h-0.75zM50.2 338.5h0.75v0.75h-0.75zM53.3 330.8h0.75v0.75h-0.75zM49.3 336.4h0.75v0.75h-0.75zM48.4 336.1h0.75v0.75h-0.75zM48.0 339.1h0.75v0.75h-0.75zM49.3 335.1h0.75v0.75h-0.75zM46.7 339.3h0.75v0.75h-0.75zM55.5 328.5h0.75v0.75h-0.75zM52.0 332.9h0.75v0.75h-0.75zM52.8 330.0h0.75v0.75h-0.75zM50.2 341.6h0.75v0.75h-0.75zM48.8 337.7h0.75v0.75h-0.75zM49.8 339.2h0.75v0.75h-0.75zM54.6 329.1h0.75v0.75h-0.75zM46.3 340.0h0.75v0.75h-0.75zM52.5 328.5h0.75v0.75h-0.75zM48.5 335.0h0.75v0.75h-0.75zM42.9 342.8h0.75v0.75h-0.75zM52.4 329.9h0.75v0.75h-0.75zM53.0 332.9h0.75v0.75h-0.75zM54.1 331.9h0.75v0.75h-0.75zM48.4 335.2h0.75v0.75h-0.75zM52.8 336.7h0.75v0.75h-0.75zM52.2 330.1h0.75v0.75h-0.75zM55.3 329.9h0.75v0.75h-0.75zM52.6 329.4h0.75v0.75h-0.75zM45.2 339.4h0.75v0.75h-0.75zM48.0 343.5h0.75v0.75h-0.75zM46.8 340.6h0.75v0.75h-0.75zM48.2 336.8h0.75v0.75h-0.75zM46.7 341.9h0.75v0.75h-0.75zM50.1 334.4h0.75v0.75h-0.75zM50.6 333.6h0.75v0.75h-0.75zM50.2 334.8h0.75v0.75h-0.75zM54.2 326.7h0.75v0.75h-0.75zM52.4 327.7h0.75v0.75h-0.75zM54.7 335.6h0.75v0.75h-0.75zM48.1 340.6h0.75v0.75h-0.75zM49.9 341.2h0.75v0.75h-0.75zM49.5 337.5h0.75v0.75h-0.75zM48.4 334.4h0.75v0.75h-0.75zM49.3 332.4h0.75v0.75h-0.75zM55.0 326.9h0.75v0.75h-0.75zM51.2 336.9h0.75v0.75h-0.75zM43.5 341.4h0.75v0.75h-0.75zM53.7 333.8h0.75v0.75h-0.75zM48.6 336.3h0.75v0.75h-0.75zM52.7 334.0h0.75v0.75h-0.75zM49.8 333.7h0.75v0.75h-0.75zM53.8 331.2h0.75v0.75h-0.75zM50.7 335.2h0.75v0.75h-0.75zM54.7 333.8h0.75v0.75h-0.75zM47.9 343.9h0.75v0.75h-0.75zM48.8 337.9h0.75v0.75h-0.75zM52.9 331.3h0.75v0.75h-0.75zM45.7 338.8h0.75v0.75h-0.75zM50.1 336.0h0.75v0.75h-0.75zM47.0 336.4h0.75v0.75h-0.75zM54.2 328.5h0.75v0.75h-0.75zM50.8 331.2h0.75v0.75h-0.75zM47.8 337.1h0.75v0.75h-0.75zM50.4 336.9h0.75v0.75h-0.75zM45.9 334.9h0.75v0.75h-0.75zM49.0 337.6h0.75v0.75h-0.75zM50.3 335.7h0.75v0.75h-0.75zM48.8 337.9h0.75v0.75h-0.75zM49.3 335.5h0.75v0.75h-0.75zM51.1 335.6h0.75v0.75h-0.75zM46.6 340.8h0.75v0.75h-0.75zM50.9 338.9h0.75v0.75h-0.75zM48.4 337.1h0.75v0.75h-0.75zM53.3 334.9h0.75v0.75h-0.75zM48.7 337.6h0.75v0.75h-0.75zM51.7 330.1h0.75v0.75h-0.75zM54.9 328.3h0.75v0.75h-0.75zM53.0 335.5h0.75v0.75h-0.75zM52.2 333.5h0.75v0.75h-0.75zM53.6 332.9h0.75v0.75h-0.75zM52.4 330.6h0.75v0.75h-0.75zM50.3 334.8h0.75v0.75h-0.75zM55.2 329.1h0.75v0.75h-0.75zM63.0 329.1h0.75v0.75h-0.75zM57.9 325.7h0.75v0.75h-0.75zM52.8 330.7h0.75v0.75h-0.75zM58.6 325.9h0.75v0.75h-0.75zM55.0 328.5h0.75v0.75h-0.75zM55.1 335.4h0.75v0.75h-0.75zM61.1 319.4h0.75v0.75h-0.75zM53.1 331.1h0.75v0.75h-0.75zM55.5 324.8h0.75v0.75h-0.75zM49.1 332.8h0.75v0.75h-0.75zM57.3 326.3h0.75v0.75h-0.75zM53.3 326.7h0.75v0.75h-0.75zM59.0 325.8h0.75v0.75h-0.75zM52.7 326.7h0.75v0.75h-0.75zM58.3 325.0h0.75v0.75h-0.75zM54.1 327.4h0.75v0.75h-0.75zM60.1 324.7h0.75v0.75h-0.75zM64.2 323.5h0.75v0.75h-0.75zM54.7 328.0h0.75v0.75h-0.75zM60.6 322.7h0.75v0.75h-0.75zM53.3 325.0h0.75v0.75h-0.75zM54.2 329.7h0.75v0.75h-0.75zM57.7 328.8h0.75v0.75h-0.75zM55.6 332.6h0.75v0.75h-0.75zM53.7 328.8h0.75v0.75h-0.75zM51.6 328.9h0.75v0.75h-0.75zM57.1 332.6h0.75v0.75h-0.75zM53.8 326.7h0.75v0.75h-0.75zM55.2 327.3h0.75v0.75h-0.75zM55.1 328.1h0.75v0.75h-0.75zM55.7 329.8h0.75v0.75h-0.75zM58.6 325.1h0.75v0.75h-0.75zM58.8 325.9h0.75v0.75h-0.75zM59.5 324.3h0.75v0.75h-0.75zM61.2 327.3h0.75v0.75h-0.75zM53.7 333.8h0.75v0.75h-0.75zM53.3 327.7h0.75v0.75h-0.75zM53.8 328.6h0.75v0.75h-0.75zM63.3 318.1h0.75v0.75h-0.75zM57.2 327.9h0.75v0.75h-0.75zM49.7 330.5h0.75v0.75h-0.75zM57.0 324.9h0.75v0.75h-0.75zM50.3 333.1h0.75v0.75h-0.75zM54.9 332.2h0.75v0.75h-0.75zM55.3 326.8h0.75v0.75h-0.75zM54.5 330.0h0.75v0.75h-0.75zM58.1 329.5h0.75v0.75h-0.75zM53.7 327.9h0.75v0.75h-0.75zM59.5 327.5h0.75v0.75h-0.75zM53.5 330.8h0.75v0.75h-0.75zM57.3 327.2h0.75v0.75h-0.75zM60.7 327.5h0.75v0.75h-0.75zM43.8 336.0h0.75v0.75h-0.75zM56.9 326.7h0.75v0.75h-0.75zM59.7 318.2h0.75v0.75h-0.75zM46.9 342.7h0.75v0.75h-0.75zM48.6 327.7h0.75v0.75h-0.75zM47.1 340.7h0.75v0.75h-0.75z" fill="#000" fill-opacity="0.4"/>
<rect x="97.5" y="312.5" width="61.0" height="59.0" fill="#fff" stroke="#111" stroke-width="1.0"/>
<line x1="117.50" y1="312.50" x2="117.50" y2="371.50" stroke="#333" stroke-width="0.6" stroke-dasharray="0.6,0.6"/>
<line x1="97.50" y1="347.50" x2="158.50" y2="347.50" stroke="#333" stroke-width="0.6" stroke-dasharray="0.6,0.6"/>
<line x1="95.50" y1="371.50" x2="97.50" y2="371.50" stroke="#333" stroke-width="0.5" />
<line x1="97.50" y1="371.50" x2="97.50" y2="373.50" stroke="#333" stroke-width="0.5" />
<line x1="96.20" y1="367.44" x2="97.50" y2="367.44" stroke="#333" stroke-width="0.5" />
<line x1="101.56" y1="371.50" x2="101.56" y2="372.80" stroke="#333" stroke-width="0.5" />
<line x1="96.20" y1="365.06" x2="97.50" y2="365.06" stroke="#333" stroke-width="0.5" />
<line x1="103.94" y1="371.50" x2="103.94" y2="372.80" stroke="#333" stroke-width="0.5" />
<line x1="96.20" y1="363.37" x2="97.50" y2="363.37" stroke="#333" stroke-width="0.5" />
<line x1="105.63" y1="371.50" x2="105.63" y2="372.80" stroke="#333" stroke-width="0.5" />
<line x1="96.20" y1="362.06" x2="97.50" y2="362.06" stroke="#333" stroke-width="0.5" />
<line x1="106.94" y1="371.50" x2="106.94" y2="372.80" stroke="#333" stroke-width="0.5" />
<line x1="96.20" y1="360.99" x2="97.50" y2="360.99" stroke="#333" stroke-width="0.5" />
<line x1="108.01" y1="371.50" x2="108.01" y2="372.80" stroke="#333" stroke-width="0.5" />
<line x1="96.20" y1="360.09" x2="97.50" y2="360.09" stroke="#333" stroke-width="0.5" />
<line x1="108.91" y1="371.50" x2="108.91" y2="372.80" stroke="#333" stroke-width="0.5" />
<line x1="96.20" y1="359.31" x2="97.50" y2="359.31" stroke="#333" stroke-width="0.5" />
<line x1="109.69" y1="371.50" x2="109.69" y2="372.80" stroke="#333" stroke-width="0.5" />
<line x1="96.20" y1="358.62" x2="97.50" y2="358.62" stroke="#333" stroke-width="0.5" />
<line x1="110.38" y1="371.50" x2="110.38" y2="372.80" stroke="#333" stroke-width="0.5" />
<line x1="95.50" y1="358.00" x2="97.50" y2="358.00" stroke="#333" stroke-width="0.5" />
<line x1="111.00" y1="371.50" x2="111.00" y2="373.50" stroke="#333" stroke-width="0.5" />
<line x1="96.20" y1="353.94" x2="97.50" y2="353.94" stroke="#333" stroke-width="0.5" />
<line x1="115.06" y1="371.50" x2="115.06" y2="372.80" stroke="#333" stroke-width="0.5" />
<line x1="96.20" y1="351.56" x2="97.50" y2="351.56" stroke="#333" stroke-width="0.5" />
<line x1="117.44" y1="371.50" x2="117.44" y2="372.80" stroke="#333" stroke-width="0.5" />
<line x1="96.20" y1="349.87" x2="97.50" y2="349.87" stroke="#333" stroke-width="0.5" />
<line x1="119.13" y1="371.50" x2="119.13" y2="372.80" stroke="#333" stroke-width="0.5" />
<line x1="96.20" y1="348.56" x2="97.50" y2="348.56" stroke="#333" stroke-width="0.5" />
<line x1="120.44" y1="371.50" x2="120.44" y2="372.80" stroke="#333" stroke-width="0.5" />
<line x1="96.20" y1="347.49" x2="97.50" y2="347.49" stroke="#333" stroke-width="0.5" />
<line x1="121.51" y1="371.50" x2="121.51" y2="372.80" stroke="#333" stroke-width="0.5" />
<line x1="96.20" y1="346.59" x2="97.50" y2="346.59" stroke="#333" stroke-width="0.5" />
<line x1="122.41" y1="371.50" x2="122.41" y2="372.80" stroke="#333" stroke-width="0.5" />
<line x1="96.20" y1="345.81" x2="97.50" y2="345.81" stroke="#333" stroke-width="0.5" />
<line x1="123.19" y1="371.50" x2="123.19" y2="372.80" stroke="#333" stroke-width="0.5" />
<line x1="96.20" y1="345.12" x2="97.50" y2="345.12" stroke="#333" stroke-width="0.5" />
<line x1="123.88" y1="371.50" x2="123.88" y2="372.80" stroke="#333" stroke-width="0.5" />
<line x1="95.50" y1="344.50" x2="97.50" y2="344.50" stroke="#333" stroke-width="0.5" />
<line x1="124.50" y1="371.50" x2="124.50" y2="373.50" stroke="#333" stroke-width="0.5" />
<line x1="96.20" y1="340.44" x2="97.50" y2="340.44" stroke="#333" stroke-width="0.5" />
<line x1="128.56" y1="371.50" x2="128.56" y2="372.80" stroke="#333" stroke-width="0.5" />
<line x1="96.20" y1="338.06" x2="97.50" y2="338.06" stroke="#333" stroke-width="0.5" />
<line x1="130.94" y1="371.50" x2="130.94" y2="372.80" stroke="#333" stroke-width="0.5" />
<line x1="96.20" y1="336.37" x2="97.50" y2="336.37" stroke="#333" stroke-width="0.5" />
<line x1="132.63" y1="371.50" x2="132.63" y2="372.80" stroke="#333" stroke-width="0.5" />
<line x1="96.20" y1="335.06" x2="97.50" y2="335.06" stroke="#333" stroke-width="0.5" />
<line x1="133.94" y1="371.50" x2="133.94" y2="372.80" stroke="#333" stroke-width="0.5" />
<line x1="96.20" y1="333.99" x2="97.50" y2="333.99" stroke="#333" stroke-width="0.5" />
<line x1="135.01" y1="371.50" x2="135.01" y2="372.80" stroke="#333" stroke-width="0.5" />
<line x1="96.20" y1="333.09" x2="97.50" y2="333.09" stroke="#333" stroke-width="0.5" />
<line x1="135.91" y1="371.50" x2="135.91" y2="372.80" stroke="#333" stroke-width="0.5" />
<line x1="96.20" y1="332.31" x2="97.50" y2="332.31" stroke="#333" stroke-width="0.5" />
<line x1="136.69" y1="371.50" x2="136.69" y2="372.80" stroke="#333" stroke-width="0.5" />
<line x1="96.20" y1="331.62" x2="97.50" y2="331.62" stroke="#333" stroke-width="0.5" />
<line x1="137.38" y1="371.50" x2="137.38" y2="372.80" stroke="#333" stroke-width="0.5" />
<line x1="95.50" y1="331.00" x2="97.50" y2="331.00" stroke="#333" stroke-width="0.5" />
<line x1="138.00" y1="371.50" x2="138.00" y2="373.50" stroke="#333" stroke-width="0.5" />
<line x1="96.20" y1="326.94" x2="97.50" y2="326.94" stroke="#333" stroke-width="0.5" />
<line x1="142.06" y1="371.50" x2="142.06" y2="372.80" stroke="#333" stroke-width="0.5" />
<line x1="96.20" y1="324.56" x2="97.50" y2="324.56" stroke="#333" stroke-width="0.5" />
<line x1="144.44" y1="371.50" x2="144.44" y2="372.80" stroke="#333" stroke-width="0.5" />
<line x1="96.20" y1="322.87" x2="97.50" y2="322.87" stroke="#333" stroke-width="0.5" />
<line x1="146.13" y1="371.50" x2="146.13" y2="372.80" stroke="#333" stroke-width="0.5" />
<line x1="96.20" y1="321.56" x2="97.50" y2="321.56" stroke="#333" stroke-width="0.5" />
<line x1="147.44" y1="371.50" x2="147.44" y2="372.80" stroke="#333" stroke-width="0.5" />
<line x1="96.20" y1="320.49" x2="97.50" y2="320.49" stroke="#333" stroke-width="0.5" />
<line x1="148.51" y1="371.50" x2="148.51" y2="372.80" stroke="#333" stroke-width="0.5" />
<line x1="96.20" y1="319.59" x2="97.50" y2="319.59" stroke="#333" stroke-width="0.5" />
<line x1="149.41" y1="371.50" x2="149.41" y2="372.80" stroke="#333" stroke-width="0.5" />
<line x1="96.20" y1="318.81" x2="97.50" y2="318.81" stroke="#333" stroke-width="0.5" />
<line x1="150.19" y1="371.50" x2="150.19" y2="372.80" stroke="#333" stroke-width="0.5" />
<line x1="96.20" y1="318.12" x2="97.50" y2="318.12" stroke="#333" stroke-width="0.5" />
<line x1="150.88" y1="371.50" x2="150.88" y2="372.80" stroke="#333" stroke-width="0.5" />
<line x1="95.50" y1="317.50" x2="97.50" y2="317.50" stroke="#333" stroke-width="0.5" />
<line x1="151.50" y1="371.50" x2="151.50" y2="373.50" stroke="#333" stroke-width="0.5" />
<line x1="96.20" y1="313.44" x2="97.50" y2="313.44" stroke="#333" stroke-width="0.5" />
<line x1="155.56" y1="371.50" x2="155.56" y2="372.80" stroke="#333" stroke-width="0.5" />
<line x1="157.94" y1="371.50" x2="157.94" y2="372.80" stroke="#333" stroke-width="0.5" />
<text x="157.30" y="317.90" font-size="5.2" text-anchor="end" fill="#333" >99%</text>
<text x="157.30" y="337.50" font-size="5.2" text-anchor="end" fill="#333" >MFI=</text>
<text x="156.80" y="343.70" font-size="5.2" text-anchor="end" fill="#333" >8421</text>
<path d="M131.3 325.9h0.75v0.75h-0.75zM125.0 336.5h0.75v0.75h-0.75zM127.2 334.1h0.75v0.75h-0.75zM126.7 336.2h0.75v0.75h-0.75zM124.5 332.7h0.75v0.75h-0.75zM121.3 343.1h0.75v0.75h-0.75zM124.5 334.5h0.75v0.75h-0.75zM129.6 329.1h0.75v0.75h-0.75zM125.5 335.6h0.75v0.75h-0.75zM130.2 335.8h0.75v0.75h-0.75zM129.1 331.8h0.75v0.75h-0.75zM126.4 333.6h0.75v0.75h-0.75zM122.1 338.3h0.75v0.75h-0.75zM127.4 330.2h0.75v0.75h-0.75zM123.8 337.5h0.75v0.75h-0.75zM127.5 334.4h0.75v0.75h-0.75zM128.4 335.5h0.75v0.75h-0.75zM127.3 333.9h0.75v0.75h-0.75zM123.7 338.7h0.75v0.75h-0.75zM125.7 335.8h0.75v0.75h-0.75zM124.3 336.7h0.75v0.75h-0.75zM129.4 331.1h0.75v0.75h-0.75zM131.3 330.3h0.75v0.75h-0.75zM132.0 329.7h0.75v0.75h-0.75zM126.2 338.2h0.75v0.75h-0.75zM127.1 336.3h0.75v0.75h-0.75zM125.3 345.2h0.75v0.75h-0.75zM127.1 336.3h0.75v0.75h-0.75zM130.0 332.0h0.75v0.75h-0.75zM125.0 336.4h0.75v0.75h-0.75zM122.0 334.8h0.75v0.75h-0.75zM129.1 335.4h0.75v0.75h-0.75zM121.9 337.3h0.75v0.75h-0.75zM125.8 334.0h0.75v0.75h-0.75zM123.5 338.1h0.75v0.75h-0.75zM123.2 340.4h0.75v0.75h-0.75zM125.7 333.2h0.75v0.75h-0.75zM129.8 330.4h0.75v0.75h-0.75zM123.8 339.4h0.75v0.75h-0.75zM126.6 333.7h0.75v0.75h-0.75zM125.2 337.6h0.75v0.75h-0.75zM125.4 337.1h0.75v0.75h-0.75zM128.6 333.2h0.75v0.75h-0.75zM124.5 341.3h0.75v0.75h-0.75zM128.0 327.6h0.75v0.75h-0.75zM128.4 331.5h0.75v0.75h-0.75zM129.5 327.5h0.75v0.75h-0.75zM128.8 333.8h0.75v0.75h-0.75zM127.7 335.5h0.75v0.75h-0.75zM126.1 334.1h0.75v0.75h-0.75zM123.6 340.0h0.75v0.75h-0.75zM124.6 338.7h0.75v0.75h-0.75zM129.0 332.6h0.75v0.75h-0.75zM129.7 329.6h0.75v0.75h-0.75zM131.3 334.4h0.75v0.75h-0.75zM128.5 333.4h0.75v0.75h-0.75zM127.4 332.8h0.75v0.75h-0.75zM124.7 341.0h0.75v0.75h-0.75zM123.5 335.2h0.75v0.75h-0.75zM124.3 335.1h0.75v0.75h-0.75zM123.3 336.9h0.75v0.75h-0.75zM124.9 335.0h0.75v0.75h-0.75zM125.0 335.0h0.75v0.75h-0.75zM125.0 332.7h0.75v0.75h-0.75zM129.0 334.5h0.75v0.75h-0.75zM127.9 329.9h0.75v0.75h-0.75zM126.8 336.7h0.75v0.75h-0.75zM130.1 333.1h0.75v0.75h-0.75zM128.7 333.8h0.75v0.75h-0.75zM127.7 335.3h0.75v0.75h-0.75zM124.5 338.5h0.75v0.75h-0.75zM124.6 334.9h0.75v0.75h-0.75zM127.0 335.0h0.75v0.75h-0.75zM130.1 332.0h0.75v0.75h-0.75zM126.3 337.6h0.75v0.75h-0.75zM127.9 330.8h0.75v0.75h-0.75zM126.8 333.7h0.75v0.75h-0.75zM130.5 328.0h0.75v0.75h-0.75zM127.2 333.2h0.75v0.75h-0.75zM125.8 335.3h0.75v0.75h-0.75zM129.4 330.1h0.75v0.75h-0.75zM129.1 333.2h0.75v0.75h-0.75zM125.4 337.8h0.75v0.75h-0.75zM129.3 330.3h0.75v0.75h-0.75zM123.2 338.6h0.75v0.75h-0.75zM127.6 333.1h0.75v0.75h-0.75zM124.6 335.2h0.75v0.75h-0.75zM126.1 332.7h0.75v0.75h-0.75zM126.3 335.9h0.75v0.75h-0.75zM126.7 335.9h0.75v0.75h-0.75zM126.0 334.9h0.75v0.75h-0.75zM124.9 336.2h0.75v0.75h-0.75zM129.6 336.4h0.75v0.75h-0.75zM127.3 330.9h0.75v0.75h-0.75zM129.5 327.9h0.75v0.75h-0.75zM128.0 334.7h0.75v0.75h-0.75zM127.8 332.6h0.75v0.75h-0.75zM126.0 332.3h0.75v0.75h-0.75zM125.3 337.3h0.75v0.75h-0.75zM121.6 337.7h0.75v0.75h-0.75zM131.9 325.8h0.75v0.75h-0.75zM122.4 337.4h0.75v0.75h-0.75zM130.5 330.8h0.75v0.75h-0.75zM120.9 340.8h0.75v0.75h-0.75zM129.0 334.4h0.75v0.75h-0.75zM129.4 329.5h0.75v0.75h-0.75zM127.1 333.4h0.75v0.75h-0.75zM124.8 337.5h0.75v0.75h-0.75zM128.2 336.4h0.75v0.75h-0.75zM128.9 333.0h0.75v0.75h-0.75zM125.9 337.7h0.75v0.75h-0.75zM125.0 339.0h0.75v0.75h-0.75zM124.1 337.3h0.75v0.75h-0.75zM123.6 340.2h0.75v0.75h-0.75zM121.4 342.3h0.75v0.75h-0.75zM126.4 334.4h0.75v0.75h-0.75zM128.8 330.1h0.75v0.75h-0.75zM127.0 333.8h0.75v0.75h-0.75zM129.2 331.9h0.75v0.75h-0.75zM125.3 339.9h0.75v0.75h-0.75zM129.3 330.0h0.75v0.75h-0.75zM122.9 337.7h0.75v0.75h-0.75zM128.6 332.3h0.75v0.75h-0.75zM125.6 337.5h0.75v0.75h-0.75zM129.4 335.2h0.75v0.75h-0.75zM122.1 335.7h0.75v0.75h-0.75zM127.0 335.6h0.75v0.75h-0.75zM126.8 335.9h0.75v0.75h-0.75zM125.4 335.6h0.75v0.75h-0.75zM128.3 334.1h0.75v0.75h-0.75zM124.7 338.2h0.75v0.75h-0.75zM130.4 334.8h0.75v0.75h-0.75zM125.7 334.4h0.75v0.75h-0.75zM124.7 332.3h0.75v0.75h-0.75zM119.3 338.5h0.75v0.75h-0.75zM127.4 332.2h0.75v0.75h-0.75zM128.1 336.9h0.75v0.75h-0.75zM127.1 339.2h0.75v0.75h-0.75zM121.4 337.8h0.75v0.75h-0.75zM130.4 328.8h0.75v0.75h-0.75zM125.6 338.5h0.75v0.75h-0.75zM128.9 336.7h0.75v0.75h-0.75zM126.7 335.1h0.75v0.75h-0.75zM131.4 325.9h0.75v0.75h-0.75zM126.6 333.3h0.75v0.75h-0.75zM122.8 337.8h0.75v0.75h-0.75zM129.6 329.1h0.75v0.75h-0.75zM122.3 338.4h0.75v0.75h-0.75zM123.9 334.5h0.75v0.75h-0.75zM125.3 338.6h0.75v0.75h-0.75zM124.8 335.9h0.75v0.75h-0.75zM128.0 339.6h0.75v0.75h-0.75zM123.1 338.1h0.75v0.75h-0.75zM125.7 335.1h0.75v0.75h-0.75zM122.9 339.6h0.75v0.75h-0.75zM129.7 329.5h0.75v0.75h-0.75zM129.0 337.5h0.75v0.75h-0.75zM126.0 335.4h0.75v0.75h-0.75zM125.1 338.6h0.75v0.75h-0.75zM128.0 331.2h0.75v0.75h-0.75zM127.5 335.9h0.75v0.75h-0.75zM126.4 339.9h0.75v0.75h-0.75zM126.9 332.8h0.75v0.75h-0.75zM129.3 331.4h0.75v0.75h-0.75zM122.6 337.2h0.75v0.75h-0.75zM123.6 337.7h0.75v0.75h-0.75zM129.7 330.6h0.75v0.75h-0.75zM125.2 339.5h0.75v0.75h-0.75zM126.5 334.5h0.75v0.75h-0.75zM127.1 335.5h0.75v0.75h-0.75zM130.0 332.9h0.75v0.75h-0.75zM123.5 339.3h0.75v0.75h-0.75zM125.7 336.9h0.75v0.75h-0.75zM128.2 333.6h0.75v0.75h-0.75zM126.0 334.6h0.75v0.75h-0.75zM122.9 337.7h0.75v0.75h-0.75zM125.1 336.8h0.75v0.75h-0.75zM125.3 340.4h0.75v0.75h-0.75zM125.6 335.0h0.75v0.75h-0.75zM125.2 334.8h0.75v0.75h-0.75zM125.9 335.8h0.75v0.75h-0.75zM123.5 337.1h0.75v0.75h-0.75zM126.9 337.4h0.75v0.75h-0.75zM131.3 328.7h0.75v0.75h-0.75zM126.3 339.0h0.75v0.75h-0.75zM127.1 335.9h0.75v0.75h-0.75zM125.7 334.0h0.75v0.75h-0.75zM127.7 339.4h0.75v0.75h-0.75zM125.2 336.8h0.75v0.75h-0.75zM125.2 338.5h0.75v0.75h-0.75zM127.0 336.6h0.75v0.75h-0.75zM124.5 337.2h0.75v0.75h-0.75zM124.4 339.2h0.75v0.75h-0.75zM122.2 340.7h0.75v0.75h-0.75zM123.0 340.8h0.75v0.75h-0.75zM122.8 340.5h0.75v0.75h-0.75zM123.9 338.7h0.75v0.75h-0.75zM127.8 338.3h0.75v0.75h-0.75zM124.6 334.9h0.75v0.75h-0.75zM130.4 330.9h0.75v0.75h-0.75zM127.1 335.5h0.75v0.75h-0.75zM129.8 328.8h0.75v0.75h-0.75zM128.7 331.1h0.75v0.75h-0.75zM129.2 329.8h0.75v0.75h-0.75zM127.8 328.1h0.75v0.75h-0.75zM127.4 333.8h0.75v0.75h-0.75zM129.7 335.4h0.75v0.75h-0.75zM125.6 336.1h0.75v0.75h-0.75zM122.9 336.7h0.75v0.75h-0.75zM126.4 332.7h0.75v0.75h-0.75zM130.2 330.8h0.75v0.75h-0.75zM123.3 343.4h0.75v0.75h-0.75zM125.3 341.3h0.75v0.75h-0.75zM124.2 337.1h0.75v0.75h-0.75zM124.3 333.4h0.75v0.75h-0.75zM122.6 345.3h0.75v0.75h-0.75zM129.2 333.8h0.75v0.75h-0.75zM126.3 333.0h0.75v0.75h-0.75zM129.8 330.4h0.75v0.75h-0.75zM130.9 330.2h0.75v0.75h-0.75zM127.2 335.9h0.75v0.75h-0.75zM129.2 330.7h0.75v0.75h-0.75zM128.3 334.7h0.75v0.75h-0.75zM127.2 334.6h0.75v0.75h-0.75zM126.0 334.1h0.75v0.75h-0.75zM120.4 340.4h0.75v0.75h-0.75zM124.1 345.3h0.75v0.75h-0.75zM129.0 329.4h0.75v0.75h-0.75zM128.4 326.0h0.75v0.75h-0.75zM127.2 335.3h0.75v0.75h-0.75zM125.8 338.8h0.75v0.75h-0.75zM120.6 341.8h0.75v0.75h-0.75zM123.5 339.8h0.75v0.75h-0.75zM128.8 332.4h0.75v0.75h-0.75zM125.1 335.1h0.75v0.75h-0.75zM124.1 337.6h0.75v0.75h-0.75zM131.5 333.9h0.75v0.75h-0.75zM124.2 336.4h0.75v0.75h-0.75zM125.2 331.7h0.75v0.75h-0.75zM128.6 329.0h0.75v0.75h-0.75zM125.1 332.3h0.75v0.75h-0.75zM124.6 336.2h0.75v0.75h-0.75zM123.1 338.5h0.75v0.75h-0.75zM124.7 336.0h0.75v0.75h-0.75zM129.1 328.7h0.75v0.75h-0.75zM126.2 333.4h0.75v0.75h-0.75zM124.2 337.3h0.75v0.75h-0.75zM131.9 330.2h0.75v0.75h-0.75zM125.9 333.6h0.75v0.75h-0.75zM128.4 336.3h0.75v0.75h-0.75zM126.9 337.0h0.75v0.75h-0.75zM125.6 336.6h0.75v0.75h-0.75zM126.6 339.3h0.75v0.75h-0.75zM129.9 332.2h0.75v0.75h-0.75zM127.1 335.3h0.75v0.75h-0.75zM132.0 330.6h0.75v0.75h-0.75zM123.9 339.6h0.75v0.75h-0.75zM127.7 330.8h0.75v0.75h-0.75zM125.7 332.5h0.75v0.75h-0.75zM128.9 329.5h0.75v0.75h-0.75zM122.9 340.2h0.75v0.75h-0.75zM126.0 331.1h0.75v0.75h-0.75zM126.8 335.9h0.75v0.75h-0.75zM126.9 331.7h0.75v0.75h-0.75zM126.6 334.9h0.75v0.75h-0.75zM131.0 330.8h0.75v0.75h-0.75zM124.2 333.5h0.75v0.75h-0.75zM127.8 328.9h0.75v0.75h-0.75zM128.6 332.9h0.75v0.75h-0.75zM128.8 332.9h0.75v0.75h-0.75zM122.2 339.1h0.75v0.75h-0.75zM126.2 333.1h0.75v0.75h-0.75zM124.0 338.8h0.75v0.75h-0.75zM126.2 331.6h0.75v0.75h-0.75zM132.5 326.8h0.75v0.75h-0.75zM134.4 331.4h0.75v0.75h-0.75zM126.8 331.6h0.75v0.75h-0.75zM123.8 342.1h0.75v0.75h-0.75zM126.4 334.6h0.75v0.75h-0.75zM125.7 333.1h0.75v0.75h-0.75zM125.9 336.4h0.75v0.75h-0.75zM127.4 334.2h0.75v0.75h-0.75zM129.1 334.1h0.75v0.75h-0.75zM128.9 339.2h0.75v0.75h-0.75zM127.0 335.5h0.75v0.75h-0.75zM126.9 333.0h0.75v0.75h-0.75zM128.9 335.1h0.75v0.75h-0.75zM128.6 331.7h0.75v0.75h-0.75zM130.3 327.5h0.75v0.75h-0.75zM125.9 333.8h0.75v0.75h-0.75zM127.2 333.8h0.75v0.75h-0.75zM126.0 335.6h0.75v0.75h-0.75zM125.3 334.1h0.75v0.75h-0.75zM125.3 341.9h0.75v0.75h-0.75zM128.4 333.3h0.75v0.75h-0.75zM128.6 331.6h0.75v0.75h-0.75zM126.1 339.4h0.75v0.75h-0.75zM124.6 337.5h0.75v0.75h-0.75zM133.2 329.1h0.75v0.75h-0.75zM126.0 333.6h0.75v0.75h-0.75zM125.0 333.2h0.75v0.75h-0.75zM124.6 338.6h0.75v0.75h-0.75zM126.7 338.5h0.75v0.75h-0.75zM126.0 339.5h0.75v0.75h-0.75zM123.2 335.7h0.75v0.75h-0.75zM119.8 344.8h0.75v0.75h-0.75zM122.2 339.3h0.75v0.75h-0.75zM123.8 339.6h0.75v0.75h-0.75zM128.4 334.3h0.75v0.75h-0.75zM122.8 332.7h0.75v0.75h-0.75zM127.0 337.6h0.75v0.75h-0.75zM125.2 336.2h0.75v0.75h-0.75zM126.5 337.5h0.75v0.75h-0.75zM124.1 334.6h0.75v0.75h-0.75zM126.0 337.1h0.75v0.75h-0.75zM121.8 339.7h0.75v0.75h-0.75zM124.4 340.5h0.75v0.75h-0.75zM125.1 338.3h0.75v0.75h-0.75zM126.1 336.0h0.75v0.75h-0.75zM126.5 334.3h0.75v0.75h-0.75zM131.7 329.5h0.75v0.75h-0.75zM128.9 332.9h0.75v0.75h-0.75zM125.3 332.9h0.75v0.75h-0.75zM126.5 336.6h0.75v0.75h-0.75zM131.1 330.5h0.75v0.75h-0.75zM128.4 333.5h0.75v0.75h-0.75zM123.5 340.1h0.75v0.75h-0.75zM129.3 330.9h0.75v0.75h-0.75zM130.9 333.0h0.75v0.75h-0.75zM129.9 336.7h0.75v0.75h-0.75zM124.2 333.9h0.75v0.75h-0.75zM127.3 333.6h0.75v0.75h-0.75zM127.1 334.5h0.75v0.75h-0.75zM124.2 338.5h0.75v0.75h-0.75zM131.6 330.1h0.75v0.75h-0.75zM124.2 335.9h0.75v0.75h-0.75zM122.4 340.1h0.75v0.75h-0.75zM129.8 336.7h0.75v0.75h-0.75zM128.4 330.9h0.75v0.75h-0.75zM124.2 334.2h0.75v0.75h-0.75zM134.0 327.3h0.75v0.75h-0.75zM137.2 323.5h0.75v0.75h-0.75zM134.8 328.7h0.75v0.75h-0.75zM130.7 332.5h0.75v0.75h-0.75zM129.7 326.7h0.75v0.75h-0.75zM143.4 320.6h0.75v0.75h-0.75zM129.2 333.4h0.75v0.75h-0.75zM134.9 323.8h0.75v0.75h-0.75zM135.6 326.9h0.75v0.75h-0.75zM132.3 328.3h0.75v0.75h-0.75zM133.6 331.6h0.75v0.75h-0.75zM127.3 331.6h0.75v0.75h-0.75zM132.3 329.9h0.75v0.75h-0.75zM129.0 329.7h0.75v0.75h-0.75zM131.9 323.8h0.75v0.75h-0.75zM129.1 325.8h0.75v0.75h-0.75zM132.6 328.1h0.75v0.75h-0.75zM138.2 329.3h0.75v0.75h-0.75zM130.3 326.5h0.75v0.75h-0.75zM137.3 329.9h0.75v0.75h-0.75zM133.4 330.8h0.75v0.75h-0.75zM136.2 323.7h0.75v0.75h-0.75zM132.1 329.1h0.75v0.75h-0.75zM128.0 333.8h0.75v0.75h-0.75zM129.8 328.6h0.75v0.75h-0.75zM130.9 331.0h0.75v0.75h-0.75zM135.4 326.5h0.75v0.75h-0.75zM132.3 331.7h0.75v0.75h-0.75zM136.7 325.0h0.75v0.75h-0.75zM131.0 330.5h0.75v0.75h-0.75zM130.3 327.4h0.75v0.75h-0.75zM134.9 325.0h0.75v0.75h-0.75zM134.3 324.7h0.75v0.75h-0.75zM132.2 327.6h0.75v0.75h-0.75zM135.4 324.0h0.75v0.75h-0.75zM133.4 327.7h0.75v0.75h-0.75zM136.7 327.6h0.75v0.75h-0.75zM133.2 329.0h0.75v0.75h-0.75zM126.2 331.2h0.75v0.75h-0.75zM134.7 330.1h0.75v0.75h-0.75zM134.5 323.1h0.75v0.75h-0.75zM140.8 326.4h0.75v0.75h-0.75zM132.1 330.1h0.75v0.75h-0.75zM137.0 322.9h0.75v0.75h-0.75zM131.1 328.6h0.75v0.75h-0.75zM128.9 330.0h0.75v0.75h-0.75zM128.7 328.9h0.75v0.75h-0.75zM135.2 325.6h0.75v0.75h-0.75zM133.6 330.1h0.75v0.75h-0.75zM132.7 323.5h0.75v0.75h-0.75zM140.7 321.4h0.75v0.75h-0.75zM133.7 333.5h0.75v0.75h-0.75zM123.0 329.0h0.75v0.75h-0.75zM131.6 328.7h0.75v0.75h-0.75zM138.7 338.4h0.75v0.75h-0.75zM137.2 317.8h0.75v0.75h-0.75zM140.6 323.2h0.75v0.75h-0.75zM142.8 339.6h0.75v0.75h-0.75zM142.8 319.3h0.75v0.75h-0.75z" fill="#000" fill-opacity="0.4"/>
<path d="M127.8 333.6h0.75v0.75h-0.75zM125.0 338.5h0.75v0.75h-0.75zM124.8 338.1h0.75v0.75h-0.75zM117.5 347.6h0.75v0.75h-0.75zM125.6 343.1h0.75v0.75h-0.75zM122.0 341.6h0.75v0.75h-0.75zM128.2 335.2h0.75v0.75h-0.75zM123.7 339.2h0.75v0.75h-0.75zM126.2 331.1h0.75v0.75h-0.75zM130.0 332.2h0.75v0.75h-0.75zM130.2 333.6h0.75v0.75h-0.75zM130.1 334.0h0.75v0.75h-0.75zM129.1 333.0h0.75v0.75h-0.75zM125.1 337.5h0.75v0.75h-0.75zM125.2 336.8h0.75v0.75h-0.75zM128.2 333.0h0.75v0.75h-0.75zM128.5 336.2h0.75v0.75h-0.75zM126.0 336.6h0.75v0.75h-0.75zM127.2 338.0h0.75v0.75h-0.75zM124.9 339.3h0.75v0.75h-0.75zM128.8 331.4h0.75v0.75h-0.75zM125.1 339.0h0.75v0.75h-0.75zM129.4 334.4h0.75v0.75h-0.75zM120.0 338.7h0.75v0.75h-0.75zM126.1 333.3h0.75v0.75h-0.75zM124.8 337.7h0.75v0.75h-0.75zM129.3 333.4h0.75v0.75h-0.75zM123.0 336.2h0.75v0.75h-0.75zM125.1 334.8h0.75v0.75h-0.75zM126.2 335.8h0.75v0.75h-0.75zM124.3 335.0h0.75v0.75h-0.75zM124.9 340.0h0.75v0.75h-0.75zM132.7 326.7h0.75v0.75h-0.75zM124.6 333.8h0.75v0.75h-0.75zM131.9 334.7h0.75v0.75h-0.75zM126.6 337.0h0.75v0.75h-0.75zM122.5 336.3h0.75v0.75h-0.75zM128.6 331.4h0.75v0.75h-0.75zM127.1 333.5h0.75v0.75h-0.75zM124.0 336.6h0.75v0.75h-0.75zM129.1 338.8h0.75v0.75h-0.75zM125.2 337.9h0.75v0.75h-0.75zM129.9 334.2h0.75v0.75h-0.75zM126.3 340.5h0.75v0.75h-0.75zM122.8 332.0h0.75v0.75h-0.75zM122.0 342.7h0.75v0.75h-0.75zM125.3 333.6h0.75v0.75h-0.75zM127.3 333.3h0.75v0.75h-0.75zM124.1 336.8h0.75v0.75h-0.75zM121.6 341.5h0.75v0.75h-0.75zM127.2 339.3h0.75v0.75h-0.75zM125.8 335.9h0.75v0.75h-0.75zM126.5 334.6h0.75v0.75h-0.75zM132.4 328.3h0.75v0.75h-0.75zM126.3 332.0h0.75v0.75h-0.75zM128.5 332.8h0.75v0.75h-0.75zM131.7 330.8h0.75v0.75h-0.75zM126.1 332.0h0.75v0.75h-0.75zM129.9 330.7h0.75v0.75h-0.75zM131.3 329.5h0.75v0.75h-0.75zM132.2 333.6h0.75v0.75h-0.75zM128.1 330.4h0.75v0.75h-0.75zM127.5 332.5h0.75v0.75h-0.75zM125.7 333.0h0.75v0.75h-0.75zM124.2 337.3h0.75v0.75h-0.75zM126.9 336.4h0.75v0.75h-0.75zM125.0 334.6h0.75v0.75h-0.75zM126.3 336.1h0.75v0.75h-0.75zM131.2 326.5h0.75v0.75h-0.75zM130.7 330.6h0.75v0.75h-0.75zM128.0 335.0h0.75v0.75h-0.75zM125.4 336.5h0.75v0.75h-0.75zM125.4 336.8h0.75v0.75h-0.75zM130.7 331.1h0.75v0.75h-0.75zM128.6 330.0h0.75v0.75h-0.75zM127.1 334.1h0.75v0.75h-0.75zM122.9 339.3h0.75v0.75h-0.75zM124.6 335.6h0.75v0.75h-0.75zM125.6 335.8h0.75v0.75h-0.75zM123.5 339.1h0.75v0.75h-0.75zM123.9 338.6h0.75v0.75h-0.75zM130.6 329.6h0.75v0.75h-0.75zM129.7 335.3h0.75v0.75h-0.75zM122.4 339.2h0.75v0.75h-0.75zM121.7 344.0h0.75v0.75h-0.75zM122.7 338.2h0.75v0.75h-0.75zM126.0 333.1h0.75v0.75h-0.75zM128.3 330.3h0.75v0.75h-0.75zM125.7 336.7h0.75v0.75h-0.75zM123.8 337.3h0.75v0.75h-0.75zM126.7 337.8h0.75v0.75h-0.75zM127.6 338.8h0.75v0.75h-0.75zM128.0 332.6h0.75v0.75h-0.75zM125.1 337.0h0.75v0.75h-0.75zM121.8 338.5h0.75v0.75h-0.75zM124.6 341.4h0.75v0.75h-0.75zM125.5 330.6h0.75v0.75h-0.75zM126.1 333.3h0.75v0.75h-0.75zM129.0 332.0h0.75v0.75h-0.75zM132.3 332.2h0.75v0.75h-0.75zM124.1 336.8h0.75v0.75h-0.75zM127.4 329.8h0.75v0.75h-0.75zM127.6 333.1h0.75v0.75h-0.75zM125.5 336.3h0.75v0.75h-0.75zM124.7 340.1h0.75v0.75h-0.75zM130.7 330.1h0.75v0.75h-0.75zM126.6 330.7h0.75v0.75h-0.75zM124.6 338.7h0.75v0.75h-0.75zM126.6 336.8h0.75v0.75h-0.75zM126.4 335.3h0.75v0.75h-0.75zM128.6 333.9h0.75v0.75h-0.75zM126.8 330.2h0.75v0.75h-0.75zM126.9 334.5h0.75v0.75h-0.75zM128.4 334.1h0.75v0.75h-0.75zM127.5 334.5h0.75v0.75h-0.75zM120.7 341.2h0.75v0.75h-0.75zM126.4 332.0h0.75v0.75h-0.75zM126.0 333.8h0.75v0.75h-0.75zM128.9 330.9h0.75v0.75h-0.75zM130.7 332.4h0.75v0.75h-0.75zM129.1 331.6h0.75v0.75h-0.75zM126.9 334.6h0.75v0.75h-0.75zM130.0 330.3h0.75v0.75h-0.75zM128.5 327.7h0.75v0.75h-0.75zM125.2 335.3h0.75v0.75h-0.75zM127.7 334.9h0.75v0.75h-0.75zM126.3 331.9h0.75v0.75h-0.75zM123.4 340.3h0.75v0.75h-0.75zM122.8 339.6h0.75v0.75h-0.75zM125.6 339.5h0.75v0.75h-0.75zM132.0 327.0h0.75v0.75h-0.75zM127.9 333.3h0.75v0.75h-0.75zM129.5 327.0h0.75v0.75h-0.75zM125.7 333.7h0.75v0.75h-0.75zM123.6 340.2h0.75v0.75h-0.75zM124.0 332.6h0.75v0.75h-0.75zM127.3 331.8h0.75v0.75h-0.75zM124.5 338.8h0.75v0.75h-0.75zM130.6 330.5h0.75v0.75h-0.75zM128.1 328.8h0.75v0.75h-0.75zM124.1 334.1h0.75v0.75h-0.75zM129.3 334.2h0.75v0.75h-0.75zM128.2 334.9h0.75v0.75h-0.75zM129.3 331.6h0.75v0.75h-0.75zM129.9 333.8h0.75v0.75h-0.75zM123.9 336.7h0.75v0.75h-0.75zM131.6 329.4h0.75v0.75h-0.75zM123.7 337.4h0.75v0.75h-0.75zM123.0 341.4h0.75v0.75h-0.75zM121.0 339.1h0.75v0.75h-0.75zM127.4 333.3h0.75v0.75h-0.75zM126.4 333.0h0.75v0.75h-0.75zM125.0 338.5h0.75v0.75h-0.75zM125.1 338.8h0.75v0.75h-0.75zM127.2 332.7h0.75v0.75h-0.75zM125.6 333.3h0.75v0.75h-0.75zM127.1 334.2h0.75v0.75h-0.75zM129.5 332.5h0.75v0.75h-0.75zM129.6 331.8h0.75v0.75h-0.75zM130.0 336.3h0.75v0.75h-0.75zM127.0 336.3h0.75v0.75h-0.75zM127.8 335.1h0.75v0.75h-0.75zM127.3 337.3h0.75v0.75h-0.75zM124.9 337.0h0.75v0.75h-0.75zM126.0 335.0h0.75v0.75h-0.75zM121.8 340.7h0.75v0.75h-0.75zM122.8 333.9h0.75v0.75h-0.75zM124.0 332.8h0.75v0.75h-0.75zM126.1 333.9h0.75v0.75h-0.75zM125.2 335.1h0.75v0.75h-0.75zM125.7 339.9h0.75v0.75h-0.75zM126.6 334.3h0.75v0.75h-0.75zM126.6 335.1h0.75v0.75h-0.75zM122.6 339.9h0.75v0.75h-0.75zM123.4 340.6h0.75v0.75h-0.75zM121.9 339.0h0.75v0.75h-0.75zM127.4 332.5h0.75v0.75h-0.75zM129.3 331.4h0.75v0.75h-0.75zM128.6 332.5h0.75v0.75h-0.75zM118.5 344.1h0.75v0.75h-0.75zM126.4 333.1h0.75v0.75h-0.75zM129.3 336.3h0.75v0.75h-0.75zM125.0 338.1h0.75v0.75h-0.75zM125.9 336.7h0.75v0.75h-0.75zM128.7 333.7h0.75v0.75h-0.75zM129.0 331.8h0.75v0.75h-0.75zM123.8 334.4h0.75v0.75h-0.75zM127.4 334.9h0.75v0.75h-0.75zM124.0 337.3h0.75v0.75h-0.75zM126.9 333.3h0.75v0.75h-0.75zM131.4 330.0h0.75v0.75h-0.75zM121.5 341.6h0.75v0.75h-0.75zM131.3 328.5h0.75v0.75h-0.75zM125.9 333.5h0.75v0.75h-0.75zM127.4 334.5h0.75v0.75h-0.75zM127.1 332.0h0.75v0.75h-0.75zM125.4 333.4h0.75v0.75h-0.75zM126.7 336.3h0.75v0.75h-0.75zM124.4 337.4h0.75v0.75h-0.75zM130.2 329.4h0.75v0.75h-0.75zM129.2 330.3h0.75v0.75h-0.75zM128.8 331.1h0.75v0.75h-0.75zM129.6 330.6h0.75v0.75h-0.75zM125.4 334.7h0.75v0.75h-0.75zM125.5 333.6h0.75v0.75h-0.75zM126.7 337.4h0.75v0.75h-0.75zM122.6 338.7h0.75v0.75h-0.75zM125.0 331.2h0.75v0.75h-0.75zM130.3 334.3h0.75v0.75h-0.75zM122.9 339.2h0.75v0.75h-0.75zM125.1 339.8h0.75v0.75h-0.75zM123.4 339.4h0.75v0.75h-0.75zM132.5 325.1h0.75v0.75h-0.75zM124.7 338.0h0.75v0.75h-0.75zM128.2 336.2h0.75v0.75h-0.75zM130.5 327.9h0.75v0.75h-0.75zM125.5 341.0h0.75v0.75h-0.75zM130.3 330.3h0.75v0.75h-0.75zM129.8 332.0h0.75v0.75h-0.75zM128.3 335.6h0.75v0.75h-0.75zM128.9 331.3h0.75v0.75h-0.75zM125.2 335.6h0.75v0.75h-0.75zM127.1 334.7h0.75v0.75h-0.75zM124.9 341.2h0.75v0.75h-0.75zM121.7 341.3h0.75v0.75h-0.75zM128.8 333.3h0.75v0.75h-0.75zM127.4 332.0h0.75v0.75h-0.75zM122.9 336.3h0.75v0.75h-0.75zM122.0 334.6h0.75v0.75h-0.75zM122.3 334.3h0.75v0.75h-0.75zM121.0 337.4h0.75v0.75h-0.75zM126.6 329.7h0.75v0.75h-0.75zM126.9 334.3h0.75v0.75h-0.75zM125.8 339.4h0.75v0.75h-0.75zM127.3 337.5h0.75v0.75h-0.75zM124.1 336.6h0.75v0.75h-0.75zM128.8 337.5h0.75v0.75h-0.75zM124.2 331.9h0.75v0.75h-0.75zM128.6 334.8h0.75v0.75h-0.75zM126.3 334.7h0.75v0.75h-0.75zM121.1 341.8h0.75v0.75h-0.75zM127.1 332.0h0.75v0.75h-0.75zM126.6 333.2h0.75v0.75h-0.75zM124.7 332.2h0.75v0.75h-0.75zM125.8 337.0h0.75v0.75h-0.75zM123.1 335.1h0.75v0.75h-0.75zM123.1 342.7h0.75v0.75h-0.75zM131.2 332.4h0.75v0.75h-0.75zM123.4 337.9h0.75v0.75h-0.75zM128.3 331.4h0.75v0.75h-0.75zM123.2 341.6h0.75v0.75h-0.75zM120.5 343.3h0.75v0.75h-0.75zM127.6 338.2h0.75v0.75h-0.75zM126.2 340.3h0.75v0.75h-0.75zM125.4 335.4h0.75v0.75h-0.75zM122.3 338.6h0.75v0.75h-0.75zM125.1 338.6h0.75v0.75h-0.75zM126.6 331.8h0.75v0.75h-0.75zM126.2 339.2h0.75v0.75h-0.75zM130.1 329.8h0.75v0.75h-0.75zM128.1 333.8h0.75v0.75h-0.75zM125.7 335.5h0.75v0.75h-0.75zM124.1 341.2h0.75v0.75h-0.75zM123.8 337.7h0.75v0.75h-0.75zM122.0 342.2h0.75v0.75h-0.75zM129.0 329.7h0.75v0.75h-0.75zM129.7 329.8h0.75v0.75h-0.75zM128.8 333.4h0.75v0.75h-0.75zM124.5 342.3h0.75v0.75h-0.75zM135.0 329.1h0.75v0.75h-0.75zM129.5 334.4h0.75v0.75h-0.75zM126.2 329.2h0.75v0.75h-0.75zM129.2 332.3h0.75v0.75h-0.75zM125.9 333.0h0.75v0.75h-0.75zM123.9 339.2h0.75v0.75h-0.75zM131.0 330.9h0.75v0.75h-0.75zM129.3 330.1h0.75v0.75h-0.75zM127.6 334.2h0.75v0.75h-0.75zM128.9 334.9h0.75v0.75h-0.75zM132.7 330.7h0.75v0.75h-0.75zM123.7 338.4h0.75v0.75h-0.75zM129.5 331.8h0.75v0.75h-0.75zM129.3 331.2h0.75v0.75h-0.75zM128.3 331.7h0.75v0.75h-0.75zM127.7 337.0h0.75v0.75h-0.75zM125.1 340.1h0.75v0.75h-0.75zM125.0 336.0h0.75v0.75h-0.75zM126.4 335.2h0.75v0.75h-0.75zM129.4 334.8h0.75v0.75h-0.75zM127.0 335.6h0.75v0.75h-0.75zM122.5 338.9h0.75v0.75h-0.75zM128.7 334.2h0.75v0.75h-0.75zM127.5 329.1h0.75v0.75h-0.75zM130.7 329.0h0.75v0.75h-0.75zM128.1 334.2h0.75v0.75h-0.75zM120.9 342.1h0.75v0.75h-0.75zM126.9 331.2h0.75v0.75h-0.75zM126.3 330.0h0.75v0.75h-0.75zM128.1 331.1h0.75v0.75h-0.75zM125.4 337.7h0.75v0.75h-0.75zM127.4 338.0h0.75v0.75h-0.75zM127.7 336.6h0.75v0.75h-0.75zM126.6 336.8h0.75v0.75h-0.75zM124.1 340.6h0.75v0.75h-0.75zM130.9 332.9h0.75v0.75h-0.75zM125.8 338.7h0.75v0.75h-0.75zM130.8 332.3h0.75v0.75h-0.75zM123.4 339.9h0.75v0.75h-0.75zM123.8 335.0h0.75v0.75h-0.75zM124.2 334.5h0.75v0.75h-0.75zM124.7 336.5h0.75v0.75h-0.75zM127.3 334.0h0.75v0.75h-0.75zM128.5 336.7h0.75v0.75h-0.75zM128.4 336.4h0.75v0.75h-0.75zM123.5 341.2h0.75v0.75h-0.75zM127.2 333.2h0.75v0.75h-0.75zM128.4 332.0h0.75v0.75h-0.75zM123.6 335.4h0.75v0.75h-0.75zM126.5 331.6h0.75v0.75h-0.75zM127.4 328.4h0.75v0.75h-0.75zM130.1 330.0h0.75v0.75h-0.75zM128.0 335.0h0.75v0.75h-0.75zM123.6 334.5h0.75v0.75h-0.75zM125.5 334.6h0.75v0.75h-0.75zM125.3 339.3h0.75v0.75h-0.75zM127.7 336.9h0.75v0.75h-0.75zM128.7 333.9h0.75v0.75h-0.75zM131.5 331.7h0.75v0.75h-0.75zM128.7 329.2h0.75v0.75h-0.75zM127.6 332.0h0.75v0.75h-0.75zM121.9 337.0h0.75v0.75h-0.75zM123.9 340.5h0.75v0.75h-0.75zM126.7 334.1h0.75v0.75h-0.75zM123.8 333.0h0.75v0.75h-0.75zM126.8 337.1h0.75v0.75h-0.75zM124.1 335.6h0.75v0.75h-0.75zM130.7 330.5h0.75v0.75h-0.75zM126.9 335.5h0.75v0.75h-0.75zM124.8 337.8h0.75v0.75h-0.75zM132.7 332.8h0.75v0.75h-0.75zM135.8 324.9h0.75v0.75h-0.75zM135.2 324.4h0.75v0.75h-0.75zM133.9 326.7h0.75v0.75h-0.75zM132.0 330.1h0.75v0.75h-0.75zM133.8 329.4h0.75v0.75h-0.75zM136.7 323.7h0.75v0.75h-0.75zM132.4 331.0h0.75v0.75h-0.75zM130.6 331.0h0.75v0.75h-0.75zM130.5 329.8h0.75v0.75h-0.75zM126.8 329.6h0.75v0.75h-0.75zM138.2 324.8h0.75v0.75h-0.75zM131.5 325.4h0.75v0.75h-0.75zM126.1 327.5h0.75v0.75h-0.75zM131.1 328.1h0.75v0.75h-0.75zM137.5 322.3h0.75v0.75h-0.75zM136.6 324.1h0.75v0.75h-0.75zM131.6 329.0h0.75v0.75h-0.75zM135.9 320.6h0.75v0.75h-0.75zM134.4 329.2h0.75v0.75h-0.75zM135.1 325.1h0.75v0.75h-0.75zM134.2 325.6h0.75v0.75h-0.75zM129.6 327.2h0.75v0.75h-0.75zM128.0 328.7h0.75v0.75h-0.75zM129.6 329.6h0.75v0.75h-0.75zM131.9 327.5h0.75v0.75h-0.75zM128.2 329.0h0.75v0.75h-0.75zM135.5 327.4h0.75v0.75h-0.75zM138.2 325.4h0.75v0.75h-0.75zM131.8 329.1h0.75v0.75h-0.75zM129.1 328.5h0.75v0.75h-0.75zM131.6 327.7h0.75v0.75h-0.75zM126.7 328.4h0.75v0.75h-0.75zM131.6 329.2h0.75v0.75h-0.75zM122.3 337.4h0.75v0.75h-0.75zM130.1 330.1h0.75v0.75h-0.75zM135.2 327.1h0.75v0.75h-0.75zM134.0 324.3h0.75v0.75h-0.75zM130.9 326.7h0.75v0.75h-0.75zM134.4 322.4h0.75v0.75h-0.75zM138.2 322.9h0.75v0.75h-0.75zM137.7 328.4h0.75v0.75h-0.75zM138.0 328.0h0.75v0.75h-0.75zM132.1 325.3h0.75v0.75h-0.75zM134.2 329.8h0.75v0.75h-0.75zM126.9 326.6h0.75v0.75h-0.75zM131.9 326.7h0.75v0.75h-0.75zM135.8 327.3h0.75v0.75h-0.75zM127.7 329.7h0.75v0.75h-0.75zM136.5 326.3h0.75v0.75h-0.75zM130.5 329.7h0.75v0.75h-0.75zM129.0 327.9h0.75v0.75h-0.75zM135.0 329.0h0.75v0.75h-0.75zM141.9 319.4h0.75v0.75h-0.75zM138.3 337.0h0.75v0.75h-0.75zM135.4 334.1h0.75v0.75h-0.75zM131.2 319.2h0.75v0.75h-0.75zM139.2 321.1h0.75v0.75h-0.75zM126.0 342.7h0.75v0.75h-0.75zM127.2 320.8h0.75v0.75h-0.75z" fill="#000" fill-opacity="0.4"/>
<path d="M126.6 330.6h0.75v0.75h-0.75zM120.8 333.8h0.75v0.75h-0.75zM124.9 341.8h0.75v0.75h-0.75zM125.1 335.4h0.75v0.75h-0.75zM127.8 332.7h0.75v0.75h-0.75zM125.9 340.9h0.75v0.75h-0.75zM125.3 335.0h0.75v0.75h-0.75zM123.2 336.6h0.75v0.75h-0.75zM127.4 332.6h0.75v0.75h-0.75zM126.9 332.7h0.75v0.75h-0.75zM133.5 328.4h0.75v0.75h-0.75zM126.3 335.9h0.75v0.75h-0.75zM129.5 331.3h0.75v0.75h-0.75zM124.4 335.8h0.75v0.75h-0.75zM128.1 332.0h0.75v0.75h-0.75zM130.5 331.5h0.75v0.75h-0.75zM121.8 338.2h0.75v0.75h-0.75zM125.3 334.6h0.75v0.75h-0.75zM130.8 335.1h0.75v0.75h-0.75zM127.6 334.6h0.75v0.75h-0.75zM130.5 329.7h0.75v0.75h-0.75zM129.2 334.9h0.75v0.75h-0.75zM125.5 338.7h0.75v0.75h-0.75zM126.1 335.0h0.75v0.75h-0.75zM123.6 338.7h0.75v0.75h-0.75zM124.3 340.4h0.75v0.75h-0.75zM127.8 333.7h0.75v0.75h-0.75zM124.5 339.4h0.75v0.75h-0.75zM127.8 331.1h0.75v0.75h-0.75zM120.9 339.9h0.75v0.75h-0.75zM128.4 331.6h0.75v0.75h-0.75zM129.7 329.7h0.75v0.75h-0.75zM124.3 334.2h0.75v0.75h-0.75zM130.5 334.2h0.75v0.75h-0.75zM126.8 334.7h0.75v0.75h-0.75zM126.0 335.7h0.75v0.75h-0.75zM126.9 333.3h0.75v0.75h-0.75zM124.0 338.1h0.75v0.75h-0.75zM126.5 332.8h0.75v0.75h-0.75zM121.5 341.4h0.75v0.75h-0.75zM131.7 331.0h0.75v0.75h-0.75zM128.9 327.2h0.75v0.75h-0.75zM126.0 337.9h0.75v0.75h-0.75zM128.4 330.6h0.75v0.75h-0.75zM127.6 337.5h0.75v0.75h-0.75zM132.3 333.6h0.75v0.75h-0.75zM124.6 337.2h0.75v0.75h-0.75zM128.4 333.9h0.75v0.75h-0.75zM125.5 340.3h0.75v0.75h-0.75zM126.5 339.5h0.75v0.75h-0.75zM122.9 338.1h0.75v0.75h-0.75zM135.6 327.8h0.75v0.75h-0.75zM129.2 332.8h0.75v0.75h-0.75zM128.4 335.8h0.75v0.75h-0.75zM121.9 336.2h0.75v0.75h-0.75zM125.5 339.4h0.75v0.75h-0.75zM124.8 336.1h0.75v0.75h-0.75zM124.9 337.9h0.75v0.75h-0.75zM128.0 334.8h0.75v0.75h-0.75zM126.2 330.3h0.75v0.75h-0.75zM131.3 327.1h0.75v0.75h-0.75zM125.2 338.6h0.75v0.75h-0.75zM126.6 338.1h0.75v0.75h-0.75zM124.8 338.3h0.75v0.75h-0.75zM129.9 333.7h0.75v0.75h-0.75zM126.6 332.7h0.75v0.75h-0.75zM124.8 338.7h0.75v0.75h-0.75zM120.4 340.5h0.75v0.75h-0.75zM129.8 334.7h0.75v0.75h-0.75zM130.3 332.7h0.75v0.75h-0.75zM121.7 341.0h0.75v0.75h-0.75zM123.6 339.1h0.75v0.75h-0.75zM128.9 333.6h0.75v0.75h-0.75zM125.7 336.9h0.75v0.75h-0.75zM131.4 331.1h0.75v0.75h-0.75zM126.4 340.1h0.75v0.75h-0.75zM124.9 338.7h0.75v0.75h-0.75zM126.9 333.9h0.75v0.75h-0.75zM127.7 335.3h0.75v0.75h-0.75zM124.0 342.6h0.75v0.75h-0.75zM122.5 343.9h0.75v0.75h-0.75zM129.7 329.7h0.75v0.75h-0.75zM130.1 328.1h0.75v0.75h-0.75zM128.9 336.3h0.75v0.75h-0.75zM125.2 333.8h0.75v0.75h-0.75zM121.7 344.4h0.75v0.75h-0.75zM130.4 332.8h0.75v0.75h-0.75zM124.9 339.9h0.75v0.75h-0.75zM128.3 331.4h0.75v0.75h-0.75zM128.1 331.0h0.75v0.75h-0.75zM129.5 325.8h0.75v0.75h-0.75zM122.1 339.5h0.75v0.75h-0.75zM129.4 336.3h0.75v0.75h-0.75zM125.2 338.8h0.75v0.75h-0.75zM128.4 333.8h0.75v0.75h-0.75zM131.7 327.7h0.75v0.75h-0.75zM121.8 344.3h0.75v0.75h-0.75zM132.1 327.9h0.75v0.75h-0.75zM126.1 333.9h0.75v0.75h-0.75zM127.9 333.2h0.75v0.75h-0.75zM129.8 328.9h0.75v0.75h-0.75zM130.9 332.3h0.75v0.75h-0.75zM126.1 329.8h0.75v0.75h-0.75zM128.6 330.2h0.75v0.75h-0.75zM126.6 332.5h0.75v0.75h-0.75zM125.8 338.3h0.75v0.75h-0.75zM130.0 333.8h0.75v0.75h-0.75zM128.6 333.3h0.75v0.75h-0.75zM133.2 331.0h0.75v0.75h-0.75zM124.4 340.4h0.75v0.75h-0.75zM127.5 335.9h0.75v0.75h-0.75zM128.0 332.7h0.75v0.75h-0.75zM129.8 327.4h0.75v0.75h-0.75zM126.0 331.2h0.75v0.75h-0.75zM126.4 333.6h0.75v0.75h-0.75zM124.3 337.6h0.75v0.75h-0.75zM127.7 335.8h0.75v0.75h-0.75zM126.8 336.9h0.75v0.75h-0.75zM121.8 336.5h0.75v0.75h-0.75zM127.6 337.7h0.75v0.75h-0.75zM129.7 329.6h0.75v0.75h-0.75zM129.8 334.8h0.75v0.75h-0.75zM130.0 327.1h0.75v0.75h-0.75zM124.2 334.7h0.75v0.75h-0.75zM126.6 334.8h0.75v0.75h-0.75zM126.0 333.6h0.75v0.75h-0.75zM124.5 335.9h0.75v0.75h-0.75zM124.0 336.9h0.75v0.75h-0.75zM128.9 335.7h0.75v0.75h-0.75zM125.5 337.3h0.75v0.75h-0.75zM127.9 333.3h0.75v0.75h-0.75zM130.1 332.2h0.75v0.75h-0.75zM126.6 333.9h0.75v0.75h-0.75zM125.9 334.6h0.75v0.75h-0.75zM121.3 339.8h0.75v0.75h-0.75zM128.2 334.3h0.75v0.75h-0.75zM124.6 336.7h0.75v0.75h-0.75zM124.0 334.3h0.75v0.75h-0.75zM123.9 338.3h0.75v0.75h-0.75zM130.3 333.4h0.75v0.75h-0.75zM130.4 332.6h0.75v0.75h-0.75zM126.5 336.1h0.75v0.75h-0.75zM126.0 329.3h0.75v0.75h-0.75zM122.8 339.7h0.75v0.75h-0.75zM129.8 333.1h0.75v0.75h-0.75zM129.5 330.0h0.75v0.75h-0.75zM129.2 335.0h0.75v0.75h-0.75zM126.9 337.9h0.75v0.75h-0.75zM126.6 335.1h0.75v0.75h-0.75zM128.1 337.6h0.75v0.75h-0.75zM127.6 331.7h0.75v0.75h-0.75zM123.7 339.5h0.75v0.75h-0.75zM123.3 345.8h0.75v0.75h-0.75zM126.8 332.7h0.75v0.75h-0.75zM126.6 334.6h0.75v0.75h-0.75zM128.7 336.2h0.75v0.75h-0.75zM130.6 333.9h0.75v0.75h-0.75zM128.9 333.2h0.75v0.75h-0.75zM129.8 333.1h0.75v0.75h-0.75zM124.7 337.8h0.75v0.75h-0.75zM128.6 329.8h0.75v0.75h-0.75zM127.3 333.4h0.75v0.75h-0.75zM123.5 340.1h0.75v0.75h-0.75zM127.7 330.5h0.75v0.75h-0.75zM125.1 332.5h0.75v0.75h-0.75zM122.6 336.2h0.75v0.75h-0.75zM122.0 342.3h0.75v0.75h-0.75zM126.8 338.1h0.75v0.75h-0.75zM130.0 334.0h0.75v0.75h-0.75zM125.8 338.3h0.75v0.75h-0.75zM129.5 335.2h0.75v0.75h-0.75zM124.2 337.7h0.75v0.75h-0.75zM123.2 339.9h0.75v0.75h-0.75zM125.8 335.6h0.75v0.75h-0.75zM125.4 332.3h0.75v0.75h-0.75zM124.4 334.9h0.75v0.75h-0.75zM127.2 334.9h0.75v0.75h-0.75zM131.0 332.6h0.75v0.75h-0.75zM131.0 329.7h0.75v0.75h-0.75zM129.0 336.0h0.75v0.75h-0.75zM126.3 338.2h0.75v0.75h-0.75zM129.5 329.6h0.75v0.75h-0.75zM124.3 336.6h0.75v0.75h-0.75zM131.3 329.5h0.75v0.75h-0.75zM127.6 334.2h0.75v0.75h-0.75zM129.9 331.9h0.75v0.75h-0.75zM125.9 334.0h0.75v0.75h-0.75zM123.4 339.3h0.75v0.75h-0.75zM125.0 336.8h0.75v0.75h-0.75zM122.0 341.2h0.75v0.75h-0.75zM121.8 337.3h0.75v0.75h-0.75zM126.2 331.6h0.75v0.75h-0.75zM122.2 340.0h0.75v0.75h-0.75zM126.3 333.7h0.75v0.75h-0.75zM128.5 336.2h0.75v0.75h-0.75zM124.4 335.6h0.75v0.75h-0.75zM123.8 335.4h0.75v0.75h-0.75zM123.1 338.9h0.75v0.75h-0.75zM131.1 333.2h0.75v0.75h-0.75zM125.6 336.8h0.75v0.75h-0.75zM127.8 330.4h0.75v0.75h-0.75zM127.9 334.9h0.75v0.75h-0.75zM124.7 335.8h0.75v0.75h-0.75zM129.1 325.0h0.75v0.75h-0.75zM125.7 335.5h0.75v0.75h-0.75zM128.5 329.6h0.75v0.75h-0.75zM124.0 338.8h0.75v0.75h-0.75zM124.9 338.8h0.75v0.75h-0.75zM124.7 338.7h0.75v0.75h-0.75zM126.5 335.4h0.75v0.75h-0.75zM125.9 339.7h0.75v0.75h-0.75zM129.9 332.7h0.75v0.75h-0.75zM130.7 331.8h0.75v0.75h-0.75zM127.4 335.8h0.75v0.75h-0.75zM126.1 331.3h0.75v0.75h-0.75zM122.3 336.9h0.75v0.75h-0.75zM125.5 336.9h0.75v0.75h-0.75zM123.3 336.1h0.75v0.75h-0.75zM125.2 334.9h0.75v0.75h-0.75zM130.7 328.7h0.75v0.75h-0.75zM130.2 334.8h0.75v0.75h-0.75zM126.4 336.0h0.75v0.75h-0.75zM124.0 339.4h0.75v0.75h-0.75zM134.1 327.8h0.75v0.75h-0.75zM122.1 340.4h0.75v0.75h-0.75zM125.8 333.8h0.75v0.75h-0.75zM131.0 330.5h0.75v0.75h-0.75zM128.9 337.8h0.75v0.75h-0.75zM125.5 338.0h0.75v0.75h-0.75zM125.7 337.0h0.75v0.75h-0.75zM126.6 341.6h0.75v0.75h-0.75zM122.8 339.7h0.75v0.75h-0.75zM128.7 337.9h0.75v0.75h-0.75zM126.1 331.9h0.75v0.75h-0.75zM126.6 331.7h0.75v0.75h-0.75zM123.5 339.7h0.75v0.75h-0.75zM130.4 335.1h0.75v0.75h-0.75zM121.3 341.4h0.75v0.75h-0.75zM127.6 331.0h0.75v0.75h-0.75zM127.3 335.4h0.75v0.75h-0.75zM125.8 335.5h0.75v0.75h-0.75zM125.6 335.9h0.75v0.75h-0.75zM124.8 341.0h0.75v0.75h-0.75zM128.2 335.4h0.75v0.75h-0.75zM128.0 332.9h0.75v0.75h-0.75zM124.7 337.4h0.75v0.75h-0.75zM128.3 328.6h0.75v0.75h-0.75zM128.0 334.7h0.75v0.75h-0.75zM124.3 334.9h0.75v0.75h-0.75zM126.8 337.1h0.75v0.75h-0.75zM128.7 328.5h0.75v0.75h-0.75zM133.7 329.7h0.75v0.75h-0.75zM128.1 337.7h0.75v0.75h-0.75zM127.8 334.0h0.75v0.75h-0.75zM125.4 332.5h0.75v0.75h-0.75zM128.9 332.6h0.75v0.75h-0.75zM130.8 330.6h0.75v0.75h-0.75zM129.6 333.0h0.75v0.75h-0.75zM124.0 343.7h0.75v0.75h-0.75zM125.5 339.6h0.75v0.75h-0.75zM125.5 338.2h0.75v0.75h-0.75zM125.5 335.4h0.75v0.75h-0.75zM126.4 337.8h0.75v0.75h-0.75zM125.0 335.2h0.75v0.75h-0.75zM129.1 334.1h0.75v0.75h-0.75zM128.7 332.2h0.75v0.75h-0.75zM124.3 332.1h0.75v0.75h-0.75zM127.0 331.2h0.75v0.75h-0.75zM128.8 335.1h0.75v0.75h-0.75zM127.0 336.1h0.75v0.75h-0.75zM118.9 341.9h0.75v0.75h-0.75zM126.2 336.4h0.75v0.75h-0.75zM129.8 332.0h0.75v0.75h-0.75zM126.1 331.8h0.75v0.75h-0.75zM128.0 335.4h0.75v0.75h-0.75zM122.1 330.3h0.75v0.75h-0.75zM125.5 337.8h0.75v0.75h-0.75zM123.5 339.3h0.75v0.75h-0.75zM126.2 330.7h0.75v0.75h-0.75zM129.1 335.0h0.75v0.75h-0.75zM129.2 332.2h0.75v0.75h-0.75zM129.5 331.2h0.75v0.75h-0.75zM128.0 333.8h0.75v0.75h-0.75zM129.6 331.0h0.75v0.75h-0.75zM127.4 336.7h0.75v0.75h-0.75zM129.2 330.5h0.75v0.75h-0.75zM123.5 337.7h0.75v0.75h-0.75zM127.9 338.3h0.75v0.75h-0.75zM130.3 330.1h0.75v0.75h-0.75zM131.2 331.9h0.75v0.75h-0.75zM126.2 335.7h0.75v0.75h-0.75zM124.5 338.4h0.75v0.75h-0.75zM123.1 339.9h0.75v0.75h-0.75zM128.0 332.2h0.75v0.75h-0.75zM131.1 335.8h0.75v0.75h-0.75zM127.6 339.8h0.75v0.75h-0.75zM130.3 330.9h0.75v0.75h-0.75zM131.3 330.0h0.75v0.75h-0.75zM130.5 328.3h0.75v0.75h-0.75zM130.4 329.3h0.75v0.75h-0.75zM128.2 336.3h0.75v0.75h-0.75zM131.9 330.0h0.75v0.75h-0.75zM124.0 339.3h0.75v0.75h-0.75zM124.7 341.0h0.75v0.75h-0.75zM126.1 329.5h0.75v0.75h-0.75zM131.2 331.9h0.75v0.75h-0.75zM122.7 338.8h0.75v0.75h-0.75zM117.5 345.3h0.75v0.75h-0.75zM127.0 339.4h0.75v0.75h-0.75zM133.3 329.1h0.75v0.75h-0.75zM127.6 331.1h0.75v0.75h-0.75zM124.9 331.8h0.75v0.75h-0.75zM125.3 336.4h0.75v0.75h-0.75zM123.1 341.0h0.75v0.75h-0.75zM126.2 335.1h0.75v0.75h-0.75zM125.7 334.9h0.75v0.75h-0.75zM128.1 337.2h0.75v0.75h-0.75zM123.8 336.1h0.75v0.75h-0.75zM124.2 336.4h0.75v0.75h-0.75zM133.4 329.3h0.75v0.75h-0.75zM129.6 331.4h0.75v0.75h-0.75zM128.4 333.6h0.75v0.75h-0.75zM126.0 339.4h0.75v0.75h-0.75zM127.3 332.0h0.75v0.75h-0.75zM128.3 334.4h0.75v0.75h-0.75zM127.6 340.2h0.75v0.75h-0.75zM126.7 334.3h0.75v0.75h-0.75zM119.0 344.4h0.75v0.75h-0.75zM124.0 336.1h0.75v0.75h-0.75zM127.6 332.8h0.75v0.75h-0.75zM121.6 342.5h0.75v0.75h-0.75zM125.8 331.0h0.75v0.75h-0.75zM129.3 332.4h0.75v0.75h-0.75zM132.7 326.8h0.75v0.75h-0.75zM127.6 331.6h0.75v0.75h-0.75zM135.2 325.6h0.75v0.75h-0.75zM129.9 328.2h0.75v0.75h-0.75zM122.0 342.9h0.75v0.75h-0.75zM121.7 336.6h0.75v0.75h-0.75zM128.5 332.8h0.75v0.75h-0.75zM132.9 325.0h0.75v0.75h-0.75zM128.0 332.0h0.75v0.75h-0.75zM135.3 321.6h0.75v0.75h-0.75zM132.9 327.4h0.75v0.75h-0.75zM139.3 324.8h0.75v0.75h-0.75zM132.7 327.7h0.75v0.75h-0.75zM131.2 327.3h0.75v0.75h-0.75zM128.1 333.4h0.75v0.75h-0.75zM134.7 324.5h0.75v0.75h-0.75zM129.7 332.5h0.75v0.75h-0.75zM126.8 331.9h0.75v0.75h-0.75zM134.8 322.4h0.75v0.75h-0.75zM131.4 327.9h0.75v0.75h-0.75zM134.8 324.3h0.75v0.75h-0.75zM137.5 324.5h0.75v0.75h-0.75zM130.5 329.8h0.75v0.75h-0.75zM136.3 323.3h0.75v0.75h-0.75zM133.7 320.9h0.75v0.75h-0.75zM130.1 331.9h0.75v0.75h-0.75zM131.2 331.2h0.75v0.75h-0.75zM129.0 325.5h0.75v0.75h-0.75zM132.0 327.8h0.75v0.75h-0.75zM132.5 323.5h0.75v0.75h-0.75zM133.6 326.2h0.75v0.75h-0.75zM129.2 331.2h0.75v0.75h-0.75zM126.6 327.3h0.75v0.75h-0.75zM132.6 328.6h0.75v0.75h-0.75zM135.0 324.8h0.75v0.75h-0.75zM132.7 326.5h0.75v0.75h-0.75zM132.7 329.1h0.75v0.75h-0.75zM131.7 325.6h0.75v0.75h-0.75zM138.2 323.6h0.75v0.75h-0.75zM131.9 329.5h0.75v0.75h-0.75zM134.6 322.9h0.75v0.75h-0.75zM137.3 323.8h0.75v0.75h-0.75zM131.1 330.7h0.75v0.75h-0.75zM131.7 326.3h0.75v0.75h-0.75zM129.2 329.0h0.75v0.75h-0.75zM129.1 332.2h0.75v0.75h-0.75zM133.5 326.9h0.75v0.75h-0.75zM136.0 324.1h0.75v0.75h-0.75zM128.8 324.8h0.75v0.75h-0.75zM134.5 327.0h0.75v0.75h-0.75zM134.7 325.7h0.75v0.75h-0.75zM130.9 327.6h0.75v0.75h-0.75zM127.9 325.8h0.75v0.75h-0.75zM134.0 328.2h0.75v0.75h-0.75zM134.3 328.3h0.75v0.75h-0.75zM132.0 329.4h0.75v0.75h-0.75zM133.3 329.6h0.75v0.75h-0.75zM133.1 331.2h0.75v0.75h-0.75zM140.8 323.0h0.75v0.75h-0.75zM121.9 327.9h0.75v0.75h-0.75zM131.1 341.4h0.75v0.75h-0.75zM133.7 337.0h0.75v0.75h-0.75zM142.8 335.8h0.75v0.75h-0.75zM126.5 330.2h0.75v0.75h-0.75zM134.3 340.0h0.75v0.75h-0.75zM139.1 331.5h0.75v0.75h-0.75z" fill="#000" fill-opacity="0.4"/>
<path d="M124.5 335.7h0.75v0.75h-0.75zM128.9 330.3h0.75v0.75h-0.75zM123.3 339.2h0.75v0.75h-0.75zM128.4 328.9h0.75v0.75h-0.75zM124.5 333.3h0.75v0.75h-0.75zM127.8 331.1h0.75v0.75h-0.75zM127.6 332.1h0.75v0.75h-0.75zM126.9 336.4h0.75v0.75h-0.75zM126.1 334.6h0.75v0.75h-0.75zM130.6 335.0h0.75v0.75h-0.75zM130.8 329.5h0.75v0.75h-0.75zM127.9 332.8h0.75v0.75h-0.75zM124.7 332.8h0.75v0.75h-0.75zM129.6 332.4h0.75v0.75h-0.75zM123.7 337.2h0.75v0.75h-0.75zM119.5 345.0h0.75v0.75h-0.75zM125.1 334.9h0.75v0.75h-0.75zM128.4 333.4h0.75v0.75h-0.75zM129.9 328.9h0.75v0.75h-0.75zM126.1 332.9h0.75v0.75h-0.75zM129.0 332.9h0.75v0.75h-0.75zM128.9 332.6h0.75v0.75h-0.75zM125.2 333.9h0.75v0.75h-0.75zM122.3 336.9h0.75v0.75h-0.75zM130.1 328.2h0.75v0.75h-0.75zM128.5 330.2h0.75v0.75h-0.75zM129.7 324.7h0.75v0.75h-0.75zM130.0 332.3h0.75v0.75h-0.75zM124.5 335.0h0.75v0.75h-0.75zM129.3 334.1h0.75v0.75h-0.75zM124.4 333.7h0.75v0.75h-0.75zM129.4 331.0h0.75v0.75h-0.75zM129.1 327.7h0.75v0.75h-0.75zM130.2 332.7h0.75v0.75h-0.75zM122.3 341.8h0.75v0.75h-0.75zM131.3 330.4h0.75v0.75h-0.75zM129.0 333.9h0.75v0.75h-0.75zM123.1 342.3h0.75v0.75h-0.75zM122.0 337.4h0.75v0.75h-0.75zM125.7 332.1h0.75v0.75h-0.75zM125.9 338.0h0.75v0.75h-0.75zM124.1 340.1h0.75v0.75h-0.75zM126.1 333.5h0.75v0.75h-0.75zM121.2 335.9h0.75v0.75h-0.75zM124.3 335.7h0.75v0.75h-0.75zM127.2 334.5h0.75v0.75h-0.75zM126.6 332.3h0.75v0.75h-0.75zM128.1 335.9h0.75v0.75h-0.75zM128.1 333.3h0.75v0.75h-0.75zM123.8 337.0h0.75v0.75h-0.75zM118.9 344.3h0.75v0.75h-0.75zM132.9 330.7h0.75v0.75h-0.75zM127.9 334.4h0.75v0.75h-0.75zM125.1 336.5h0.75v0.75h-0.75zM129.6 333.1h0.75v0.75h-0.75zM127.5 328.4h0.75v0.75h-0.75zM126.0 337.6h0.75v0.75h-0.75zM123.2 331.1h0.75v0.75h-0.75zM122.6 338.7h0.75v0.75h-0.75zM125.8 335.6h0.75v0.75h-0.75zM124.9 338.0h0.75v0.75h-0.75zM124.6 334.6h0.75v0.75h-0.75zM125.4 339.0h0.75v0.75h-0.75zM125.0 337.7h0.75v0.75h-0.75zM126.9 332.8h0.75v0.75h-0.75zM131.7 327.9h0.75v0.75h-0.75zM126.6 334.4h0.75v0.75h-0.75zM123.6 336.6h0.75v0.75h-0.75zM127.5 330.6h0.75v0.75h-0.75zM125.6 338.5h0.75v0.75h-0.75zM133.3 328.9h0.75v0.75h-0.75zM125.4 332.7h0.75v0.75h-0.75zM122.9 339.4h0.75v0.75h-0.75zM127.2 338.1h0.75v0.75h-0.75zM125.4 342.3h0.75v0.75h-0.75zM130.3 329.7h0.75v0.75h-0.75zM126.1 333.8h0.75v0.75h-0.75zM129.2 336.4h0.75v0.75h-0.75zM129.1 331.3h0.75v0.75h-0.75zM129.4 333.0h0.75v0.75h-0.75zM125.7 332.0h0.75v0.75h-0.75zM124.5 337.0h0.75v0.75h-0.75zM126.0 335.4h0.75v0.75h-0.75zM125.6 340.9h0.75v0.75h-0.75zM121.4 342.4h0.75v0.75h-0.75zM128.7 331.2h0.75v0.75h-0.75zM124.0 336.3h0.75v0.75h-0.75zM124.7 331.3h0.75v0.75h-0.75zM122.1 338.5h0.75v0.75h-0.75zM127.1 334.4h0.75v0.75h-0.75zM127.6 330.3h0.75v0.75h-0.75zM124.9 337.9h0.75v0.75h-0.75zM125.3 334.7h0.75v0.75h-0.75zM126.3 336.8h0.75v0.75h-0.75zM126.5 334.9h0.75v0.75h-0.75zM127.3 337.6h0.75v0.75h-0.75zM128.2 333.2h0.75v0.75h-0.75zM128.7 334.9h0.75v0.75h-0.75zM129.0 335.5h0.75v0.75h-0.75zM131.4 331.0h0.75v0.75h-0.75zM129.3 334.5h0.75v0.75h-0.75zM129.9 329.4h0.75v0.75h-0.75zM126.0 340.5h0.75v0.75h-0.75zM125.9 333.8h0.75v0.75h-0.75zM128.8 329.6h0.75v0.75h-0.75zM125.8 334.0h0.75v0.75h-0.75zM122.3 337.9h0.75v0.75h-0.75zM126.4 337.7h0.75v0.75h-0.75zM129.6 328.0h0.75v0.75h-0.75zM126.6 333.2h0.75v0.75h-0.75zM128.6 335.6h0.75v0.75h-0.75zM126.2 333.1h0.75v0.75h-0.75zM125.7 336.5h0.75v0.75h-0.75zM129.0 331.0h0.75v0.75h-0.75zM122.5 340.5h0.75v0.75h-0.75zM130.4 329.1h0.75v0.75h-0.75zM126.9 335.2h0.75v0.75h-0.75zM129.4 329.6h0.75v0.75h-0.75zM129.0 332.1h0.75v0.75h-0.75zM130.8 333.5h0.75v0.75h-0.75zM125.1 333.6h0.75v0.75h-0.75zM127.0 330.1h0.75v0.75h-0.75zM130.7 331.6h0.75v0.75h-0.75zM128.7 332.2h0.75v0.75h-0.75zM129.1 330.0h0.75v0.75h-0.75zM129.8 332.3h0.75v0.75h-0.75zM124.0 331.1h0.75v0.75h-0.75zM129.4 329.7h0.75v0.75h-0.75zM129.6 333.0h0.75v0.75h-0.75zM126.5 337.2h0.75v0.75h-0.75zM127.8 338.2h0.75v0.75h-0.75zM122.7 338.3h0.75v0.75h-0.75zM124.3 334.7h0.75v0.75h-0.75zM126.0 335.1h0.75v0.75h-0.75zM130.5 328.1h0.75v0.75h-0.75zM123.8 341.8h0.75v0.75h-0.75zM127.0 331.7h0.75v0.75h-0.75zM122.6 334.8h0.75v0.75h-0.75zM128.8 333.3h0.75v0.75h-0.75zM127.6 329.7h0.75v0.75h-0.75zM128.5 332.9h0.75v0.75h-0.75zM124.5 339.5h0.75v0.75h-0.75zM128.8 335.1h0.75v0.75h-0.75zM121.7 341.1h0.75v0.75h-0.75zM128.3 333.7h0.75v0.75h-0.75zM125.6 335.6h0.75v0.75h-0.75zM127.4 334.8h0.75v0.75h-0.75zM127.7 335.6h0.75v0.75h-0.75zM127.0 330.2h0.75v0.75h-0.75zM128.1 332.1h0.75v0.75h-0.75zM127.9 331.6h0.75v0.75h-0.75zM125.8 333.8h0.75v0.75h-0.75zM125.4 336.5h0.75v0.75h-0.75zM129.1 328.4h0.75v0.75h-0.75zM126.6 332.9h0.75v0.75h-0.75zM126.2 333.2h0.75v0.75h-0.75zM121.9 339.6h0.75v0.75h-0.75zM129.5 339.2h0.75v0.75h-0.75zM126.3 332.6h0.75v0.75h-0.75zM122.1 336.1h0.75v0.75h-0.75zM127.8 333.5h0.75v0.75h-0.75zM123.6 339.3h0.75v0.75h-0.75zM125.7 333.6h0.75v0.75h-0.75zM124.5 337.7h0.75v0.75h-0.75zM123.8 335.6h0.75v0.75h-0.75zM127.2 337.9h0.75v0.75h-0.75zM126.9 334.9h0.75v0.75h-0.75zM122.5 337.6h0.75v0.75h-0.75zM124.8 338.3h0.75v0.75h-0.75zM122.9 335.1h0.75v0.75h-0.75zM126.3 337.3h0.75v0.75h-0.75zM129.4 336.4h0.75v0.75h-0.75zM132.7 325.9h0.75v0.75h-0.75zM125.2 339.0h0.75v0.75h-0.75zM130.2 328.9h0.75v0.75h-0.75zM125.8 333.1h0.75v0.75h-0.75zM125.2 338.5h0.75v0.75h-0.75zM126.9 336.0h0.75v0.75h-0.75zM125.0 333.5h0.75v0.75h-0.75zM124.5 339.4h0.75v0.75h-0.75zM121.9 339.0h0.75v0.75h-0.75zM125.1 336.8h0.75v0.75h-0.75zM129.4 328.0h0.75v0.75h-0.75zM131.1 334.8h0.75v0.75h-0.75zM118.1 343.9h0.75v0.75h-0.75zM125.4 337.1h0.75v0.75h-0.75zM128.6 330.8h0.75v0.75h-0.75zM123.2 336.0h0.75v0.75h-0.75zM127.7 335.7h0.75v0.75h-0.75zM123.5 343.7h0.75v0.75h-0.75zM125.2 337.2h0.75v0.75h-0.75zM126.2 334.7h0.75v0.75h-0.75zM130.1 328.6h0.75v0.75h-0.75zM120.7 342.3h0.75v0.75h-0.75zM127.9 330.5h0.75v0.75h-0.75zM127.1 335.2h0.75v0.75h-0.75zM128.3 331.6h0.75v0.75h-0.75zM127.0 336.6h0.75v0.75h-0.75zM124.7 335.4h0.75v0.75h-0.75zM123.1 339.2h0.75v0.75h-0.75zM128.1 330.2h0.75v0.75h-0.75zM124.1 339.6h0.75v0.75h-0.75zM125.6 334.4h0.75v0.75h-0.75zM130.0 333.1h0.75v0.75h-0.75zM130.1 332.1h0.75v0.75h-0.75zM128.0 329.4h0.75v0.75h-0.75zM126.9 329.9h0.75v0.75h-0.75zM127.3 335.8h0.75v0.75h-0.75zM129.7 334.1h0.75v0.75h-0.75zM122.9 333.9h0.75v0.75h-0.75zM128.3 334.8h0.75v0.75h-0.75zM124.7 333.0h0.75v0.75h-0.75zM128.6 334.0h0.75v0.75h-0.75zM130.9 326.4h0.75v0.75h-0.75zM127.1 333.7h0.75v0.75h-0.75zM126.8 332.9h0.75v0.75h-0.75zM125.6 339.5h0.75v0.75h-0.75zM127.2 334.4h0.75v0.75h-0.75zM124.7 340.5h0.75v0.75h-0.75zM130.6 333.9h0.75v0.75h-0.75zM129.5 332.6h0.75v0.75h-0.75zM126.6 334.6h0.75v0.75h-0.75zM127.6 331.1h0.75v0.75h-0.75zM127.0 326.2h0.75v0.75h-0.75zM131.2 333.6h0.75v0.75h-0.75zM126.0 337.0h0.75v0.75h-0.75zM124.5 336.2h0.75v0.75h-0.75zM121.7 343.3h0.75v0.75h-0.75zM127.8 336.0h0.75v0.75h-0.75zM124.2 332.5h0.75v0.75h-0.75zM123.6 337.2h0.75v0.75h-0.75zM125.9 333.7h0.75v0.75h-0.75zM130.8 330.1h0.75v0.75h-0.75zM129.7 333.4h0.75v0.75h-0.75zM129.4 334.4h0.75v0.75h-0.75zM126.2 333.6h0.75v0.75h-0.75zM127.3 331.0h0.75v0.75h-0.75zM126.1 338.2h0.75v0.75h-0.75zM131.4 329.0h0.75v0.75h-0.75zM128.1 332.4h0.75v0.75h-0.75zM126.6 334.6h0.75v0.75h-0.75zM122.1 336.4h0.75v0.75h-0.75zM123.2 333.3h0.75v0.75h-0.75zM124.0 340.8h0.75v0.75h-0.75zM127.0 333.5h0.75v0.75h-0.75zM124.8 337.6h0.75v0.75h-0.75zM132.1 323.7h0.75v0.75h-0.75zM127.0 340.1h0.75v0.75h-0.75zM127.5 335.1h0.75v0.75h-0.75zM122.3 343.1h0.75v0.75h-0.75zM131.0 335.4h0.75v0.75h-0.75zM125.6 337.6h0.75v0.75h-0.75zM124.2 334.6h0.75v0.75h-0.75zM126.6 338.2h0.75v0.75h-0.75zM127.8 331.2h0.75v0.75h-0.75zM128.9 333.7h0.75v0.75h-0.75zM125.1 337.4h0.75v0.75h-0.75zM129.0 335.1h0.75v0.75h-0.75zM127.9 331.2h0.75v0.75h-0.75zM129.1 333.0h0.75v0.75h-0.75zM124.0 339.5h0.75v0.75h-0.75zM128.1 334.9h0.75v0.75h-0.75zM128.2 333.7h0.75v0.75h-0.75zM126.2 339.5h0.75v0.75h-0.75zM120.9 341.1h0.75v0.75h-0.75zM122.1 342.7h0.75v0.75h-0.75zM127.2 334.8h0.75v0.75h-0.75zM124.8 331.1h0.75v0.75h-0.75zM122.8 343.8h0.75v0.75h-0.75zM128.1 333.0h0.75v0.75h-0.75zM125.7 337.4h0.75v0.75h-0.75zM127.7 332.1h0.75v0.75h-0.75zM130.4 332.1h0.75v0.75h-0.75zM126.4 329.7h0.75v0.75h-0.75zM124.0 337.8h0.75v0.75h-0.75zM124.0 333.9h0.75v0.75h-0.75zM123.2 337.3h0.75v0.75h-0.75zM129.5 331.3h0.75v0.75h-0.75zM123.6 339.0h0.75v0.75h-0.75zM123.9 335.8h0.75v0.75h-0.75zM125.2 337.8h0.75v0.75h-0.75zM127.8 332.1h0.75v0.75h-0.75zM124.7 338.5h0.75v0.75h-0.75zM127.3 332.4h0.75v0.75h-0.75zM124.5 334.5h0.75v0.75h-0.75zM124.6 333.6h0.75v0.75h-0.75zM125.7 338.7h0.75v0.75h-0.75zM122.9 340.3h0.75v0.75h-0.75zM128.5 329.3h0.75v0.75h-0.75zM131.4 331.0h0.75v0.75h-0.75zM122.9 340.5h0.75v0.75h-0.75zM129.6 337.6h0.75v0.75h-0.75zM125.3 340.3h0.75v0.75h-0.75zM125.3 335.7h0.75v0.75h-0.75zM123.3 337.5h0.75v0.75h-0.75zM125.7 338.5h0.75v0.75h-0.75zM123.1 336.7h0.75v0.75h-0.75zM124.6 338.8h0.75v0.75h-0.75zM123.8 335.6h0.75v0.75h-0.75zM124.6 336.5h0.75v0.75h-0.75zM126.2 332.2h0.75v0.75h-0.75zM127.2 335.2h0.75v0.75h-0.75zM124.1 338.3h0.75v0.75h-0.75zM130.2 329.2h0.75v0.75h-0.75zM125.8 337.1h0.75v0.75h-0.75zM126.3 337.3h0.75v0.75h-0.75zM126.8 337.6h0.75v0.75h-0.75zM130.2 333.3h0.75v0.75h-0.75zM125.2 337.8h0.75v0.75h-0.75zM127.8 329.0h0.75v0.75h-0.75zM122.9 334.1h0.75v0.75h-0.75zM125.6 338.6h0.75v0.75h-0.75zM131.2 331.0h0.75v0.75h-0.75zM130.5 338.0h0.75v0.75h-0.75zM131.1 335.8h0.75v0.75h-0.75zM123.3 336.8h0.75v0.75h-0.75zM124.0 339.9h0.75v0.75h-0.75zM125.4 334.5h0.75v0.75h-0.75zM130.0 331.3h0.75v0.75h-0.75zM128.2 331.5h0.75v0.75h-0.75zM124.1 334.9h0.75v0.75h-0.75zM126.0 336.5h0.75v0.75h-0.75zM131.8 328.6h0.75v0.75h-0.75zM126.8 333.7h0.75v0.75h-0.75zM127.8 329.7h0.75v0.75h-0.75zM129.9 331.7h0.75v0.75h-0.75zM120.6 342.0h0.75v0.75h-0.75zM131.8 331.3h0.75v0.75h-0.75zM127.1 337.0h0.75v0.75h-0.75zM125.4 335.4h0.75v0.75h-0.75zM123.8 334.3h0.75v0.75h-0.75zM126.9 337.5h0.75v0.75h-0.75zM132.2 327.0h0.75v0.75h-0.75zM129.3 332.2h0.75v0.75h-0.75zM128.0 334.2h0.75v0.75h-0.75zM124.7 333.7h0.75v0.75h-0.75zM125.0 335.6h0.75v0.75h-0.75zM125.0 335.0h0.75v0.75h-0.75zM126.5 339.9h0.75v0.75h-0.75zM130.7 331.7h0.75v0.75h-0.75zM129.8 329.8h0.75v0.75h-0.75zM133.1 328.8h0.75v0.75h-0.75zM123.9 334.3h0.75v0.75h-0.75zM132.3 323.4h0.75v0.75h-0.75zM132.2 327.2h0.75v0.75h-0.75zM131.2 324.5h0.75v0.75h-0.75zM130.7 328.5h0.75v0.75h-0.75zM132.8 327.8h0.75v0.75h-0.75zM134.6 324.6h0.75v0.75h-0.75zM135.5 324.9h0.75v0.75h-0.75zM127.2 331.9h0.75v0.75h-0.75zM133.3 328.1h0.75v0.75h-0.75zM128.9 331.0h0.75v0.75h-0.75zM131.5 333.3h0.75v0.75h-0.75zM128.8 331.4h0.75v0.75h-0.75zM133.4 326.6h0.75v0.75h-0.75zM136.8 327.7h0.75v0.75h-0.75zM135.7 329.4h0.75v0.75h-0.75zM131.0 324.4h0.75v0.75h-0.75zM137.8 325.4h0.75v0.75h-0.75zM128.1 323.4h0.75v0.75h-0.75zM134.4 326.5h0.75v0.75h-0.75zM132.2 326.2h0.75v0.75h-0.75zM127.4 328.7h0.75v0.75h-0.75zM133.5 328.9h0.75v0.75h-0.75zM134.5 325.6h0.75v0.75h-0.75zM129.0 326.6h0.75v0.75h-0.75zM135.2 328.8h0.75v0.75h-0.75zM130.5 327.7h0.75v0.75h-0.75zM125.9 330.6h0.75v0.75h-0.75zM130.0 324.4h0.75v0.75h-0.75zM132.8 330.2h0.75v0.75h-0.75zM131.7 330.6h0.75v0.75h-0.75zM130.5 327.2h0.75v0.75h-0.75zM139.4 323.8h0.75v0.75h-0.75zM141.5 321.6h0.75v0.75h-0.75zM131.4 327.0h0.75v0.75h-0.75zM136.3 322.6h0.75v0.75h-0.75zM131.7 326.6h0.75v0.75h-0.75zM135.4 327.2h0.75v0.75h-0.75zM137.0 322.8h0.75v0.75h-0.75zM130.4 327.9h0.75v0.75h-0.75zM135.4 327.6h0.75v0.75h-0.75zM135.6 325.8h0.75v0.75h-0.75zM127.8 330.0h0.75v0.75h-0.75zM130.9 330.0h0.75v0.75h-0.75zM130.9 332.2h0.75v0.75h-0.75zM131.5 327.5h0.75v0.75h-0.75zM127.8 334.8h0.75v0.75h-0.75zM137.4 325.5h0.75v0.75h-0.75zM137.9 328.9h0.75v0.75h-0.75zM136.7 322.1h0.75v0.75h-0.75zM132.4 323.5h0.75v0.75h-0.75zM139.1 337.8h0.75v0.75h-0.75zM126.2 330.6h0.75v0.75h-0.75zM138.9 334.3h0.75v0.75h-0.75zM120.9 327.9h0.75v0.75h-0.75zM122.1 329.0h0.75v0.75h-0.75zM133.0 333.7h0.75v0.75h-0.75z" fill="#000" fill-opacity="0.4"/>
<path d="M122.8 337.9h0.75v0.75h-0.75zM125.2 337.8h0.75v0.75h-0.75zM127.0 335.0h0.75v0.75h-0.75zM123.0 333.6h0.75v0.75h-0.75zM124.1 339.4h0.75v0.75h-0.75zM120.4 341.3h0.75v0.75h-0.75zM127.7 331.9h0.75v0.75h-0.75zM120.8 343.0h0.75v0.75h-0.75zM124.6 335.9h0.75v0.75h-0.75zM124.3 340.6h0.75v0.75h-0.75zM128.6 332.3h0.75v0.75h-0.75zM129.0 331.9h0.75v0.75h-0.75zM128.5 329.1h0.75v0.75h-0.75zM127.0 333.2h0.75v0.75h-0.75zM129.9 330.5h0.75v0.75h-0.75zM131.9 323.1h0.75v0.75h-0.75zM124.8 339.3h0.75v0.75h-0.75zM127.8 335.3h0.75v0.75h-0.75zM124.6 339.3h0.75v0.75h-0.75zM120.8 342.6h0.75v0.75h-0.75zM126.8 330.8h0.75v0.75h-0.75zM125.0 342.3h0.75v0.75h-0.75zM128.0 333.9h0.75v0.75h-0.75zM124.5 334.5h0.75v0.75h-0.75zM129.7 328.0h0.75v0.75h-0.75zM126.5 333.8h0.75v0.75h-0.75zM125.3 335.6h0.75v0.75h-0.75zM129.7 328.7h0.75v0.75h-0.75zM130.7 328.6h0.75v0.75h-0.75zM124.3 338.6h0.75v0.75h-0.75zM124.2 332.5h0.75v0.75h-0.75zM122.6 334.8h0.75v0.75h-0.75zM131.7 330.6h0.75v0.75h-0.75zM125.3 337.7h0.75v0.75h-0.75zM122.4 336.8h0.75v0.75h-0.75zM130.5 333.6h0.75v0.75h-0.75zM124.9 338.0h0.75v0.75h-0.75zM127.3 338.0h0.75v0.75h-0.75zM124.1 336.2h0.75v0.75h-0.75zM126.9 336.5h0.75v0.75h-0.75zM126.7 335.8h0.75v0.75h-0.75zM128.0 331.7h0.75v0.75h-0.75zM126.0 331.8h0.75v0.75h-0.75zM124.1 333.6h0.75v0.75h-0.75zM126.0 337.0h0.75v0.75h-0.75zM126.3 337.6h0.75v0.75h-0.75zM127.8 337.3h0.75v0.75h-0.75zM127.9 335.8h0.75v0.75h-0.75zM126.9 331.9h0.75v0.75h-0.75zM129.0 331.3h0.75v0.75h-0.75zM131.0 328.0h0.75v0.75h-0.75zM121.5 336.4h0.75v0.75h-0.75zM125.5 335.3h0.75v0.75h-0.75zM125.7 336.2h0.75v0.75h-0.75zM127.9 334.0h0.75v0.75h-0.75zM124.4 334.7h0.75v0.75h-0.75zM124.9 338.7h0.75v0.75h-0.75zM129.3 335.6h0.75v0.75h-0.75zM122.2 337.9h0.75v0.75h-0.75zM127.6 334.8h0.75v0.75h-0.75zM130.3 334.9h0.75v0.75h-0.75zM125.3 335.5h0.75v0.75h-0.75zM127.6 332.5h0.75v0.75h-0.75zM129.1 334.4h0.75v0.75h-0.75zM122.6 337.9h0.75v0.75h-0.75zM128.4 334.7h0.75v0.75h-0.75zM125.1 336.3h0.75v0.75h-0.75zM125.3 330.4h0.75v0.75h-0.75zM124.1 335.1h0.75v0.75h-0.75zM128.7 331.2h0.75v0.75h-0.75zM125.8 335.2h0.75v0.75h-0.75zM123.3 335.0h0.75v0.75h-0.75zM120.4 338.3h0.75v0.75h-0.75zM121.5 343.7h0.75v0.75h-0.75zM121.8 337.8h0.75v0.75h-0.75zM130.4 329.2h0.75v0.75h-0.75zM130.2 330.7h0.75v0.75h-0.75zM127.6 331.5h0.75v0.75h-0.75zM124.6 337.8h0.75v0.75h-0.75zM124.7 338.5h0.75v0.75h-0.75zM129.9 333.5h0.75v0.75h-0.75zM124.6 339.0h0.75v0.75h-0.75zM127.7 338.8h0.75v0.75h-0.75zM123.6 340.3h0.75v0.75h-0.75zM124.5 333.6h0.75v0.75h-0.75zM121.9 338.3h0.75v0.75h-0.75zM119.5 345.5h0.75v0.75h-0.75zM123.1 336.2h0.75v0.75h-0.75zM131.0 333.6h0.75v0.75h-0.75zM129.7 331.0h0.75v0.75h-0.75zM124.6 336.8h0.75v0.75h-0.75zM123.4 339.5h0.75v0.75h-0.75zM124.5 336.8h0.75v0.75h-0.75zM129.9 334.5h0.75v0.75h-0.75zM131.4 330.4h0.75v0.75h-0.75zM125.5 336.8h0.75v0.75h-0.75zM125.7 336.3h0.75v0.75h-0.75zM130.2 332.5h0.75v0.75h-0.75zM121.8 337.9h0.75v0.75h-0.75zM121.1 342.9h0.75v0.75h-0.75zM127.1 334.3h0.75v0.75h-0.75zM124.7 338.0h0.75v0.75h-0.75zM128.7 333.9h0.75v0.75h-0.75zM126.6 336.0h0.75v0.75h-0.75zM126.5 336.7h0.75v0.75h-0.75zM128.0 336.6h0.75v0.75h-0.75zM124.3 337.7h0.75v0.75h-0.75zM122.0 339.7h0.75v0.75h-0.75zM128.0 334.4h0.75v0.75h-0.75zM130.9 328.6h0.75v0.75h-0.75zM126.3 333.0h0.75v0.75h-0.75zM123.2 338.2h0.75v0.75h-0.75zM126.7 331.7h0.75v0.75h-0.75zM131.0 327.2h0.75v0.75h-0.75zM125.0 335.4h0.75v0.75h-0.75zM125.0 331.0h0.75v0.75h-0.75zM123.9 336.9h0.75v0.75h-0.75zM125.3 337.3h0.75v0.75h-0.75zM125.6 337.5h0.75v0.75h-0.75zM123.9 341.7h0.75v0.75h-0.75zM130.4 326.9h0.75v0.75h-0.75zM126.8 334.1h0.75v0.75h-0.75zM123.1 336.2h0.75v0.75h-0.75zM127.8 335.4h0.75v0.75h-0.75zM124.5 336.1h0.75v0.75h-0.75zM128.1 334.6h0.75v0.75h-0.75zM127.3 333.8h0.75v0.75h-0.75zM129.1 331.1h0.75v0.75h-0.75zM123.4 337.4h0.75v0.75h-0.75zM130.1 332.8h0.75v0.75h-0.75zM129.4 328.7h0.75v0.75h-0.75zM129.7 328.7h0.75v0.75h-0.75zM124.5 337.5h0.75v0.75h-0.75zM127.8 333.2h0.75v0.75h-0.75zM126.6 335.9h0.75v0.75h-0.75zM127.6 325.8h0.75v0.75h-0.75zM123.3 340.2h0.75v0.75h-0.75zM126.1 332.7h0.75v0.75h-0.75zM123.7 332.9h0.75v0.75h-0.75zM128.1 337.3h0.75v0.75h-0.75zM126.2 329.5h0.75v0.75h-0.75zM126.7 333.6h0.75v0.75h-0.75zM123.6 338.8h0.75v0.75h-0.75zM129.7 332.3h0.75v0.75h-0.75zM126.6 339.5h0.75v0.75h-0.75zM128.5 336.2h0.75v0.75h-0.75zM125.4 333.2h0.75v0.75h-0.75zM126.2 332.9h0.75v0.75h-0.75zM123.0 333.4h0.75v0.75h-0.75zM128.1 332.9h0.75v0.75h-0.75zM130.7 331.7h0.75v0.75h-0.75zM123.3 338.4h0.75v0.75h-0.75zM124.9 340.7h0.75v0.75h-0.75zM129.6 330.9h0.75v0.75h-0.75zM131.4 328.7h0.75v0.75h-0.75zM126.0 337.4h0.75v0.75h-0.75zM122.1 335.5h0.75v0.75h-0.75zM129.6 329.4h0.75v0.75h-0.75zM122.9 335.0h0.75v0.75h-0.75zM128.8 331.4h0.75v0.75h-0.75zM132.5 333.5h0.75v0.75h-0.75zM126.5 339.4h0.75v0.75h-0.75zM128.5 330.9h0.75v0.75h-0.75zM128.7 333.5h0.75v0.75h-0.75zM127.5 327.4h0.75v0.75h-0.75zM128.7 335.7h0.75v0.75h-0.75zM124.1 337.7h0.75v0.75h-0.75zM123.5 337.8h0.75v0.75h-0.75zM127.5 334.0h0.75v0.75h-0.75zM124.7 336.1h0.75v0.75h-0.75zM130.4 333.8h0.75v0.75h-0.75zM128.2 335.7h0.75v0.75h-0.75zM126.7 341.5h0.75v0.75h-0.75zM125.1 340.5h0.75v0.75h-0.75zM124.7 341.3h0.75v0.75h-0.75zM123.2 333.3h0.75v0.75h-0.75zM126.4 333.5h0.75v0.75h-0.75zM128.5 333.5h0.75v0.75h-0.75zM126.6 335.6h0.75v0.75h-0.75zM124.7 340.3h0.75v0.75h-0.75zM129.3 333.0h0.75v0.75h-0.75zM122.8 341.3h0.75v0.75h-0.75zM126.8 335.7h0.75v0.75h-0.75zM126.0 339.1h0.75v0.75h-0.75zM131.7 327.7h0.75v0.75h-0.75zM127.7 330.5h0.75v0.75h-0.75zM132.9 328.9h0.75v0.75h-0.75zM125.8 340.0h0.75v0.75h-0.75zM126.1 335.1h0.75v0.75h-0.75zM128.2 336.1h0.75v0.75h-0.75zM120.8 337.5h0.75v0.75h-0.75zM127.0 334.7h0.75v0.75h-0.75zM124.5 333.6h0.75v0.75h-0.75zM130.5 335.4h0.75v0.75h-0.75zM124.1 338.2h0.75v0.75h-0.75zM125.0 339.7h0.75v0.75h-0.75zM123.6 341.2h0.75v0.75h-0.75zM129.4 330.7h0.75v0.75h-0.75zM125.0 339.4h0.75v0.75h-0.75zM122.2 335.4h0.75v0.75h-0.75zM124.1 334.3h0.75v0.75h-0.75zM124.1 335.4h0.75v0.75h-0.75zM127.9 331.1h0.75v0.75h-0.75zM131.7 332.6h0.75v0.75h-0.75zM125.3 334.3h0.75v0.75h-0.75zM123.1 335.2h0.75v0.75h-0.75zM130.9 334.2h0.75v0.75h-0.75zM123.8 338.4h0.75v0.75h-0.75zM122.6 336.1h0.75v0.75h-0.75zM121.8 343.2h0.75v0.75h-0.75zM125.2 338.6h0.75v0.75h-0.75zM129.2 329.9h0.75v0.75h-0.75zM124.6 331.8h0.75v0.75h-0.75zM131.0 333.9h0.75v0.75h-0.75zM126.7 337.4h0.75v0.75h-0.75zM118.9 340.1h0.75v0.75h-0.75zM126.0 335.6h0.75v0.75h-0.75zM124.5 334.5h0.75v0.75h-0.75zM128.0 337.0h0.75v0.75h-0.75zM125.3 338.9h0.75v0.75h-0.75zM127.3 334.4h0.75v0.75h-0.75zM131.0 325.6h0.75v0.75h-0.75zM129.1 334.1h0.75v0.75h-0.75zM124.2 337.0h0.75v0.75h-0.75zM128.9 333.7h0.75v0.75h-0.75zM130.7 328.5h0.75v0.75h-0.75zM128.6 332.0h0.75v0.75h-0.75zM122.4 338.1h0.75v0.75h-0.75zM127.5 331.9h0.75v0.75h-0.75zM125.2 338.9h0.75v0.75h-0.75zM126.7 332.9h0.75v0.75h-0.75zM130.3 328.3h0.75v0.75h-0.75zM127.1 336.4h0.75v0.75h-0.75zM127.7 332.3h0.75v0.75h-0.75zM131.0 329.9h0.75v0.75h-0.75zM130.5 327.7h0.75v0.75h-0.75zM122.7 336.0h0.75v0.75h-0.75zM124.6 335.5h0.75v0.75h-0.75zM129.2 334.2h0.75v0.75h-0.75zM130.5 333.2h0.75v0.75h-0.75zM129.7 330.2h0.75v0.75h-0.75zM121.6 338.6h0.75v0.75h-0.75zM124.0 334.2h0.75v0.75h-0.75zM128.0 333.5h0.75v0.75h-0.75zM126.8 333.1h0.75v0.75h-0.75zM128.9 330.8h0.75v0.75h-0.75zM128.7 332.0h0.75v0.75h-0.75zM127.5 335.5h0.75v0.75h-0.75zM126.7 332.9h0.75v0.75h-0.75zM123.1 338.3h0.75v0.75h-0.75zM127.1 336.7h0.75v0.75h-0.75zM125.4 336.3h0.75v0.75h-0.75zM125.2 337.5h0.75v0.75h-0.75zM124.4 333.9h0.75v0.75h-0.75zM123.8 340.2h0.75v0.75h-0.75zM124.7 342.5h0.75v0.75h-0.75zM126.3 334.7h0.75v0.75h-0.75zM130.4 329.6h0.75v0.75h-0.75zM126.2 333.3h0.75v0.75h-0.75zM128.8 330.1h0.75v0.75h-0.75zM128.9 332.7h0.75v0.75h-0.75zM128.7 331.5h0.75v0.75h-0.75zM131.8 330.9h0.75v0.75h-0.75zM126.0 343.9h0.75v0.75h-0.75zM130.6 329.4h0.75v0.75h-0.75zM125.4 337.6h0.75v0.75h-0.75zM126.3 331.6h0.75v0.75h-0.75zM128.5 332.3h0.75v0.75h-0.75zM124.2 335.7h0.75v0.75h-0.75zM123.3 337.7h0.75v0.75h-0.75zM129.4 335.5h0.75v0.75h-0.75zM128.9 331.3h0.75v0.75h-0.75zM120.6 342.2h0.75v0.75h-0.75zM121.4 336.8h0.75v0.75h-0.75zM128.9 331.7h0.75v0.75h-0.75zM120.8 339.1h0.75v0.75h-0.75zM127.1 337.4h0.75v0.75h-0.75zM128.4 333.7h0.75v0.75h-0.75zM126.1 332.2h0.75v0.75h-0.75zM126.4 336.0h0.75v0.75h-0.75zM128.2 331.8h0.75v0.75h-0.75zM124.1 335.1h0.75v0.75h-0.75zM127.9 334.6h0.75v0.75h-0.75zM129.0 331.1h0.75v0.75h-0.75zM127.8 333.8h0.75v0.75h-0.75zM125.9 332.6h0.75v0.75h-0.75zM126.1 337.8h0.75v0.75h-0.75zM128.7 329.5h0.75v0.75h-0.75zM127.7 330.6h0.75v0.75h-0.75zM128.8 337.4h0.75v0.75h-0.75zM125.1 336.9h0.75v0.75h-0.75zM128.2 333.5h0.75v0.75h-0.75zM129.6 329.7h0.75v0.75h-0.75zM124.1 343.1h0.75v0.75h-0.75zM125.9 331.8h0.75v0.75h-0.75zM126.0 336.6h0.75v0.75h-0.75zM127.1 335.3h0.75v0.75h-0.75zM122.7 342.3h0.75v0.75h-0.75zM124.1 334.7h0.75v0.75h-0.75zM126.0 331.3h0.75v0.75h-0.75zM127.5 329.2h0.75v0.75h-0.75zM129.0 333.4h0.75v0.75h-0.75zM118.9 343.9h0.75v0.75h-0.75zM126.1 334.6h0.75v0.75h-0.75zM126.9 334.9h0.75v0.75h-0.75zM126.1 331.4h0.75v0.75h-0.75zM129.7 332.2h0.75v0.75h-0.75zM124.0 333.5h0.75v0.75h-0.75zM125.2 337.5h0.75v0.75h-0.75zM125.9 334.7h0.75v0.75h-0.75zM127.5 335.6h0.75v0.75h-0.75zM124.2 337.3h0.75v0.75h-0.75zM122.2 342.1h0.75v0.75h-0.75zM131.8 324.5h0.75v0.75h-0.75zM125.6 336.1h0.75v0.75h-0.75zM128.2 332.8h0.75v0.75h-0.75zM127.1 330.1h0.75v0.75h-0.75zM126.2 332.7h0.75v0.75h-0.75zM125.0 337.2h0.75v0.75h-0.75zM123.6 341.6h0.75v0.75h-0.75zM126.2 337.3h0.75v0.75h-0.75zM125.1 334.6h0.75v0.75h-0.75zM122.4 334.3h0.75v0.75h-0.75zM128.0 338.1h0.75v0.75h-0.75zM127.7 334.0h0.75v0.75h-0.75zM121.9 338.1h0.75v0.75h-0.75zM127.6 332.6h0.75v0.75h-0.75zM126.7 335.5h0.75v0.75h-0.75zM128.1 333.4h0.75v0.75h-0.75zM118.6 342.8h0.75v0.75h-0.75zM129.4 336.0h0.75v0.75h-0.75zM122.7 332.6h0.75v0.75h-0.75zM127.6 333.6h0.75v0.75h-0.75zM127.5 335.4h0.75v0.75h-0.75zM126.4 336.0h0.75v0.75h-0.75zM130.4 332.6h0.75v0.75h-0.75zM122.5 337.6h0.75v0.75h-0.75zM124.3 342.1h0.75v0.75h-0.75zM122.9 340.4h0.75v0.75h-0.75zM121.2 345.0h0.75v0.75h-0.75zM133.8 330.8h0.75v0.75h-0.75zM132.9 327.2h0.75v0.75h-0.75zM133.3 323.0h0.75v0.75h-0.75zM133.6 324.4h0.75v0.75h-0.75zM129.3 326.5h0.75v0.75h-0.75zM133.6 327.7h0.75v0.75h-0.75zM132.6 324.7h0.75v0.75h-0.75zM131.0 327.8h0.75v0.75h-0.75zM139.5 321.8h0.75v0.75h-0.75zM122.7 331.0h0.75v0.75h-0.75zM139.9 324.4h0.75v0.75h-0.75zM128.8 325.3h0.75v0.75h-0.75zM136.1 328.1h0.75v0.75h-0.75zM121.9 333.3h0.75v0.75h-0.75zM141.9 318.2h0.75v0.75h-0.75zM134.9 318.6h0.75v0.75h-0.75zM128.3 331.1h0.75v0.75h-0.75zM131.4 329.7h0.75v0.75h-0.75zM133.4 329.4h0.75v0.75h-0.75zM130.7 327.8h0.75v0.75h-0.75zM133.6 328.4h0.75v0.75h-0.75zM133.3 326.2h0.75v0.75h-0.75zM125.4 336.3h0.75v0.75h-0.75zM133.0 326.4h0.75v0.75h-0.75zM130.7 325.8h0.75v0.75h-0.75zM128.6 331.6h0.75v0.75h-0.75zM133.9 328.0h0.75v0.75h-0.75zM133.3 325.5h0.75v0.75h-0.75zM136.2 326.0h0.75v0.75h-0.75zM133.4 325.2h0.75v0.75h-0.75zM139.2 325.4h0.75v0.75h-0.75zM135.6 327.3h0.75v0.75h-0.75zM127.8 331.3h0.75v0.75h-0.75zM135.5 325.4h0.75v0.75h-0.75zM131.0 328.4h0.75v0.75h-0.75zM126.2 338.2h0.75v0.75h-0.75zM134.8 320.6h0.75v0.75h-0.75zM134.5 323.5h0.75v0.75h-0.75zM137.5 325.7h0.75v0.75h-0.75zM137.3 325.9h0.75v0.75h-0.75zM133.7 326.6h0.75v0.75h-0.75zM132.6 326.9h0.75v0.75h-0.75zM132.6 327.5h0.75v0.75h-0.75zM124.8 331.8h0.75v0.75h-0.75zM130.0 328.0h0.75v0.75h-0.75zM133.9 328.8h0.75v0.75h-0.75zM130.8 329.9h0.75v0.75h-0.75zM128.6 329.1h0.75v0.75h-0.75zM133.6 323.9h0.75v0.75h-0.75zM127.7 332.0h0.75v0.75h-0.75zM135.8 327.7h0.75v0.75h-0.75zM135.7 326.0h0.75v0.75h-0.75zM131.3 340.1h0.75v0.75h-0.75zM134.2 322.6h0.75v0.75h-0.75zM143.3 343.1h0.75v0.75h-0.75zM122.8 332.4h0.75v0.75h-0.75zM133.0 332.2h0.75v0.75h-0.75zM128.4 331.7h0.75v0.75h-0.75zM124.6 333.6h0.75v0.75h-0.75z" fill="#000" fill-opacity="0.4"/>
<text x="52.80" y="310.60" font-size="5.6" text-anchor="middle" fill="#222" >0</text>
<text x="128.40" y="310.70" font-size="5.6" text-anchor="middle" fill="#222" >2</text>
<line x1="26.30" y1="303.40" x2="152.50" y2="303.40" stroke="#222" stroke-width="0.9" />
<g transform="translate(89.30 300.50) rotate(0) scale(0.9173 1)"><text x="0" y="0" font-size="6.4" text-anchor="middle" fill="#1a1a1a">Hrs. after IL-6 removal</text></g>
<g transform="translate(15.80 341.50) rotate(-90) scale(0.6326 1)"><text x="0" y="0" font-size="8.4" text-anchor="middle" fill="#404040" font-weight="bold">Membrane-bound IL-6</text></g>
<line x1="40.70" y1="379.50" x2="78.10" y2="379.50" stroke="#111" stroke-width="0.9" />
<g transform="translate(89.60 381.80) rotate(0) scale(0.6330 1)"><text x="0" y="0" font-size="8.3" text-anchor="middle" fill="#404040" font-weight="bold">GFP</text></g>
<line x1="101.20" y1="379.50" x2="136.50" y2="379.50" stroke="#111" stroke-width="0.9" />
<path d="M134.8 377.7 L139.2 379.5 L134.8 381.3 Z" fill="#111"/>
<rect x="179.0" y="281.9" width="2.3" height="7.0" fill="#000"/>
<line x1="202.60" y1="296.80" x2="202.60" y2="369.20" stroke="#000" stroke-width="1.4" />
<line x1="200.30" y1="362.50" x2="202.60" y2="362.50" stroke="#111" stroke-width="0.9" />
<text x="197.30" y="364.70" font-size="6.1" text-anchor="end" fill="#c03050" >0</text>
<line x1="200.30" y1="349.72" x2="202.60" y2="349.72" stroke="#111" stroke-width="0.9" />
<text x="197.30" y="351.92" font-size="6.1" text-anchor="end" fill="#c03050" >2</text>
<line x1="200.30" y1="336.94" x2="202.60" y2="336.94" stroke="#111" stroke-width="0.9" />
<text x="197.30" y="339.14" font-size="6.1" text-anchor="end" fill="#c03050" >4</text>
<line x1="200.30" y1="324.16" x2="202.60" y2="324.16" stroke="#111" stroke-width="0.9" />
<text x="197.30" y="326.36" font-size="6.1" text-anchor="end" fill="#c03050" >6</text>
<line x1="200.30" y1="311.38" x2="202.60" y2="311.38" stroke="#111" stroke-width="0.9" />
<text x="197.30" y="313.58" font-size="6.1" text-anchor="end" fill="#c03050" >8</text>
<line x1="200.30" y1="298.60" x2="202.60" y2="298.60" stroke="#111" stroke-width="0.9" />
<text x="197.30" y="300.80" font-size="6.1" text-anchor="end" fill="#c03050" >10</text>
<line x1="281.10" y1="295.80" x2="281.10" y2="369.20" stroke="#000" stroke-width="1.4" />
<line x1="281.10" y1="362.50" x2="283.40" y2="362.50" stroke="#111" stroke-width="0.9" />
<text x="286.60" y="364.70" font-size="6.1" text-anchor="start" fill="#3d5a99" >0</text>
<line x1="281.10" y1="349.72" x2="283.40" y2="349.72" stroke="#111" stroke-width="0.9" />
<text x="286.60" y="351.92" font-size="6.1" text-anchor="start" fill="#3d5a99" >1</text>
<line x1="281.10" y1="336.94" x2="283.40" y2="336.94" stroke="#111" stroke-width="0.9" />
<text x="286.60" y="339.14" font-size="6.1" text-anchor="start" fill="#3d5a99" >2</text>
<line x1="281.10" y1="324.16" x2="283.40" y2="324.16" stroke="#111" stroke-width="0.9" />
<text x="286.60" y="326.36" font-size="6.1" text-anchor="start" fill="#3d5a99" >3</text>
<line x1="281.10" y1="311.38" x2="283.40" y2="311.38" stroke="#111" stroke-width="0.9" />
<text x="286.60" y="313.58" font-size="6.1" text-anchor="start" fill="#3d5a99" >4</text>
<line x1="281.10" y1="298.60" x2="283.40" y2="298.60" stroke="#111" stroke-width="0.9" />
<text x="286.60" y="300.80" font-size="6.1" text-anchor="start" fill="#3d5a99" >5</text>
<line x1="202.60" y1="369.20" x2="281.10" y2="369.20" stroke="#000" stroke-width="1.4" />
<line x1="209.80" y1="369.20" x2="209.80" y2="372.20" stroke="#111" stroke-width="1.0" />
<text x="209.80" y="381.00" font-size="6.2" text-anchor="middle" fill="#333" >0</text>
<line x1="225.01" y1="369.20" x2="225.01" y2="372.20" stroke="#111" stroke-width="1.0" />
<text x="225.01" y="381.00" font-size="6.2" text-anchor="middle" fill="#333" >12</text>
<line x1="240.22" y1="369.20" x2="240.22" y2="372.20" stroke="#111" stroke-width="1.0" />
<text x="240.22" y="381.00" font-size="6.2" text-anchor="middle" fill="#333" >24</text>
<line x1="255.43" y1="369.20" x2="255.43" y2="372.20" stroke="#111" stroke-width="1.0" />
<text x="255.43" y="381.00" font-size="6.2" text-anchor="middle" fill="#333" >36</text>
<line x1="270.64" y1="369.20" x2="270.64" y2="372.20" stroke="#111" stroke-width="1.0" />
<text x="270.64" y="381.00" font-size="6.2" text-anchor="middle" fill="#333" >48</text>
<g transform="translate(241.30 392.30) rotate(0) scale(0.7394 1)"><text x="0" y="0" font-size="7.3" text-anchor="middle" fill="#404040" font-weight="bold">Hrs. after IL-6 removal</text></g>
<g transform="translate(182.20 331.80) rotate(-90) scale(0.7985 1)"><text x="0" y="0" font-size="7.0" text-anchor="middle" fill="#c03050" font-weight="bold">IL-6 MFI (x10<tspan font-size="4.20" dx="0.35" dy="-2.94">3</tspan><tspan dx="0.35" dy="2.94">)</tspan></text></g>
<g transform="translate(294.60 331.30) rotate(90) scale(0.6880 1)"><text x="0" y="0" font-size="7.0" text-anchor="middle" fill="#3d5a99" font-weight="bold">Cell count (x10<tspan font-size="4.20" dx="0.35" dy="-2.94">5</tspan><tspan dx="0.35" dy="2.94">)</tspan></text></g>
<polyline points="209.80,308.19 225.01,321.60 240.22,329.27 270.64,340.77" stroke="#b0002a" stroke-width="1.5" fill="none" stroke-linejoin="round" />
<polyline points="209.80,349.72 225.01,341.41 240.22,325.44 270.64,310.10" stroke="#1f3c7c" stroke-width="1.5" fill="none" stroke-linejoin="round" />
<line x1="225.01" y1="317.77" x2="225.01" y2="325.44" stroke="#b0002a" stroke-width="0.9" />
<line x1="223.51" y1="317.77" x2="226.51" y2="317.77" stroke="#b0002a" stroke-width="0.9" />
<line x1="223.51" y1="325.44" x2="226.51" y2="325.44" stroke="#b0002a" stroke-width="0.9" />
<line x1="240.22" y1="325.44" x2="240.22" y2="333.11" stroke="#b0002a" stroke-width="0.9" />
<line x1="238.72" y1="325.44" x2="241.72" y2="325.44" stroke="#b0002a" stroke-width="0.9" />
<line x1="238.72" y1="333.11" x2="241.72" y2="333.11" stroke="#b0002a" stroke-width="0.9" />
<line x1="240.22" y1="322.88" x2="240.22" y2="327.99" stroke="#1f3c7c" stroke-width="0.9" />
<line x1="238.72" y1="322.88" x2="241.72" y2="322.88" stroke="#1f3c7c" stroke-width="0.9" />
<line x1="238.72" y1="327.99" x2="241.72" y2="327.99" stroke="#1f3c7c" stroke-width="0.9" />
<line x1="270.64" y1="301.80" x2="270.64" y2="317.77" stroke="#1f3c7c" stroke-width="0.9" />
<line x1="269.14" y1="301.80" x2="272.14" y2="301.80" stroke="#1f3c7c" stroke-width="0.9" />
<line x1="269.14" y1="317.77" x2="272.14" y2="317.77" stroke="#1f3c7c" stroke-width="0.9" />
<circle cx="209.80" cy="308.19" r="1.8" fill="#b0002a"/>
<circle cx="225.01" cy="321.60" r="1.8" fill="#b0002a"/>
<circle cx="240.22" cy="329.27" r="1.8" fill="#b0002a"/>
<circle cx="270.64" cy="340.77" r="1.8" fill="#b0002a"/>
<circle cx="209.80" cy="349.72" r="1.8" fill="#1f3c7c"/>
<circle cx="225.01" cy="341.41" r="1.8" fill="#1f3c7c"/>
<circle cx="240.22" cy="325.44" r="1.8" fill="#1f3c7c"/>
<circle cx="270.64" cy="310.10" r="1.8" fill="#1f3c7c"/>
<text x="324.00" y="288.90" font-size="11.0" text-anchor="start" fill="#000" font-weight="bold" >J</text>
<line x1="348.60" y1="296.80" x2="348.60" y2="369.10" stroke="#000" stroke-width="1.4" />
<line x1="345.60" y1="369.20" x2="348.60" y2="369.20" stroke="#111" stroke-width="1.0" />
<text x="343.00" y="371.45" font-size="6.2" text-anchor="end" fill="#333" >0</text>
<line x1="345.60" y1="355.14" x2="348.60" y2="355.14" stroke="#111" stroke-width="1.0" />
<text x="343.00" y="357.39" font-size="6.2" text-anchor="end" fill="#333" >2</text>
<line x1="345.60" y1="341.08" x2="348.60" y2="341.08" stroke="#111" stroke-width="1.0" />
<text x="343.00" y="343.33" font-size="6.2" text-anchor="end" fill="#333" >4</text>
<line x1="345.60" y1="327.02" x2="348.60" y2="327.02" stroke="#111" stroke-width="1.0" />
<text x="343.00" y="329.27" font-size="6.2" text-anchor="end" fill="#333" >6</text>
<line x1="345.60" y1="312.96" x2="348.60" y2="312.96" stroke="#111" stroke-width="1.0" />
<text x="343.00" y="315.21" font-size="6.2" text-anchor="end" fill="#333" >8</text>
<line x1="345.60" y1="298.90" x2="348.60" y2="298.90" stroke="#111" stroke-width="1.0" />
<text x="343.00" y="301.15" font-size="6.2" text-anchor="end" fill="#333" >10</text>
<line x1="346.80" y1="369.10" x2="419.00" y2="369.10" stroke="#000" stroke-width="1.4" />
<line x1="356.00" y1="369.10" x2="356.00" y2="372.10" stroke="#111" stroke-width="1.0" />
<text x="356.00" y="381.10" font-size="6.2" text-anchor="middle" fill="#333" >IL-6</text>
<line x1="370.10" y1="369.10" x2="370.10" y2="372.10" stroke="#111" stroke-width="1.0" />
<text x="370.10" y="381.10" font-size="6.2" text-anchor="middle" fill="#333" >0</text>
<line x1="384.40" y1="369.10" x2="384.40" y2="372.10" stroke="#111" stroke-width="1.0" />
<text x="384.40" y="381.10" font-size="6.2" text-anchor="middle" fill="#333" >12</text>
<line x1="397.80" y1="369.10" x2="397.80" y2="372.10" stroke="#111" stroke-width="1.0" />
<text x="397.80" y="381.10" font-size="6.2" text-anchor="middle" fill="#333" >24</text>
<line x1="411.90" y1="369.10" x2="411.90" y2="372.10" stroke="#111" stroke-width="1.0" />
<text x="411.90" y="381.10" font-size="6.2" text-anchor="middle" fill="#333" >48</text>
<circle cx="356.00" cy="315.30" r="1.6" fill="none" stroke="#b0002a" stroke-width="1.0"/>
<circle cx="370.00" cy="365.30" r="1.6" fill="none" stroke="#b0002a" stroke-width="1.0"/>
<circle cx="380.70" cy="364.80" r="1.6" fill="none" stroke="#b0002a" stroke-width="1.0"/>
<circle cx="384.40" cy="364.40" r="1.6" fill="none" stroke="#b0002a" stroke-width="1.0"/>
<circle cx="387.90" cy="364.70" r="1.6" fill="none" stroke="#b0002a" stroke-width="1.0"/>
<circle cx="394.10" cy="364.80" r="1.6" fill="none" stroke="#b0002a" stroke-width="1.0"/>
<circle cx="397.80" cy="364.40" r="1.6" fill="none" stroke="#b0002a" stroke-width="1.0"/>
<circle cx="401.30" cy="364.70" r="1.6" fill="none" stroke="#b0002a" stroke-width="1.0"/>
<circle cx="408.20" cy="364.80" r="1.6" fill="none" stroke="#b0002a" stroke-width="1.0"/>
<circle cx="411.90" cy="364.40" r="1.6" fill="none" stroke="#b0002a" stroke-width="1.0"/>
<circle cx="415.40" cy="364.70" r="1.6" fill="none" stroke="#b0002a" stroke-width="1.0"/>
<line x1="366.90" y1="385.10" x2="417.30" y2="385.10" stroke="#111" stroke-width="1.1" />
<g transform="translate(392.20 395.75) rotate(0) scale(0.7172 1)"><text x="0" y="0" font-size="7.7" text-anchor="middle" fill="#404040" font-weight="bold">Hrs. after IL-6</text></g>
<g transform="translate(391.90 406.00) rotate(0) scale(0.6772 1)"><text x="0" y="0" font-size="7.7" text-anchor="middle" fill="#404040" font-weight="bold">removal</text></g>
<g transform="translate(332.20 332.00) rotate(-90) scale(0.8530 1)"><text x="0" y="0" font-size="6.6" text-anchor="middle" fill="#404040" font-weight="bold">pSTAT3 MFI (x10<tspan font-size="3.96" dx="0.33" dy="-2.77">3</tspan><tspan dx="0.33" dy="2.77">)</tspan></text></g>
<rect x="0.5" y="0.5" width="518.5" height="413.5" fill="none" stroke="#000" stroke-width="1"/>
<rect x="519" y="0" width="1" height="415" fill="#000"/>
<rect x="0" y="414" width="520" height="1" fill="#000"/>
</svg>
</body></html>
